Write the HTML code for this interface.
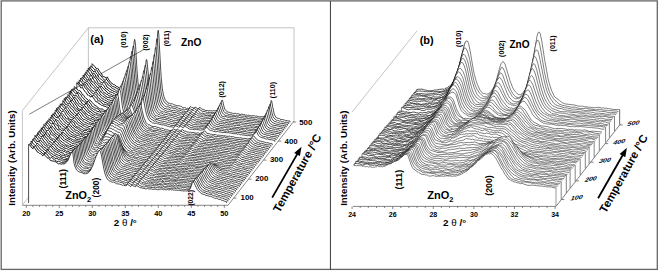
<!DOCTYPE html>
<html><head><meta charset="utf-8"><style>
html,body{margin:0;padding:0;background:#fff;}
svg{display:block;}
text{font-family:"Liberation Sans",sans-serif;font-weight:bold;fill:#000;}
</style></head><body>
<svg width="659" height="271" viewBox="0 0 659 271">
<rect x="0" y="0" width="659" height="271" fill="#fff"/>
<g stroke="#aaa" stroke-width="0.7" fill="none">
<polyline points="22.4,205 22.4,110.5 88.4,27.8 294,27.8 294,121"/>
<line x1="88.4" y1="27.8" x2="88.4" y2="122"/>
<line x1="22.4" y1="205" x2="88.4" y2="122"/>
</g>
<g fill="#fff" stroke="#000" stroke-width="0.7" stroke-linejoin="round"><path d="M92,122.4l0-58.7 2.5,2.5 2,2.6.9-.9.5,.6 2,3.3.5,.6 1,.8 1,2.6.5,.9 1-.1.5,.3.5-.1 1,1.4.5,.4.4-1.2.5-.5 1,2.2 2.5,3.4 2.5,1.9 1.5,.5 1.5,1.4.5-.1.4,.6.5,0 1.5,1 .5,.2.5-.2 1,.5.5,.1 1.5-.4.5,.3.5-.1 1-.5 1,0 .9-1.1 1-.5.5-.6.5-1.1 1-3.6 1-5 1-9.6 2-24.5.5-2.3.5,1.7.5,5 1.4,24.1 1,12 .5,3.5 1,4.5 1,1.6.5,.1.5-.2 1-1.8.5-1.4 1-6.6 2-20.1.4-2.3.5,.7 2,19.8 1.5,10 .5,1.7.5,.2 1,0 .5-.6 1-4 1-7.9 1-13.6 1.4-27.9.5-6.3.5-1.4.5,4.6 2,36.5.5,7.2 1,10 1,5.6.5,2.1 1,2.7 1,1.9.4,.6.5,.1 1,.7.5,1 1,.2.5-.1 1,.6 1.5-.2 1.5,1.1 2,.3.4,.5 2,.3 1-.3 1,.8.5-.2.5,0 .5,.2.5,.8.5,.3 1.5,.4.5-.4.5,0 1.4,1.2.5-.5.5,.1.5-.3.5,.4.5-.2.5-.3.5-1.1.5-.3.5,.6.5,0 .5,.5.5-.1 1.5,.9 1-1.4 2.4,1.5 1,.4.5-.2.5-1.2 1,.3 1.5,1.2 2,.9 1,.1.5,.4 1.9,.1 1.5,.3 1-.2.5,.3.5-.3 2,.4.5-.3 2,.1 1.9-.3 1.5-1.1 1-1.6 1-3.2 1-4.2.5-.4.5,.9 1,4.6 1,3.5 1.9,2.3 1.5,.9 1,0 1.5,.6 1.5,.2.5,.4 1,.2.5-.2 1-.2 1.4,.6 1.5-.2 1,.6 1,.2 1,0 .5-.2 2,.3.5-.1 1.4,.7 1.5,.1.5,.3.5-.3 1,0 .5,.4 2.5,.3 2-.3 1,.5.9,.1 1-.2 1.5,.8.5-.3.5,.2 1,.1 1-.3 1,.3 2.5-.3.4-.4 1.5-.2 1-1 1-2.3.5-1.6 2-10.5.5,.5 1,5.8 1.5,7.1.5,1.3 1.4,2.3.5,.1 1.5,.9.5-.1 1,.3.5,.5 1,.4 1-.1 1,.3 1,.1 1.4,.7 2,.1 1.5,.5.5-.3.5,.2 0,1.3" stroke-dasharray="58.70 52.77 9999"/><path d="M92,63.7l2.5,2.5 2,2.6.9-.9.5,.6 2,3.3.5,.6 1,.8 1,2.6.5,.9 1-.1.5,.3.5-.1 1,1.4.5,.4.4-1.2.5-.5 1,2.2 2.5,3.4 2.5,1.9 1.5,.5 1.5,1.4.5-.1.4,.6.5,0 1.5,1 .5,.2.5-.2 1,.5.5,.1 1.5-.4.5,.3.5-.1 1-.5 1,0 .9-1.1 1-.5.5-.6" fill="none" stroke-width="0.9"/>
<path d="M90.7,124l0-58.2.5,.6.5,.2.5,.9.5,.2 1,.8 1,1.3.5,.4 1-.6.5,.4 2.9,4.6.5,.3 2,2.4.5,.9 1,.8 1.5,1.7 1-1.4 1,.5 1.5,2.5.4,.6 1,.6 1.5,2.1 1,.8 2,.6 3.5,2.1 2.9,.7.5,.3 4-.9 2-2.5 1-2.2 1.4-6.1 1-8.6 2-22.1.5-1.7.5,1.4.5,4.4 1.5,21.8 1,11.4 1,5.6.5,1.6.4,1.2 1,1.1.5,0 1-1.9.5-1.7 1-5.6 2-17.9.5-2.1.5,.8.5,3.3 1.5,14.1.9,6.8 1,4 .5,.7.5,.1.5-.5 1-2.2.5-2.2 1-7.6 1-11.9 1.5-25.1.5-5.6.5-1.3.5,4.1 1.9,33.3 1.5,15.6 1,4.9 1.5,4.1 1,1.7 3,2.4.9,.2 1,.6 1.5,0 2,1.4 1.5-.3 1,.2 2,.7.9,.7 2.5,.5 1,.5 1.5-.1 1,.5.5,0 1-.3 2.4,.7 1-1.8 1,.3.5,.6 2,.6 1-1.5 1,.4 1.5,1.3 1,.5.5-.6.4-1.2.5,0 1.5,1.3 2.5,1.4 3,.4 2,.8 1.4-.4 1.5,.4 2,.1 1.5-.2.5,.3 2-.7 1.9-2.7.5-1.1 1.5-5.2.5-.4.5,1 1.5,5.6 1,2.2 1,1.2 1,.4.5,0 1.9,1.2 1,.3 1-.3 2.5,1 1.5,0 1,.5.5,.1 1-.4.9,.4.5-.1.5,0 .5-.3 1,.1 1.5,.6 2.5-.1 3,.9 1.4-.3 2,.6 2,.1 1.5,.4 1,.1 1.5-.3 1.9,.7 1.5-.3 2,.4 3-.5 1-.7.5-.6 1.4-3.2 1.5-7.7.5-1.6.5,.4 1.5,8.1 1,3.7 1,1.7 2.5,2.2.9,.2.5-.1 1.5,.8 1-.2 1.5,.9 1.5,0 1.5,.6 1.5-.2.5,.3 1.9,.2 0,1.3" stroke-dasharray="58.20 50.52 9999"/><path d="M90.7,65.8l.5,.6.5,.2.5,.9.5,.2 1,.8 1,1.3.5,.4 1-.6.5,.4 2.9,4.6.5,.3 2,2.4.5,.9 1,.8 1.5,1.7 1-1.4 1,.5 1.5,2.5.4,.6 1,.6 1.5,2.1 1,.8 2,.6 3.5,2.1 2.9,.7.5,.3 4-.9 2-2.5" fill="none" stroke-width="0.9"/>
<path d="M89.5,125.6l0-58.3 1.4,1.3 1,1.3 2,2 .5-.7.5-.3 1,1.8 1.5,1.6 1.5,3.1 1.5,1.5.4,.2.5,.6.5,0 .5,.6 1,.6.5,.8.5-.5 1.5,1.1.5,.1.5,.3 1.5,2.4 1,.5.5,.6.5-.1.9,1.1.5,.9 1,.3.5,.5 1,.5.5-.1.5,.3 1.5,1.6 1.5-.2.5,.3 1-.1 1.4,.5 1-.3 1.5-.9.5,.2 2-1.6.5-.8.5-1.6 1.5-5.7 1-7.4 1.9-20.5.5-1.9.5,1.4.5,4.1 2,26.2 1,7.6 1,4.3 1,1.6 1,.5 1-1.9.4-1.6 1-4.9 2-16.3.5-1.7.5,.8.5,3.2 1.5,12.8 1,6.2 1,2.9 1,.9.5-.3.4-.6 1-3.2 1-6.8 1-11.1 1.5-22 .5-4.9.5-1 .5,3.3 2.5,35.3 1,8.3.9,4.9.5,1.6 1,2.2 1,1.6 1.5,1.3 1,.6 1,.4 1-.2.5,.3.5-.1 1.4,1.2 1.5-.3 1,.3 1,.7 1.5-.4 2.5,1.6 1,.3.5-.2 1.9,.4.5,.5.5,.2 1.5-.1.5,.2 1,0 1.5,.9.5-.1.5-1.3.5-.6.5-.1.5,.3.5-.1 1.9,1.2 1-1.3 1,.2.5,.1 1,1 1,.4.5-.4.5-.9.5-.2 3.4,2.9 1,0 .5-.3 2.5,1 .5,0 1-.3 1.5,.4 1-.4.5,.3.4,0 .5,.2 1-.2.5-.4 1,0 1,.3 1.5-.5.5,0 .5-.4 1.5-2.7 1.5-4.9.4-.1.5,1.1 1.5,4.7 1,2 1,1.2 1.5,.9 2,.7 1-.1 1.4,.4 1.5,0 .5,.2.5-.1.5,.3 1,.2 1-.3 2.5,.7 1-.1 2.9,.6 1.5,0 1.5,.5 3-.1 2,.7 1.9,0 1.5,.3.5-.2 2.5,.8 1.5-.2.5,.4.5-.1.5,.3.5,0 1.9-.2.5-.4 2-.1.5,.1 1-.4 1-1.2 1.5-4.4 1.5-6.7.4,.4 2,9.6 1,2 1.5,2.1 1,.5 1.5,.3 1.5,1.1 1-.1 1.9,.6 1.5,.1 4,.8 1-.1.5,.1 0,1.4" stroke-dasharray="58.30 50.25 9999"/><path d="M89.5,67.3l1.4,1.3 1,1.3 2,2 .5-.7.5-.3 1,1.8 1.5,1.6 1.5,3.1 1.5,1.5.4,.2.5,.6.5,0 .5,.6 1,.6.5,.8.5-.5 1.5,1.1.5,.1.5,.3 1.5,2.4 1,.5.5,.6.5-.1.9,1.1.5,.9 1,.3.5,.5 1,.5.5-.1.5,.3 1.5,1.6 1.5-.2.5,.3 1-.1 1.4,.5 1-.3 1.5-.9.5,.2 2-1.6" fill="none" stroke-width="0.9"/>
<path d="M88.2,127.2l0-59 1,1.6.5,.4.5,0 .5,.3 1.5,3 .5,.6.9-1.3 1,1 1.5,2.8 3,3.6 1,1.6 2.5,1.4.9-1.2 1,.7 1,1.4 1.5,2.9 5,3.6.5-.1 1.4,1.1.5-.1 1,.4 1.5,1 1.5,.5 1-.7 1.5,.6 1.5-1 .4,.4 1-.8 1-1.5 1-1.5.5-1.4 1-4.5 1-6.9 2-18 .5-1.8.5,.9.5,3.5 1.4,19.2 1,9.9.5,3.2 1,3.7 1,2 .5,.4.5-.2 1-1.6.5-1.4 1-4.6 2-13.5.4-1.6.5,.5.5,2.4 2,14 1,4.4.5,1.2 1,.9 1-.8 1-2.9 1-5.8 1-10.1 1.4-20.4.5-4.4.5-.8.5,3 .5,5.9 1.5,21.1 1.5,12.6 1,4.5 1,2.5 1,1.9.5,.2.9,.8 1.5,1.6 1.5,0 1,.6 1.5-.1 3,1.4.5-.1 1.4,.4.5-.2 1,0 .5,.4.5-.3.5,.5.5,0 .5,.6.5,0 .5,.3.5-.3 2,.9.5-.1.5,.3 2.4,.1 1.5,.4.5-1.2.5-.5.5-.1 1,.3 1,.5 1,.9.5-.4.5-.8.5,0 .9,.5.5,.6 1,.6.5,0 .5-.1.5-1.1 1-.1 1.5,1.3 1.5,.4 1,.7 1,.3.4,.1 1-.4.5,0 2.5,.7 1,0 .5,.2 1.5-.3 1,0 1.5,.5 2.9-.6.5-.6 1.5-2.4 1.5-4.4.5-.2 2,5.5 1.4,2.7.5,.4 2,.5 1.5-.2.5,.1 1,.9.5,.2.5-.3 1,0 .5,.3 1.5,.3 2.9,.2 1.5,.5 1.5,.2 1.5,.4 1.5,0 1-.2 1.4,.4.5-.1 2.5,.3.5,.2 3,.5 2-.2.4,.3 3,.3 1,.5 1-.4 1.5,.6 1-.1.5,.2 1.5-.5 2.4-.2.5-.5 1-1.8.5-1.3 1.5-5.9.5-1.3.5,.2 1.5,6.5 1,3 .5,1.1 1.9,1.7 4,1.7 1,.2.5-.1 2,.5.5,.3.9,.1 1-.2 1.5,.6 2,.1 0,1.3" stroke-dasharray="59.00 52.77 9999"/><path d="M88.2,68.2l1,1.6.5,.4.5,0 .5,.3 1.5,3 .5,.6.9-1.3 1,1 1.5,2.8 3,3.6 1,1.6 2.5,1.4.9-1.2 1,.7 1,1.4 1.5,2.9 5,3.6.5-.1 1.4,1.1.5-.1 1,.4 1.5,1 1.5,.5 1-.7 1.5,.6 1.5-1 .4,.4 1-.8 1-1.5" fill="none" stroke-width="0.9"/>
<path d="M86.9,128.8l0-58.8.5,.3.5,1.1 1.5,1.5 1.5,2.5.5,.3 1-1.2.5,.2 1.5,2.7.9,.6 1,1.2 1.5,3.2.5,.8 1,.6 1,.1 1,.9 1-.7 1.5,1.4 1.9,3.4.5-.1 2,1.3 1.5,1.7 1.5,.3 1,.5.5,0 1.5,1.1.4-.1 1.5,1.3 2-.3 1,.6.5,.1.5-.3 1.5,0 .5-.3 1-2 .5-.5.9-1.5 1.5-5 1-5.9 1.5-13.4.5-3.4.5-1.5.5,.6.5,2.9.5,4.4 1,13.6 1,9.3 1,4.9.9,2.6.5,.9.5,.2.5-.2 1-1.4.5-1.2 1-3.7 2-12.9.5-1.4.5,.7.5,2.2 1.5,10.6.9,4.9 1,2.6.5,.6.5,.1.5-.3 1-1.7.5-1.5 1-5.4 1-8.7 1.5-18.4.5-3.9.5-.4.5,2.8 2.4,28.3 1,6.6 1,4.4 1.5,3.2.5,.7 1.5,.9.5,.7.5,.1.5,.4.5,0 .9,.5 2,1 1,.2 1.5-.1 1.5,.5.5-.1 1.5,.7 1.4,.3 2.5,.1 1.5,1 .5-.1.5,.4 1,.3.5-.2.5,0 .5-.3 1.5,.9.9-.1.5-.2.5-1 .5-.4 1,.6 2.5,1.1 1-1.5 3.5,2.2.4-.4.5-1.1.5,0 1,.7.5-.1.5,.3 1.5,1.1 1.5,.2.5,.4 1.5-.2 1.5,.6.9,.2 3,.1.5,.3 1.5-.8 1.5,.1 1,.3 1.5-.4 1.4-1.5 2-4.5.5-.5.5,.5 1.5,4.3 1,1.7.5,.4 1,.3 1.5,1.2.9,0 1.5,.5.5,0 .5,.4.5-.2 2,.5.5-.1.5,.1 1.5-.2 1.9,.7 2.5,0 1.5,.3.5-.2 1.5,.7 2,0 1,.1 1.4-.2.5,.4 1,.2 1,.2 1.5-.2.5,.1.5,.3 1.5,.1 2.5,.5.4-.1 1,.1.5,.3 1.5-.2 1,.1.5,.3 1.5-.3 1.5,.2 2-1 .4-.5 1-2.2 1.5-5 .5-1.2.5,.3 1.5,5.4 1,2.8 1,1.7.5,.4 2.4,1.7.5-.1 1.5,.4 1-.2 1,.5 1.5,.1.5,.4 1.5,.2 1.5,.6 1.4-.2 1.5,.4 0,1.3" stroke-dasharray="58.80 52.28 9999"/><path d="M86.9,70l.5,.3.5,1.1 1.5,1.5 1.5,2.5.5,.3 1-1.2.5,.2 1.5,2.7.9,.6 1,1.2 1.5,3.2.5,.8 1,.6 1,.1 1,.9 1-.7 1.5,1.4 1.9,3.4.5-.1 2,1.3 1.5,1.7 1.5,.3 1,.5.5,0 1.5,1.1.4-.1 1.5,1.3 2-.3 1,.6.5,.1.5-.3 1.5,0 .5-.3 1-2 .5-.5" fill="none" stroke-width="0.9"/>
<path d="M85.7,130.5l0-58.4.5,.3.4,.9 2.5,2.6 1,.6 1-1.3.5,.5 2,4.1.5,.4 1,1.7 1,.8 1.4,1.8 2.5,2.1 1-.7 3.5,3.9.5,.2 1,1.1.9,.7 1,1.2 1,.7.5-.2.5,.4.5,0 .5,.6.5,0 1,.8 1.5,.1.5,.4 1.5-.2 1.4,.5 1,.6.5,.1.5,0 .5-.8 1-1 .5,.1.5-.4.5-.2 1-1.1 1.5-5.4 2.4-17.9.5-2.9.5-1.1.5,.9 1,6.4 1,12.7 1,8.9 1,4.5 1,2.6 1,.9.5-.1.5-.3.9-2 1-3.5 2-11.8.5-1 .5,.7.5,2 2,11.5 1,3.7 1,1.1.5,.2.4,0 .5-.3 1-2.4 1-5 1-7.7 1.5-16.2.5-3.8.5-.9.5,2.5 2,21.9 1.5,10.4.9,3.8 1,2.4 2.5,2.8 1.5,.3 1,.7 1,0 .5-.2 1.4,.8 1,0 1,.6 1-.1.5,.5.5,0 .5,.5 1.5-.1 1,.5 1-.5 2.9,1.3 1,.1.5-.3.5,.1 1,1 .5,.2.5-.3 1.5,.5 1-.3.5-1.2.5-.7.5,0 1.4,1.4 1.5,.5.5-.4.5-1 1,.1 2.5,2 .5-.4.5-1.1 2,.7 1.4,1.1 1,.4 2,0 1,.6.5,.2.5-.2.5,.3.5,0 .5,.4 1.5-.4.9,.3 1-.5 1,.3 1.5-.3 2,0 1-.3 1.5-1.4 1.5-3 .5-.8.4-.3 1.5,3.5 1.5,2.2 1.5,1.2 2,.8 1,.2 1-.1.9,.2.5,.4.5-.2.5,.2 1.5-.1 1.5,.6.5-.2 2.5,.3 1.5,.6 1.4,0 1.5,.3 1.5,0 1,.3 1.5-.3 1.5,.6.5-.1 1.5,.3.4,0 1,.4 2.5-.2 1.5,.5 2.5,.1.5,.3 1.5,.1.5,.2.4-.2 1.5,.2.5-.2.5,.1 2.5-.4 1-.5 1-1.2 1-2 1.4-5 .5,.2 1.5,5.5 1,2.5.5,.8 2,1.6 1.5,.8 1,0 1.5,.5.9,.1 1,.5 1.5,.4 3,0 1.5,.6 1.5,.1 0,1.4" stroke-dasharray="58.40 50.70 9999"/><path d="M85.7,72.1l.5,.3.4,.9 2.5,2.6 1,.6 1-1.3.5,.5 2,4.1.5,.4 1,1.7 1,.8 1.4,1.8 2.5,2.1 1-.7 3.5,3.9.5,.2 1,1.1.9,.7 1,1.2 1,.7.5-.2.5,.4.5,0 .5,.6.5,0 1,.8 1.5,.1.5,.4 1.5-.2 1.4,.5 1,.6.5,.1.5,0 .5-.8 1-1 .5,.1.5-.4.5-.2" fill="none" stroke-width="0.9"/>
<path d="M84.4,132.1l0-58.3 1.5,1.2.5,.8.5,.4.5,1.3.5,.1.5,.6.4,.1.5-.5 1,.4 1.5,3.5 1.5,.3.5,.5 1,1.9 1.5,1.3 1,1.8 1-.1.9-.4.5,0 1.5,1.3.5,1.2 1,1.6 1,.9.5,.8 1,.3 1.5,1.2.5-.1 1.4,1.6.5,.2 1-.1 3,1 2,1.4 3-.9.9,.1.5-.3 1.5-1.4.5-.4 1-2.1 1-3.4 1.5-8.2 1.5-11.2.5-.6.5,.9.9,5.8 1,11.6 1,8.3.5,2.7 1,3.6 1,1.6 1,.2 1-1.1.5-.9 1-3.4 1.9-9.9.5-1.1.5,.5.5,1.9 2,10.1.5,1.8 1,2.1.5,.6 1,.5.5-.4.5-.9 1-3.5.5-2.6.9-7.1 1.5-14.4.5-2.9.5-.7.5,2.3.5,4.3 1.5,15.3.5,3.9 1,5.5 1.5,4.6 1.9,2.8 1,.9 1,.4.5-.4 1,.2 1.5,.8.5,.6 1-.1 2.5,.2.5,.5.9,.2.5-.2 1,.1 1,.4 1.5,.2 1.5,.6 1.5,.1 2.4,1.2 2,.4 1-.2 1,.2.5-1.2.5-.6 1.5,.3.5,.3.5,.8 1,.6 1-1.5 1.4,.5.5-.1 1.5,1.2.5-.1.5-1.3.5,0 2,.9 1.5,1.4.5,0 .5,.4 2.9,.3 1,.6 1-.4 1,0 .5,.2.5-.3.5,.3 1-.1 1.5,.4.5-.2 1.4,.2 2-.6 1.5-1.4 2-3.7.5-.2 2.5,4.9 1.4,1.5 1,.5 2,.2.5-.1 2.5,1.1 1-.3 1.9,0 .5,.4 1,.1 1.5-.1 1,.5 1,.2 2,0 .5,.2.5-.2.5,.3.5-.3 1.9,.6 1-.1 1,.6.5,.1.5-.4.5,0 1,.4 1-.1 1,.4 1,.1.5-.3.5,.4.4,0 .5,.3 2-.2 2,.6 3-.1 1,.7 2.9-.4 1.5-.8 1-1.1.5-1 2-5.1.5,.1 2,6.1.5,1.2.9,1.2 2.5,1.6 1.5,0 .5,.5 1,.3.5-.2 1.5,.4.5-.2 1.4,.8 1.5-.2 1.5,.8 1,.1 1,.3.5-.1 0,1.2" stroke-dasharray="58.30 49.99 9999"/><path d="M84.4,73.8l1.5,1.2.5,.8.5,.4.5,1.3.5,.1.5,.6.4,.1.5-.5 1,.4 1.5,3.5 1.5,.3.5,.5 1,1.9 1.5,1.3 1,1.8 1-.1.9-.4.5,0 1.5,1.3.5,1.2 1,1.6 1,.9.5,.8 1,.3 1.5,1.2.5-.1 1.4,1.6.5,.2 1-.1 3,1 2,1.4 3-.9.9,.1.5-.3 1.5-1.4" fill="none" stroke-width="0.9"/>
<path d="M83.1,133.7l0-58.7 1,1.8.5,.6.5,0 .5,.4 1.5,2.3.5,.1 1-1.1 1,1.3.5,1.2.9,1.7 1,.6 2,2.6.5,.2 1,1.4 1,.7 1,1.1 1-1.6 1,1.1.5,1.5.9,1.4.5-.2.5,.3 1,1.3.5,.2 1.5,1.7 3,2 .5-.1 2.4,.5 1,.9.5,.1.5-.2 1,.4 1.5-.4.5,.6.5,.2 1.5-.7.5-.1 1.5-.8.4-.4.5-.8 1-2.6 1-3.7 2.5-15.8.5-1.4.5,.5 1,5.9 1.5,16.2 1,5.3.9,3.5.5,1.1.5,.4 1-.1 1-.5.5-1 1.5-4.8 1.5-7.1.5-.8.5,.3.5,1.7 1.4,7.5 1,3.6 1,1.8 1,.8 2-2.8.5-1.6 1.5-8.7 2-16.2.5-.3.4,2.1 2.5,21.7 1,5 1,2.9 1,1.8 1,1.4.5,.2 1.5,1.5 1.4,.1.5,.4 1,.3.5-.1 1,.6 1.5-.1 1.5,.9 1,0 .5-.3 1.5,1 .5,0 .4-.3 1,.1.5,.5 1,.1.5-.2 3.5,1.3.5,0 1.5,.5.5-.1 1.4,.5.5-.2.5-1.2 1-.6 1,.5.5,.6 1.5,.6 1-1.6 1.5,.9.5,0 1,1.1.4,.1.5-.1.5-1.4.5,.1 1.5,1 .5,0 1,.3 2.5,1.5 1.5-.2.5,.5.9,.2 2,0 1.5-.3 1.5,.3.5,.4 1.5-.4.5,.2 1.5-.4.9,.2.5-.2 1-1.1 1.5-2.6 1-1 1,1 1.5,3.3.5,.6 2,.8.5,.6.9,.1.5-.1.5,.3 1.5-.1.5,.3 1,.2.5-.2.5,0 2,.7 1-.3.5,0 .9,.7 1.5-.3.5,.3 2,.1 1.5,.6 2-.4 1.5,.5.9-.2 1,.3.5,.5 1,.3.5-.1.5,.3 1-.1 1-.3 1,.2.5,.4 2.5,.1.4,.2.5-.2.5,.2.5-.1 1.5,.3 1.5,.5.5-.3 2.5-.1.5,.2.5,0 1.9-1.2 1-1.5 2-4.7.5,.4 1,2.9 2,4.2 2,1.6 2.9,1.1 3,.5 1,0 1,.4 2.5,.4.4,.3 2.5,.3 0,1.2" stroke-dasharray="58.70 51.96 9999"/><path d="M83.1,75l1,1.8.5,.6.5,0 .5,.4 1.5,2.3.5,.1 1-1.1 1,1.3.5,1.2.9,1.7 1,.6 2,2.6.5,.2 1,1.4 1,.7 1,1.1 1-1.6 1,1.1.5,1.5.9,1.4.5-.2.5,.3 1,1.3.5,.2 1.5,1.7 3,2 .5-.1 2.4,.5 1,.9.5,.1.5-.2 1,.4 1.5-.4.5,.6.5,.2 1.5-.7.5-.1 1.5-.8" fill="none" stroke-width="0.9"/>
<path d="M81.9,135.3l0-58 .9,.5 1,.9 1,1.5.5,.4 1,.5 1,.3 1,.9 1.5,1.8 1.5,2.7 1.4,1 .5,.6.5-.1 1,1.1 1,1.7.5,.1.5-.9.5-.5 1,1.5 1,.9 1.5,2.8 1,.3.9,1 1.5,.7 2,1.6.5-.1 1.5,1.5.5-.2 1,.2.5,.4 1.5,.2.5-.4.4,.3.5-.2 1.5,1.2.5,.1 2-.6 1.5-1.6 1-1 1-2.2 1.5-6.4 1.4-9.1.5-2.4.5-1.1.5,.4 1,4.9 1,10.7 1,7.8 1,4.1 1,1.7.5,.2.5,.5 1,0 1.4-2.7 1-2.8 1.5-6.1.5-1.3.5,.4 2.5,10 1,3.1 1,1.3.5,.1 1.4-1.3.5-.9.5-1.6.5-2.3 1-5.8 1.5-11.4.5-2.6.5-.5.5,1.8 2.5,19.2.9,4.9 1.5,3.7 2,3 1,.2.5-.2 2,1.1.5,0 .5,.3 1-.1 1.9,.7 2-.2 1.5,.9 1,0 .5,.4.5-.2 1,.2.5,.7 1.5-.2.4,.5 1.5,.7 1.5-.4.5,.5.5,.2 1-.3 1.5,.5 1-.2.5-.9.5-.5 3.4,1.8 1-1.7 2,1 1.5,1.3.5,0 .5-1.2 1.5-.3 1.9,1.7 1.5,.3.5,.4 1,.3 2,0 .5,.1.5-.2 1,0 .5,.3 2.4,.5.5-.2.5,.1.5-.1 1,.2 1.5-.3 1,.1 1-.3 1-.8 1.5-2.3.9-.8.5,.2 1,2.3 1,1.3.5,.1.5,.5 1.5,.9 1,.1.5-.1 2.5,1 2.4,0 .5,.4 1,.1.5-.3 1.5,.5 1.5-.3 1.5,.4.5-.1.5,.4 1.4,.1 1,.4 1.5-.2 2,.5 2,0 4.4,1.1 1-.3 2,0 1,.4 1.5,.1 1.5,.5.9-.2 1.5,.4.5-.3 3,.3 1.5-.8.5-.1 1-1.2 1.9-4.4.5,.2.5,.9 1.5,4 1,1.6 2.5,1.8 1,.3.5-.1 1,.1 3.9,1.3 1-.4.5,.1 1,.6 2.5,.1 1.5,.5 0,1.3" stroke-dasharray="58.00 50.14 9999"/><path d="M81.9,77.3l.9,.5 1,.9 1,1.5.5,.4 1,.5 1,.3 1,.9 1.5,1.8 1.5,2.7 1.4,1 .5,.6.5-.1 1,1.1 1,1.7.5,.1.5-.9.5-.5 1,1.5 1,.9 1.5,2.8 1,.3.9,1 1.5,.7 2,1.6.5-.1 1.5,1.5.5-.2 1,.2.5,.4 1.5,.2.5-.4.4,.3.5-.2 1.5,1.2.5,.1 2-.6 1.5-1.6" fill="none" stroke-width="0.9"/>
<path d="M80.6,136.9l0-58.8.5,.9.5,.1.5,.5 1,1.9 1,1 .4-.2.5,.3.5-.1 1,1.2.5-.4 1.5,2.9 1,1 .5,1 .5,.4 1,1.2.5,.9 1.5,.6 1.4,1.5 1-1.1.5,.4 1.5,2.2 1,1 .5,.2 1,1.1.5,.9 2,1.5.5,0 .5,.3.9,1 1,0 1,.7.5,.5 1.5,.7 1.5-.1.5,.3 1,.1.5-.3.5,.8.5,0 .5,.4 1.4-1 1-.5.5,0 .5-.4 1-1.1 1-2.1 1-3.6 2.5-13.1.5-1.1.5,.3.9,4.7 1.5,14.2 1,5.5 1,3.2 1,1.1.5,.1.5,.3 1-.6 1-2.2 1-3.1 1.4-5.9.5-.7.5,.7.5,1.4 2.5,9.3 2,2.5 1-.6 1-2.1 1-3 .9-5.1 1.5-10.3.5-2.3.5-.2.5,1.7 2,14.1 1,5.1 1,4 1,2.1 1.4,1.6 1.5,.9 1.5,1.4.5-.1.5,.2 2-.3.5,.2.5-.1 1.5,.8.5-.2 1.4,.4.5,0 1.5,.3.5-.1 2.5,1.1 2.5,.8 1,.1.9,.4.5,0 3,.9 1-.5.5-1.2.5-.2.5,0 2,1.4 1,.2.9-1.8.5,.1 1,.9 2,1.1.5-.2.5-1.2 1,.2 1.5,.9.5,.1 1.5,1.4.9,.4 2-.3.5,.1.5,0 1,.4 1,.1.5-.3.5,.3 3.5,.4 1.4-.2.5,.3.5-.1 3-1.1.5-.4 1.5-2.5.5-.2.5,.5 1,2.4.5,.6.4,.3 1.5,.5 2,1.2 2.5,.1 1.5,.6 1.5,0 .9-.1 2,.1 1,.4 1,0 .5,.2 1.5-.1 2.5,1.1.5-.2 2.4-.1 1.5,.1 1,.4 1,0 .5-.4 1.5,1 .5-.3 1-.2 1.9,.9 1-.1 1,.4 1-.6.5,0 .5,.1.5,.5 1,.4 2.5-.2 1,.3 1.4,0 2.5-.4 1.5-1.8 2-3.5.5,.2 1.5,3.6.9,1.9 2,1.8 1,.2 1.5,.7 1,.3 1-.3 1.5,.6 5.4,.9 1.5,.6 1,0 0,1.2" stroke-dasharray="58.80 50.75 9999"/><path d="M80.6,78.1l.5,.9.5,.1.5,.5 1,1.9 1,1 .4-.2.5,.3.5-.1 1,1.2.5-.4 1.5,2.9 1,1 .5,1 .5,.4 1,1.2.5,.9 1.5,.6 1.4,1.5 1-1.1.5,.4 1.5,2.2 1,1 .5,.2 1,1.1.5,.9 2,1.5.5,0 .5,.3.9,1 1,0 1,.7.5,.5 1.5,.7 1.5-.1.5,.3 1,.1.5-.3.5,.8.5,0 .5,.4 1.4-1 1-.5.5,0 .5-.4" fill="none" stroke-width="0.9"/>
<path d="M79.3,138.5l0-58.6 1.5,1.6.5,.1.5,1.1.5,.2.5,.9.5,.2.5,.5.5-.4.5-.1 1,1.1.4,1.2 1,1.6.5,.1.5,1 .5,.3.5,.9.5-.2.5,.9.5,.3.5,1.2 1,.8 1,.2.5,.9 1-.6.5,.3.5,.1.9,.9 1,1.9 1.5,1.7 2.5,2 1,.4.5-.2 1.5,1.9 1.4-.2.5,.5.5,.2.5,.8 2-.1.5,.4.5,0 .5,.5.5,0 .5,0 .5-.4.5,.2 1-.3 1-.7.5-.1.5-.5.4-.3 2-4.2 1-3.9 2-10 .5-.9.5,.1.5,1.4.5,2.5 1.5,14.1.5,2.8.4,2.3 1,2.9.5,1.1 1,.8 1-.3.5-1 .5-.5 1-1.9 2-7.4.5-1 .5,.2 1.9,7.5 1,2.6 1,1.5.5,.4 1-.2 1-.5 1-1.9.5-1.8 1-4.7 1.5-9 .5-1.8.4-.4.5,1.4 2.5,15.8 1,4.2.5,1.5 1,2 3.5,2.7 1.4,.2 2,.6 2,.9 1,0 1.5,.5.5-.1 1,.5.5-.2.9,.2 1,.4.5,0 .5,.5 1-.4.5,.1 1,.8 1,.1 1.5,.6 1.5-.2 1.9,.8 1-.3.5-1.1.5-.6 2,.9 1.5,1 1-1.3.5,0 2.9,1.7.5-.3.5-.9 7,2.9 1,.1 1.4-.4 1.5,.5.5-.1.5,.2 2.5,.1.5-.3 1-.1 1,.5 1.4-.1 2-1.2 1.5-2.2 1-.3 2,2.8 1,.9.5,.3 1.5,.3 1.9,1.1 1.5-.1 1,.3.5-.1.5,.4.5,0 1.5-.2 1,.2 1,.3.5,.4.9,0 1.5-.5 1,.4.5,.4 1.5-.6 2,.5 1-.1 1,.4 1.4-.1.5,.5 2.5,.2.5-.1 1.5,.4.5,0 1.5,.6 1.5-.2 3.4,.4 1.5,.6 2-.1 1.5,.3.5-.2.5,.3 1,.1.4-.6 1.5-.6 2.5-4.1.5,.2.5,.7 2,4.3 2,1.4 1.9,.4 2,.9 1-.1 1,.2 2,.9 1.5-.1 1,.2 1.9,.2 1.5,.6 0,1.1" stroke-dasharray="58.60 50.83 9999"/><path d="M79.3,79.9l1.5,1.6.5,.1.5,1.1.5,.2.5,.9.5,.2.5,.5.5-.4.5-.1 1,1.1.4,1.2 1,1.6.5,.1.5,1 .5,.3.5,.9.5-.2.5,.9.5,.3.5,1.2 1,.8 1,.2.5,.9 1-.6.5,.3.5,.1.9,.9 1,1.9 1.5,1.7 2.5,2 1,.4.5-.2 1.5,1.9 1.4-.2.5,.5.5,.2.5,.8 2-.1.5,.4.5,0 .5,.5.5,0 .5,0 .5-.4.5,.2 1-.3 1-.7.5-.1.5-.5" fill="none" stroke-width="0.9"/>
<path d="M78.1,140.1l0-58.4 1.4,2 .5,.2.5,.8.5,.1 1,1.2.5,.2.5-1 .5-.5 1.5,3.2.5,.3.5,.7.5,.3 1,1.3 1.4,2.6 1.5,1 2,2 1-1 .5,.1 2,2.5.5,.1 1,1.2.5,1.4.4,.4 1.5,.4 3.5,3.1 1.5-.1.5,.5.5,0 .5,.3.5-.2 1,.2.9,.6.5-.2 1,.4 1.5-.6 1.5,.1.5,.4 1-.6.5-.9.5-.2 1-1.9 1.4-5 2-9.6.5-1.4.5,0 .5,1.4.5,2.6 1,9.7 1,6.6.5,2.2 1,3 .5,.7.5,.2 1.4-.1 1-1 1-2.1 1.5-5 .5-1 .5-.4.5,0 .5,1 1.5,5.3 1.5,2.9.5,.6.5,.2 1.4,.2.5-.4 2-4.9 2-10.7.5-1.6.5-.5.5,1.2 2.5,14.7 1.4,4.8 1,2.1 1,1.2.5,.4 1.5,.7 1.5,1.1 1.5-.3 1.5,1.1.9,.4 1,.1 1.5,.5 1-.2 1,.2.5,.3.5,0 .5,.4.5-.1.5,.2.5-.3 1.5,.7 2.4,.4 1,.7 1.5,.2 1,0 2.5,.3 1-1.4.9,.2 2.5,1.3 1-1.6 1.5,.9 1,.2 1,.5.5-.1.5-1 1,0 .5,.1.9,1.1 1,.3.5,.7.5,.3 1.5,.3 1.5,0 .5,.4 1,.2 2-.2 1.9,.3 1.5-.3 1.5,.3 1-.1 1,.2 1-.5.5,.1 1-.5 1.9-2.2.5-.2.5,.2 1.5,2.5 1,1 1.5,.1 2,1 2-.3.4,.2 1.5,.1 2.5,.8 2-.2 1.5,.7 2,0 .9-.3 2,.8 1-.2 4.5,.7.5-.1 1.4,.6.5-.3 3.5,.2 1.5,.5 1.5,.2 2,.5 1.4,0 1.5,.4 1-.2 3,.5.5-.2 2-1.7 1.4-2.2.5-.4.5,0 2.5,4.3 1,.9 2,1.3.5,.2 1.5-.2 1,.5 2.4,.7.5-.1 2,.4.5,0 .5,.2.5-.1 1,.2.5,.3 2,.3 0,1.2" stroke-dasharray="58.40 51.10 9999"/><path d="M78.1,81.7l1.4,2 .5,.2.5,.8.5,.1 1,1.2.5,.2.5-1 .5-.5 1.5,3.2.5,.3.5,.7.5,.3 1,1.3 1.4,2.6 1.5,1 2,2 1-1 .5,.1 2,2.5.5,.1 1,1.2.5,1.4.4,.4 1.5,.4 3.5,3.1 1.5-.1.5,.5.5,0 .5,.3.5-.2 1,.2.9,.6.5-.2 1,.4 1.5-.6 1.5,.1.5,.4 1-.6" fill="none" stroke-width="0.9"/>
<path d="M76.8,141.7l0-59 .5,1 1,.7.5-.1.5,1.2.5,.4.4,1.1 1,1.2 1-1 1.5,2.6.5,.4.5,1 1,1.2.5,.2 1.5,2.5.5,.3.5-.5 1,1 .4,.9 1,0 1-.8 2,3 .5,.3.5,1.2 1,1.4 1-.2 1,.8.5,.9.5-.2.5,.9.4-.3.5,.8.5,.2.5,.6 1,0 1.5,.8 1,0 1.5,.9 1,.1 1.5,.5 1.4-.3.5,.3 2-.7.5-.5 1.5-1.5 1-2.6 1-3.1 1.5-7.4.5-1.8.5-.8.4,.2.5,1.2.5,2.2 1.5,12.8.5,3 1,3.2 1,1.7 1,.4.5-.3.5,.1 1-.5 1-1.9 1.4-4.7 1-2 .5,.1.5,.7 2,5.8 1,2.2.5,.5.5,.2 2-.5 1-1.7 1.4-4.7 1.5-7.8.5-1.1.5,.3.5,1.3 2,10.6 1,4 1,2.9 1.5,2.5.9,1.2 1.5,.8 1,.9.5,.2.5-.2 1.5,.5 1-.3.5,.1 1,.6 1.5,.2.4,.3.5-.1 2,.8 1.5-.3 1.5,.8 1-.2 1.5,1 1.5,.1.9,.4 1.5,0 1.5,.3 1,.4.5-.2 1-1.8 1.5,.8 1,.2 1,1.1.4-.3.5-1.1 1,0 2.5,1.6.5-.3.5-1.2.5-.1 3,1.6 1.4,1.2 1.5,.3 1-.1 1,.1 2,.5.5-.3 1-.3.5,.4 1.5,.1 2.4,.5 1.5-.4 2-.2 1-.7 1.5-1.6.5,0 .5,.3 1.4,2 .5,.4 1,.4.5,0 .5,.2.5,0 .5,.3.5,0 .5,.5.5,.1 1,0 1,.4 1.5-.4 1,.1.4,.4 2,0 .5,.3 1.5,.3 2-.2 1.5,.2.5,.2 1.9-.3 1,.5 1.5,.1.5,.3 1.5,.1.5,.2 3,.1.5,.3 1.4-.1 1,.4.5,.4 1.5-.1 1,.3 1.5,0 1,.4 1-.1 1,.5 1.4-.3 3,.5 1-.3 1-1 1-.7 1.5-2.4.5,0 1.9,3.7 1,1.2 1,.6 2.5,.8 1,.1 1.5,.8 1,.3 1-.3 1.4,.7 2.5,.3.5-.1 1.5,.6 1.5,0 0,1.4" stroke-dasharray="59.00 52.43 9999"/><path d="M76.8,82.7l.5,1 1,.7.5-.1.5,1.2.5,.4.4,1.1 1,1.2 1-1 1.5,2.6.5,.4.5,1 1,1.2.5,.2 1.5,2.5.5,.3.5-.5 1,1 .4,.9 1,0 1-.8 2,3 .5,.3.5,1.2 1,1.4 1-.2 1,.8.5,.9.5-.2.5,.9.4-.3.5,.8.5,.2.5,.6 1,0 1.5,.8 1,0 1.5,.9 1,.1 1.5,.5 1.4-.3.5,.3 2-.7.5-.5" fill="none" stroke-width="0.9"/>
<path d="M74.2,145l0-58.3.5,.1.5,.7.5,.4.5,.9.5,.1.5,.7.5,.1.5,.9.5,.4 1-.6 1.5,1.8.5,1.1 1,1.6.5,0 .5,.3.9,1.8 1.5,1.6 1,.4.5,.7.5,.2.5,.5.5-.6.5,.2 1.5,1.2.5,.8.5,.3 1.9,2.3 1,.9 1.5,.7 1.5,1.4 1.5,1 1,.4 1.5-.1.5,.2.5,.2.9,1 .5,.1 1.5,.3.5-.2 1,.3.5-.1 1-.7.5,.1 1.5-1.2 1.5-1 .5-.6.9-2.7 2.5-9.7.5-.8.5-.2 1,2.9 1.5,12 1,4.7 1,2 1,1.1.9-.1 1-.4 1.5-2.3 2-5.4.5-.6.5-.2 1,2 1.5,3.8 1,1.6.5,.1.4,.5 1,.3 1-.4.5-.4 1-1.9 1.5-4.4 1-3.9.5-1.2.5,.3.5,1.6 1,4.7 1.9,7.7 2,4.5 2,2 .5,.3.5-.2 2,1.3 2,.7 1.4,0 .5-.2 1,.2.5,.4 2.5,.7 1.5,.6 1-.2.5,.3 1.4,0 .5,.6 1,.5.5-.2 1.5,.6 1,0 1.5,.6 2.5,0 .5-1.1.9-.6 2,1.1.5-.1.5,.2.5-.3.5-.8 1.5,1.1 1,.3.5,.5.5,.2.5-.3.5-1.1.5-.2 1.9,1.6 1,.3.5-.1 1.5,.8 1.5,.1.5,.4 1.5-.3 1,.3 1.4-.1 1,.2 1,.5 1,.1 1-.1.5-.3 1,.1 1,.7.5-.1.5-.6 1-.5 1-.1 1.4-1.3.5-.1.5,.3.5,0 1.5,2.2 2,.2 1.5,.6 1,0 .5,.3.9,.1.5-.2.5,.3 2-.1.5,.1.5,.5 1,.3.5-.4 1,0 1,.5 1.5-.3 1.4,.3.5,.3 1.5-.1 1.5,.5 2,0 .5-.2 1,.2.5,.4 1.9-.1 1,.1 1.5,.9 3,.1 1,.3 2-.3.5,.4.9,.3.5-.3.5,.3 1.5-.1 1,.4 1.5,.2.5,.1 3.5-1 1.4-1.8.5-.3.5,.1 2.5,3.2 2,1.3 2,.6 2.4,.5 1.5,.6.5-.1 1.5,.7 1.5-.1 2,.7 1,.2.5-.2.9,.3 0,1.3" stroke-dasharray="58.30 49.06 9999"/><path d="M74.2,86.7l.5,.1.5,.7.5,.4.5,.9.5,.1.5,.7.5,.1.5,.9.5,.4 1-.6 1.5,1.8.5,1.1 1,1.6.5,0 .5,.3.9,1.8 1.5,1.6 1,.4.5,.7.5,.2.5,.5.5-.6.5,.2 1.5,1.2.5,.8.5,.3 1.9,2.3 1,.9 1.5,.7 1.5,1.4 1.5,1 1,.4 1.5-.1.5,.2.5,.2.9,1 .5,.1 1.5,.3.5-.2 1,.3.5-.1 1-.7.5,.1 1.5-1.2" fill="none" stroke-width="0.9"/>
<path d="M73,146.6l0-57.9.5,.6 1,.3.5,.8.5,.2.5,.6.4,.2 1,1.7 1-.5 1.5,1 1,1.2 1,2 .5,.7.5,.6.5,.2 1.5,1.9.9,.7.5,1 .5,.4.5,0 .5-1.3.5-.4 1.5,2.4 1,.7 1.5,2.8 1,.3 1,.8 1,.5.5,0 .4,.3.5-.2 1.5,1.1.5,.1 1.5,1.9 1.5-.3 1,.4.5-.2 1,.2 1,.6.9-.1.5-.2.5,.2.5-.2.5,.1.5-.3.5,.2.5-.4.5-.3 1.5-2.6 1-2.5 2-7.3 1-2.1.4,.1 1,2.2 1.5,12.1.5,2.6.5,1.6 1.5,2.3.5,.4 1,.1 1-1 1-1.4 1.9-4.7 1-1.6.5,0 .5,.7 2,3.7 1.5,1.9 1,.5 1.5,0 .5-.3.9-1.5 1-2.5 1.5-4.8.5-.8.5,.2.5,.7 3,12.8 1,2.3 1,1.4 2.4,2.7.5,.5 2,1.2 1.5,0 1.5-.3 2,1.3 1.4-.2 2.5,.9 1-.3 1.5,.8 2,.5 1,.1 2.4,.9 1,.1 1,.3 1.5-.3.5,.1.5-.9.5-.4 1,.2.5,.4 2,.9.9-1.7 1,.8 1.5,.5 1,.6.5-.1.5-1 .5,0 2,1.3 2,.7 1.4,1 2,.2 2,0 1.5-.3.5,.3.5,0 .5,.2 1.5-.4 1.4,.4 2.5,.1 2-.4 1.5-1.3 1-.2 1,.6 1.4,1.5 1,.6 2,.1 1,.5 1,.2 1,0 .5-.3 1.5-.1 1.4,.8 1,.2 2.5-.3 2,.5 1.5,.1 1,.4 1.4-.6 1.5,.8 4.5,.8.5-.3 1,0 3.4,1 .5-.1 1,.3 6.5,.5.5,.3 2.4,.2 3-.3.5-.5.5-.1 1-.8.5-.6.5-.1.5,.1 2.4,2.8 2,1.5 1.5,.2 1.5,.9 1.5-.3 4.4,1.5 2,.2 1.5-.1 1.5,.7 0,1.1" stroke-dasharray="57.90 50.38 9999"/><path d="M73,88.7l.5,.6 1,.3.5,.8.5,.2.5,.6.4,.2 1,1.7 1-.5 1.5,1 1,1.2 1,2 .5,.7.5,.6.5,.2 1.5,1.9.9,.7.5,1 .5,.4.5,0 .5-1.3.5-.4 1.5,2.4 1,.7 1.5,2.8 1,.3 1,.8 1,.5.5,0 .4,.3.5-.2 1.5,1.1.5,.1 1.5,1.9 1.5-.3 1,.4.5-.2 1,.2 1,.6.9-.1.5-.2.5,.2.5-.2.5,.1.5-.3.5,.2.5-.4" fill="none" stroke-width="0.9"/>
<path d="M71.7,148.2l0-58.9 4,4.3.5,.2 1-1.3 1.9,4 1.5,1.8 1.5,2.4 1.5,.5 1.5,1.4 1,.7 1-.9.5,.9.4,.3.5,.8.5,.3 1.5,2.5 1,.9.5-.3 2,2 1,.3.5-.1 1,.7.5,.8.9,.2 1-.2.5,.5 1,.3 1.5,1.1 1-.2 2,.5 1,0 2.4-1.4.5-.1 1-.9 1-2 1-2.8 1.5-5.9.5-1.4.5-.8.5-.2.5,.8.5,1.6 1,8.2.9,5.7 1,2.7 1,1.9 1,.2 2.5-2.9 1-1.9 1-2.9 1-1.4 1,.1 1.4,3.6 1,.9 1,1.3 2,.3 1.5-.6.5-.5.5-.9 1.5-4.6.5-1.1.4-.6.5,.2.5,1.4 2.5,10.1 2,5 1,.9.5,.2 1,1.3 1.9,1.3 1.5,.6 2,.1.5,.4 1.5,.7 2,.4 2.9-.1 1.5,.7 2,.5 1.5,.7 1,0 .5,.4 1.5-.1 1,.4.9,.1 1.5,.5 1-2.1 1,.3.5,.6 1,.2.5,.4.5,0 .5-.4.5-.8.5,.5 1.9,1 1.5-.1.5-.7.5,.1 2.5,1.8 2.5,.6 1,.5 4.9,.3 1-.1 1,.2 1.5-.2 2.5,.4 1.4-.5 2-.3 1.5-1.3.5,0 3,2.2 1.5,.7.4-.1 1.5,.4 1-.2.5,.3 1,.1.5-.3.5,0 2.5,1 1,.1.5-.2.9,.1.5,.3 1,.2 3.5-.1 1.5,.7.5-.1.5,.2.5-.2.5,.1.5-.1.5,.2 2.9,.1.5,.3 2.5,.2 1.5,.4.5-.1.5,.3 1.5-.1 3.4,1.1 1.5-.5 1.5,.5 1-.1 1.5,.4 1.4-.3.5,.2 1,0 1.5-1.1 1-1.1.5-.1 1,.7 1.5,2.1 1,.8 2.9,.9 1.5,.7 1,0 1.5,.5.5-.1 1,.2.5,.4 1.5,.1 3.4,.9 1.5,.2 0,1.2" stroke-dasharray="58.90 50.71 9999"/><path d="M71.7,89.3l4,4.3.5,.2 1-1.3 1.9,4 1.5,1.8 1.5,2.4 1.5,.5 1.5,1.4 1,.7 1-.9.5,.9.4,.3.5,.8.5,.3 1.5,2.5 1,.9.5-.3 2,2 1,.3.5-.1 1,.7.5,.8.9,.2 1-.2.5,.5 1,.3 1.5,1.1 1-.2 2,.5 1,0 2.4-1.4" fill="none" stroke-width="0.9"/>
<path d="M70.4,149.8l0-58.9 1,2.1 1,.5 1,1.3.5,1.1.5-.2.5,.5.5-1.2.5,.1 3.5,4.3 3.4,4.9.5,0 1.5,.7 1-2 1,1.2 1,2 1,1.5.5,.1.4,.5 1,1.3 2,1.2.5,.7.5,.1.5,.6 1,.6.5-.1 1.5,1 .5,0 1,.4.9-.1.5,.6 1,.4 1.5,0 .5-.1 2,.6.5-.1 1.5-1.2.5-.4 1-1.4 1.4-2.5 2.5-8.2.5-1.1.5-.5.5,.5.5,1.5 1,8.4 1,5.5 1,2.2 1,1.4.9,.3 1-.4 1-1.2.5-.7 2-4.8.5-1 .5-.4.5,0 1,.9 1.5,2.5 1.9,2.1 1,.1 2-.3 3.5-6.6.5,0 .5,.9 2.4,9.5 1.5,3.9 2,3.2 1.5,1.2.5,.2 1.5,1.5 1,.2 1-.1.9,.3 1-.1 1.5,.9.5-.1 3,.4 1,.5.5,.4.5-.1 1.4,.5.5-.1 1,.2 1.5,1 1.5-.4.5,.6.5,0 .5,.4 1,.1 1-.6 1,.4.5-.9.4-.4.5-.1 1,.1 2,1.4 1-1.2 3.5,1.8.5-.1.5-1.2.9-.1 3,2.1 1,.2 2,.7 3,.2.9,.4 1-.3 3,.3.5-.2.5,.4 1,.2 1-.8 2.9,0 1-1 1-.3 3,2.3.5,.1.5-.2 1.5,1.1 1-.5 1.4,.3.5-.2 1.5,.5 4.5,.2.5,.3 1.5,0 1,.3 1.4-.1 1,.4 1.5,0 1.5,.3.5-.2 1,.1 1,.5 1,.1.5-.3 2.9,.5.5-.1 2.5,.8 1.5,.1.5,.2 1.5-.1 1,.1.4,.3 2.5,.4.5-.2 1,0 1,.5 1-.2 1.5,.5 2-.5.9-1 1-.6.5,0 .5,.2.5,1 2,1.5 4,1.8 1.9,.4 1-.3.5,.1 1.5,1 2-.1 1.5,.7 2.9,.5 0,1.2" stroke-dasharray="58.90 52.47 9999"/><path d="M70.4,90.9l1,2.1 1,.5 1,1.3.5,1.1.5-.2.5,.5.5-1.2.5,.1 3.5,4.3 3.4,4.9.5,0 1.5,.7 1-2 1,1.2 1,2 1,1.5.5,.1.4,.5 1,1.3 2,1.2.5,.7.5,.1.5,.6 1,.6.5-.1 1.5,1 .5,0 1,.4.9-.1.5,.6 1,.4 1.5,0 .5-.1 2,.6.5-.1 1.5-1.2" fill="none" stroke-width="0.9"/>
<path d="M69.2,151.4l0-59 .5,1.2 1,.8.5,.2 2.4,3.7 1-1.4.5,.5 1,1.4 1,.8 1.5,3 1,1.3.5-.2.5,.4 1,1.5.4,.3.5-.1 1,.7 1-.8.5,.3 1.5,1.9.5,0 .5,.5 1,2.2.5,.5 1,.1 3.4,2.8 1,.5.5,0 .5,.5.5-.2.5,.1.5-.2.5,.5 1,.7 2.5,.1.5,.3.4,0 .5,.9.5-.2.5,.2.5-.5.5-.1 1.5-.6 1-.8 1.5-2.5 1.5-4 1.5-5.3.4-1 .5,0 .5,.6.5,1.3 1.5,10.9 1,3.2 1,1.9.5,.4 1,.2.5-.3 1.5-1.7 1-1.3 1.9-5.1.5-.6.5,0 .5,.4 1.5,2.3 2,2.3 2,.9.5-.2 1.9-1.9 2-3.9 1,.2 1,2.4 1,4.6 1,3.4 2,4.5 1.9,2.6 1,.9.5,.3.5-.2 1.5,1.2 4,1.5 1,.3.4-.2.5,.4.5-.2 1.5,.4 1.5,0 2,.9.5-.2 1,.2 2,.9.4,0 .5,.6 1.5-.1.5,.3 1.5-.2.5,.3 1-.2.5-1.1 1-.4 2,1.2.9,.4 1-1.4 1,1 .5,.2 1,0 1,.8.5-.2.5-1.1.5,.1 1.5,1.4 1,.4.5-.4 1.4,.9 1.5,.3 1-.2.5,.1 1.5,.7 1.5-.3 1,0 .5,.5 1,.2.5-.3.4,.1.5-.2 1.5,.3 1-.3.5,0 .5,.3 1,.1.5-.3.5,.2 1.5-1.4.5,.1 1,.5.9,.1.5,.5 1.5,.7 1,.7 1.5-.5 1.5,.5 1.5-.4.5,.4 1,.3 1.9-.1 1,.5 1,0 1,.4 1.5-.4.5,.3.5,0 1,.3 2.9,.1 1,.4 1.5-.2.5,.2 1.5-.1 1,.7 1-.5.5,0 1,.9.5,.1 1.4-.5 1.5,.9 1.5-.2 2.5,.8 1,.2.5-.2 1,.1 1,.6 1.9-.4 1,.2 1,.5.5-.1 2-.8 1.5-1.3.5,0 .5,.2 1,1.4.9,.8 2.5,1.5.5-.2.5,.1 1.5,.8 1,.3 1.5,0 .5,.3 2.4,.6.5-.2 1.5,.6 1-.3.5,.2 1,.6 1.5,.2 0,1.2" stroke-dasharray="59.00 51.45 9999"/><path d="M69.2,92.4l.5,1.2 1,.8.5,.2 2.4,3.7 1-1.4.5,.5 1,1.4 1,.8 1.5,3 1,1.3.5-.2.5,.4 1,1.5.4,.3.5-.1 1,.7 1-.8.5,.3 1.5,1.9.5,0 .5,.5 1,2.2.5,.5 1,.1 3.4,2.8 1,.5.5,0 .5,.5.5-.2.5,.1.5-.2.5,.5 1,.7 2.5,.1.5,.3.4,0 .5,.9.5-.2.5,.2.5-.5.5-.1 1.5-.6" fill="none" stroke-width="0.9"/>
<path d="M67.9,153l0-58.5 1,1 1,1.8.5,.1 2,2.3 1-1.3.9,.5 2,4.1.5,.1 1,1 .5,1.1 1,1.1 1.5,.6 1.5,1.6.5-1 .5-.5 1.9,2.2.5,.8.5,.2.5,1.1.5,.2.5,.7.5-.2.5,.8 1.5,.8 1.5,1.6 1.5,.4.4,.3.5,.1 1.5,1.3 1,.2.5-.4 1.5,.9 1,.2 1,.6.5-.1 1-.7 1-.1.4,.2 1-.4 1-1.1 2-3.4 2.5-8 .5-1.1.5-.1.5,.5.5,1.3 1.4,10.5.5,2 1,2.4 1,1.4 1-.3.5-.9.5-.1 1-1 .5-1.1 1-1.4 1.5-3.8.5-.5.5,0 .4,.2 2.5,2.7 1,1.4 2,.2 1.5-.3.5-.3 1-1 1.4-2.6.5-.2 1,1.4 2,7.5 1.5,4.3 1,1.7 1,1.1 2,2.6.5,.3.9,.2 1.5,1.2 1.5,.8 1.5,.2 1.5,.5.5,.5 2.9-.4 1,.5 2,.5 2.5,1.3 2,.1 1,.4 1,0 1.4,.7 1.5,0 1-2 1,.1.5,.7 1,.6 1,.3.5-.6.5-1.1.5,.1 1.4,1.5 1.5,.4.5-.2.5-.7.5-.1.5,.4.5-.1 2,1.7 1,.4.5,0 .5,.4 1.9-.1 1.5,.3 3.5-.2 1,.4 1.5,.1 1,.4 1.4-.5 1,.2 2-.4.5-.3.5,.1.5-.4.5,.1.5-.3 3,2.1 1.4-.6 1.5,1.1.5-.2.5,.3 1-.1.5-.3.5,0 2,.7 1-.2 1.5,.6 1.9-.3 1.5,.4 1,0 3,.5.5-.3.5-.1 2.4,.7.5,.1.5-.2 1.5,.4.5,0 .5,.3.5-.1 1.5,.2 1.5,0 1.5,.8.5-.2 1.4,.1 1,.5 1,.1.5-.3 1,.1 2,.8 2,.1 1-.2 1.4,.6 1.5-.4 1,0 1.5-1.4 1-.2 3,3 1,.5 3.4,.7 1,.4 2,.4 1,.1.5,.4 1.5,.1.5,.3.9-.2.5,.2 1.5,1 1.5-.2 0,1.2" stroke-dasharray="58.50 51.29 9999"/><path d="M67.9,94.5l1,1 1,1.8.5,.1 2,2.3 1-1.3.9,.5 2,4.1.5,.1 1,1 .5,1.1 1,1.1 1.5,.6 1.5,1.6.5-1 .5-.5 1.9,2.2.5,.8.5,.2.5,1.1.5,.2.5,.7.5-.2.5,.8 1.5,.8 1.5,1.6 1.5,.4.4,.3.5,.1 1.5,1.3 1,.2.5-.4 1.5,.9 1,.2 1,.6.5-.1 1-.7 1-.1.4,.2 1-.4" fill="none" stroke-width="0.9"/>
<path d="M66.6,154.6l0-57.8 1.5,.5.5,.8.5,0 2,3.2.5-1 .5-.1.5,.2 1.5,2.1.5,.4 1.4,2.4.5,.1 1.5,3.3 1.5,.5.5,.3 1,0 .5-.7.5-.1.5,1 1,1.1 1,.5 1.4,2.5.5-.2.5,.3 1,1.4.5,.3 1-.1 2.5,1.8 2,.6.5,.9 1,.5.4-.4.5,0 1,.5 2.5,.5 1-.9 1.5,.7 1-.9 1.5-1.3 1.9-3.8 2-6 1-1.4.5,.3.5,1.1 1.5,9.8.5,2.1 1,2.5 1,.7.5-.2.4,.1 1-.9 1.5-2 1.5-3.9 1-1.5 1-1 1,.2 1.5,1.9 3.4,2.6 1-.4 1-.2.5-.4 1-1.3 1.5-.9 1,1.5 1,2.9 1.9,7.3 1.5,2.6.5,1.2 1,1.2 1,.7 1.5,1.5.5,0 2,1.3.5-.1.9,.2 1.5,.9 1.5-.1 1.5,.8 2,.2.5,.2.5-.1.5,.4 1,.2.4-.1 1.5,.7.5,0 1,.4.5,.5.5-.2 1,0 .5,.3 1.5,.1 1,.6.5,0 .5-.4.4-1 .5-.3 1-.2 2.5,2.1 1-1.6 3.5,1.2.5,.1.5-.8.4,.3 1,.2 2,1.1 1.5,.5 1.5,.2 1,.5 1.5-.1.5,.3 3.4,.2.5,.3 1.5-.1.5-.2.5,.2.5-.2.5,.2.5-.2.5,.3 2.4-.2.5-.4 2-.9 1,.6.5,.8 1,.7 1-.1 3.5,.5 1.4,0 1.5,.5 1-.1 1,.6 1-.1.5-.3.5,.3.5-.2 1,.2 1.5-.2.9,.6 1.5-.1 1,.7 1.5-.5.5,.2.5-.2.5,.3 1,.2.5,.1.5-.4 1,.1.9,.6 2-.1 1.5,.4.5-.1 2,.7 4.4,.4 1.5,.6 1.5,.1.5,.5.5,.1.5,0 .5-.2 3.5,0 2.9-1.3 1,.5 1,1 2.5,1.7 1.5,0 1,.6 1.4,.1 2.5,.8 1.5,.2.5,.3 1.5,0 1,.6.5-.2 1.5,.8.4-.2 1,.2 0,1.2" stroke-dasharray="57.80 51.05 9999"/><path d="M66.6,96.8l1.5,.5.5,.8.5,0 2,3.2.5-1 .5-.1.5,.2 1.5,2.1.5,.4 1.4,2.4.5,.1 1.5,3.3 1.5,.5.5,.3 1,0 .5-.7.5-.1.5,1 1,1.1 1,.5 1.4,2.5.5-.2.5,.3 1,1.4.5,.3 1-.1 2.5,1.8 2,.6.5,.9 1,.5.4-.4.5,0 1,.5 2.5,.5 1-.9 1.5,.7 1-.9" fill="none" stroke-width="0.9"/>
<path d="M65.4,156.3l0-58.9 1,.9 1.4,2.2 2,1.7.5-.7.5-.1 1.5,2.1.5,.2 1.5,2.9 1,.8 1,1.3.5,.2.9,1.3 2,.7 1-1.3.5,.9.5,.3.5,1 .5,.2 4.9,5.5.5,.3 1,0 1,1 .5,.1.5-.2 1,.3.5,.6 1,.3.5,.4 1,.5.5-.2.5,.3 1.4-.5 1,.6.5-.1.5,.4 2.5-.8 1.5-1.6.5-.9 2-4.3 1.4-4.4 1-1.5.5,.3.5,.9 1.5,9.9.5,2 .5,1.7 1,1.1 1-.1 2.5-2.1 1.4-3.3 1-1.6.5-1.4 1-1 1.5,1 1,.4 1.5,1.7.5,0 .5,.5 1.5,.6.9,.2 1-.6.5-.8 1-1 .5,.2 1,.6.5,.9 2.5,8.2 1.5,3.7 1.9,3.1 2.5,2.1 4.5,2.1.5,0 1.9,.9 1,.1 1,.6 1-.2 1,.5 1.5-.1.5,.6 1,.5 2.9,.2 1.5,.6 2,.1 1.5,.7.5,0 .5-1.3.5-.5 1.5,.2 1.9,1.1 1-1.4 1,.5 1,1.1 1,.4.5,.1.5-.1.5-1.1.5,.1 3,1.3.9,.8 1,.1 1,.4 1,0 .5-.2 1.5,.5 1.5,.1.5,.2 1.5-.2.5,.4.4-.1.5,.1.5-.2.5,.2 1-.1 1.5,.7.5-.1.5-.5.5,0 .5-.5.5,.1.5-.5 2.9-.1 1.5,1.6.5,.3 1-.1.5-.3.5,0 1,.5 1-.1 1,.4 1-.3 1,.1.9-.3 1,.3 1.5,.9 1,0 .5-.2 1,0 2,.6 2.5,.1.4-.2 1,.4 1-.1.5-.2.5,.4 2,0 .5,.3 1.5,.1 3.4,.9 1.5,.2.5-.2.5,.2.5-.2.5,.5 1,.1 2.5-.2 1.5,.7.5-.1.4,.4 1,.3.5-.1 2.5,.4.5-.3 1.5,.2 2-1.3 1.5,.8.4,0 1.5,1.4 1.5,.7 2,.3.5,.2 1.5,.1 2,.7.5,.4 1.9,.2.5,.3 1.5,.1 1,.3 1,.1 1,.5 1,0 0,1.4" stroke-dasharray="58.90 49.99 9999"/><path d="M65.4,97.4l1,.9 1.4,2.2 2,1.7.5-.7.5-.1 1.5,2.1.5,.2 1.5,2.9 1,.8 1,1.3.5,.2.9,1.3 2,.7 1-1.3.5,.9.5,.3.5,1 .5,.2 4.9,5.5.5,.3 1,0 1,1 .5,.1.5-.2 1,.3.5,.6 1,.3.5,.4 1,.5.5-.2.5,.3 1.4-.5 1,.6.5-.1.5,.4 2.5-.8" fill="none" stroke-width="0.9"/>
<path d="M64.1,157.9l0-59.6.5,.4.5,1.3 1,1.6 1,1.4.5,.2.5,.8.5-.1.9-1.1 1.5,2.7 3,2.7 1.5,2.4 2.5,1.4.5,.5.9-.7 1,.6 1.5,1.6 1,1.8 1,.5 1.5,1.8 1,.2.5,.6 1,.5.5,0 1.4,.9 1,.3 2,1.3.5,.1 1-.4 2,1.3.5,0 1.5-.6.5,.4.9,.1.5-.5.5-.3 1-.6 1-1.3 1.5-3.4 1.5-4.8 1.5-2.8.5-.2.5,1.4.9,7.2 1,5.3 1,1.9 1,.2 2-1.4 1.5-2.3 3-5.7.9-.7 1,.5 1,1.3 1,.4 1,1 1,.2 1.5,.9.5-.1.5,.2 1.5-1.4.9-.6.5,.3.5,.6 1,2.7 1.5,5.3 2,5.4 2,3 .5,.2 1,.7.9,1.4 1.5,.3 3,1.7 1.5,.1 1.5,.7 1.5,.1.4-.2 1.5,1.1 1.5-.2 1.5,.7 1,0 .5,.6.5,.2.5,.6.5-.2 2,.1.9-.2 1.5,.7.5-.1.5-.1.5-1.1.5-.4 2,.8 1.5,1.2 1-1.5 1.4,.3 2,1.3.5-.4.5-1.2 1,.7.5,0 .5,.2 1,1 .5,.3 2,.7 1.9,.3.5,.5 1-.1.5-.3 1,.3.5-.1.5,.2.5-.1.5,.3 1.5-.2.5,.2.5-.1.5,.1.5-.3.9,.1 1,.5 1,.1 3-1.2 1.5,0 1,.2.5,.7 1,.7.5-.2 1.4,.4 2.5-.2 2.5,1 .5-.2 1.5,.2 1-.4 1.4,.5.5-.2 2.5,.2 1.5,.6 1.5,.1 2-.4.5,.1 1.4,.9 1,0 .5-.3 1,.1 1.5,.7.5-.3 1,0 1,.5 2.5-.1 1.4,.8.5-.2.5,.2.5-.2.5,.4.5,0 1,.3 2.5,0 1.5,.8 1.9,0 1-.3 1.5,.2 1.5-.7 1.5-.1 1,.8.5,.7 1,.4 1.4,.9 2,.1 2,.9 1.5,0 1,.5 1,.1 2.4,.8 1,.1 1,.3 1.5,.1.5,.3.5,0 0,1.3" stroke-dasharray="59.60 50.04 9999"/><path d="M64.1,98.3l.5,.4.5,1.3 1,1.6 1,1.4.5,.2.5,.8.5-.1.9-1.1 1.5,2.7 3,2.7 1.5,2.4 2.5,1.4.5,.5.9-.7 1,.6 1.5,1.6 1,1.8 1,.5 1.5,1.8 1,.2.5,.6 1,.5.5,0 1.4,.9 1,.3 2,1.3.5,.1 1-.4 2,1.3.5,0 1.5-.6.5,.4.9,.1.5-.5.5-.3" fill="none" stroke-width="0.9"/>
<path d="M62.8,159.5l0-58.8 1,1.5 1,.7.5,1.1.5,.7.5,.1.5-.3.5,.8.5-.2 1,.3 1,1.2.5,1.3.5,.2.5,.7 1.9,1.4.5,1.1 1,1.5 1.5,.8.5,.9.5,0 1-1.5.5,.7 1.5,1.4 1.4,2.6.5,.2 1.5,1.7 1-.1 1,.5.5,.5.5,.1.5,.5 1.5,.6 1,1.1.5,.1.5-.2.9,.7 1.5-.1 1,.7.5-.1.5,.1.5-.2.5,.3.5-.2 2,.1 1-.4.5-.1 1.9-2.7 1-2.1 2-5.9.5-1 .5-.4.5-.1.5,.8 1,6.8 1,5.2.5,1.2.5,.4 1.4,.4 1-.6 3-5.1 1-2.7 1-1.6 1-.1.5,.2.5,0 1.5,1.3 1.9,.8 1.5,1.7.5,.1 1.5-.4 1.5-1 .5,.2.5,.2 1,2.2 3.9,10.9 3.5,5.1 2,1.2 1.5,.4 1.4,1.1.5-.1 2.5,.9 1.5,.1 1.5,.7 1,.1 2.4,1.2 1-.4.5,.1 1.5,1.1 3,.3.5,.4 1,.2 1.5-.2.4-1.1.5-.6 1.5,.7.5-.1 1.5,.6.5-.4.5-.8 1.5,1.1 1,.2 1,.8.5,0 .5-1.1 1.4,.9.5,0 1,.5.5,0 .5,.5.5-.1.5,.4.5,0 .5,.4 1,.2 1,0 2,.5 1.4-.4.5,.1.5,.1.5,.4 1,.2 1-.4 1,.1.5-.2 1,.1.5,.3 2-.1 2.9-1.3.5,.2 1.5,1.4 2,.2 1,.7.5,.1 1.9-.4 1,.1 1.5,.6 1.5-.2 2,0 1.5,.5 1.5-.1.9,.4 1-.2 1,.2.5-.1 1.5,.7 1-.4 2.5,.7 1.5,0 .5,.2.4-.1.5,.2.5-.2 1.5,.5 3,.6 2.5-.1 1,.1 1.4,.9 1.5-.1.5,.2 1.5-.1 2,.8 1,0 3.4-.6 1-.6.5,0 .5,.3.5,.6 2.5,1.4 3,1 1,0 1.9,1.1 1,.3 1-.2 1.5,.7 3,.3 1.5,.8 1.4-.1 0,1.3" stroke-dasharray="58.80 49.96 9999"/><path d="M62.8,100.7l1,1.5 1,.7.5,1.1.5,.7.5,.1.5-.3.5,.8.5-.2 1,.3 1,1.2.5,1.3.5,.2.5,.7 1.9,1.4.5,1.1 1,1.5 1.5,.8.5,.9.5,0 1-1.5.5,.7 1.5,1.4 1.4,2.6.5,.2 1.5,1.7 1-.1 1,.5.5,.5.5,.1.5,.5 1.5,.6 1,1.1.5,.1.5-.2.9,.7 1.5-.1 1,.7.5-.1.5,.1.5-.2.5,.3.5-.2 2,.1 1-.4" fill="none" stroke-width="0.9"/>
<path d="M61.6,161.1l0-57.4 1.9,1.1.5-.2 2,3 1-1.1 1,1.1.5,1 .5,.8.5,.4 1.5,2.4 1,.3 1,1.5 1.4,.9.5,.5 1,.6 1-1.7 1.5,2.2 1,1 1,1.7 1,.3 1,.9.5,.8.4-.1 1,.6.5,.7 1,.1 1,.5.5,.6.5,0 .5,.6 1-.3 1,.3.5,.6.5-.3 1.5,.6.9,.1 1,.3 1,.1.5-.2.5,.3.5-.1.5-.2.5-.7 1.5-.9 1-1.3 2.9-8.4 1-1.4.5,.2.5,.7 1.5,9.8 1.5,4.4.5,.2.5-.1 1.5-1.3 2.4-4.2 2-4.4 1-1 1,0 1,.7.5,.1 1.5,1.4 2.4,1 1.5,1 1.5-.6 2,.7 1,2.2 1.5,5.2 2,5.1 1.9,2.8 1.5,1.7 1,.6 1,1.4 1.5,.5.5,.5.5-.1 1.5,.6.5-.3.4,.2 1.5,.7 1,.2 1.5,.9.5-.4.5,0 1.5,.9 1.5-.1.5,.1 3.4,1.4.5-.2 1.5,.2 1.5,.9 1-.6.5-1.1.5-.4 1.5,1.1.5-.1 1.4,.9.5-.3.5-1.2 1,0 2,1.8.5,.2.5-.1.5-1.1 1.5,.6 1,.9.5,.1.4-.3.5,.1 1,.8 2,.7 2.5,0 .5-.2.5,.3.5-.1.5,.4.5-.2.5,.2.5-.4.9-.2 1,.5.5,.6.5,0 2.5-.7 1,.4 1.5-.6 2.4-.1.5,.4 1,.4 3,.9 2-.2.5,.3 1.5-.3 1,.6.9-.3.5,0 1,.4 2.5-.2 1.5,.7 1.5-.2 1,.5 1,.2.4-.4 1,.2.5,.3 1.5,0 .5,.2.5-.3 1-.1.5,.4 1,.4 1.5,0 1,.6 2.4-.3 2.5,.7 1-.2 1.5,.8 1-.2 1,0 1.9,.8.5-.3 1,0 .5,.3 2.5,.5 3.5-.8 1,.1.9,.6.5,.7 1,.6.5,.1 1.5,.7 1.5-.1.5,.4 1.5,.1 1,.4 1,0 2.4,1.2 1.5,.2 1,.4 1,0 .5-.2 1.5,.8.5,0 0,1.1" stroke-dasharray="57.40 50.26 9999"/><path d="M61.6,103.7l1.9,1.1.5-.2 2,3 1-1.1 1,1.1.5,1 .5,.8.5,.4 1.5,2.4 1,.3 1,1.5 1.4,.9.5,.5 1,.6 1-1.7 1.5,2.2 1,1 1,1.7 1,.3 1,.9.5,.8.4-.1 1,.6.5,.7 1,.1 1,.5.5,.6.5,0 .5,.6 1-.3 1,.3.5,.6.5-.3 1.5,.6.9,.1 1,.3 1,.1.5-.2.5,.3.5-.1.5-.2.5-.7" fill="none" stroke-width="0.9"/>
<path d="M60.3,162.7l0-58.9 1,1.3 2,1.7.5,.9 1,.9.4-.7.5,0 1,1.6 1.5,1.4 1,2.4.5,.4 1,.3 1,1.4.5,.5.5,0 2,1.7.9-1.1.5,.3 1,1.1 1,.6 1,1.6 2,2 2.5,2 1,.3.4-.2.5,.1 1,.9 1,.4 1,.8.5,.2 1.5-.3 1,.6.5,.6 1-.1 1-.7.9-.2 1,.3 1-.1 1-.9 2-3.1 2.5-6.9.5-1 .5-.5.5,.3.5,.7 1.4,9.3 1,3.1.5,.8.5,.2 1-.2.5-.3 2.5-4.3 1-1.2 1.5-3.4.9-1.3 1,0 .5,.4.5,0 1.5,1.6 1.5,.2.5,.4.5,.7 1.5,0 1,1.2 1.4-.7.5,.2 1,.9 3,8.9 2.5,5 .5,.4 1.5,2.3.9,1 5.5,2.7 1.5,1 .5-.1.5,.2.5-.1 1.9,.5.5-.1.5,.4 1.5-.1 2,1.1.5-.2 1.5,.6.5-.1.5,.1 1.5,.8.4-.3.5,.5 1,.1 1,.4.5-.3 1-2.2 2,1.5 1.5,.6 1-1.5 3.4,2 .5,0 .5-1.2.5,.3.5-.2 1,.6.5,.8 1.5,0 1.5,1.1.9,.2 1.5-.1 1.5,.9 1.5-.7 1-.1.5,.3 1.5-.1 1,.6 1.4-.3.5-.3 1.5,.6 1.5-.1.5-.3 1.5,0 1-.6 1,.4.5,.5 2,.8 1.4-.1 1.5,.4.5-.2 1,0 1.5,.2.5,.2 1.5-.1.5,.3 2.9,0 1.5,.6 1.5-.2 2.5,.8 1.5-.2.5,.3 1.4,0 1,.3 1-.5 1,.4 2,.4 3,.5 1.9,.1.5,.5 1,.1.5-.4.5,0 1.5,.8 1.5,.5 1.5-.1 1.5,.6.5-.2.9-.1 1,.3 1.5-.3 1.5,0 1.5-.6 1,.5.5,.7 1,.8 2.4,.5.5,.4 2,.5 1,0 1.5,.7 1-.3 2.9,1.2 1.5,.2 1.5,.6 2,0 0,1.5" stroke-dasharray="58.90 49.21 9999"/><path d="M60.3,103.8l1,1.3 2,1.7.5,.9 1,.9.4-.7.5,0 1,1.6 1.5,1.4 1,2.4.5,.4 1,.3 1,1.4.5,.5.5,0 2,1.7.9-1.1.5,.3 1,1.1 1,.6 1,1.6 2,2 2.5,2 1,.3.4-.2.5,.1 1,.9 1,.4 1,.8.5,.2 1.5-.3 1,.6.5,.6 1-.1 1-.7.9-.2 1,.3 1-.1" fill="none" stroke-width="0.9"/>
<path d="M59,164.3l0-58.6 1,.8.5,1.1 1,.9.5,0 .5,1 1,.6.5-.4.5,0 .5,.5 1,.7 1.4,2.6 1,1.3 1.5,1.4.5,.9.5,.1.5,.4.5-.3.5,.6.5,.1.5,.8.5-1 .5-.2 2.5,2.8.4,1 .5,.3.5,.8 1,.7 1,.2 1.5,1.3.5,.1.5,.7 1,.4.5,0 1,1 1,.3.5-.1.4,.4.5,.1 2.5,1.5.5,.1.5-.5 1-.3.5,.4 1.5,.1.5-.5.5,0 .5-.7 1.4-1.2 1-1.3 3.5-8.8 1-.7.5,.8 1.5,9.6 1,2.9 1,1.1.4-.2 1-.9 1-.2 3.5-7.5.5-.9 1-1 .5-.1 1.5,.9.9,.3.5,.5 1,.5 1.5,1.4.5,.1.5,.5 1.5-.2.5,.3.5-.4.5,.1.5,.2 1,1.1.5,1 2.4,7.5 2,4.5 1.5,2.1 2.5,2.9 1,0 .5,.2 1.4,1.6 1,.2 1-.1 1.5,1.1 1.5,0 1,.4 1.5-.2 1,.4.5,.6.4,0 .5,.3 2,.2 1,.6.5,.1.5,.4 2-.2.5,.5 1,.3 1.5,0 .4-.2 1-1.5 2,1.4 1.5,.3 1-1.3.5-.1.5,.2 1.5,1.5 1,.2.5-.2.4-.9 2.5,1 .5,.3.5,.6 1,.5.5-.3 1,.1 1,.8 1,.3 1.5-.7.9,.3 1.5,0 1.5,.5 2,.2 1,.1 2-.2 1.9,.1 2.5-.8 1,.2 1.5,1 2.5,.1.5-.1 1.4,.6 1.5-.1 1.5,.5 2.5-.2 1.5,.3 1-.2.5,.1.5,.4.5,.1.4,.3.5-.2 1-.1 2,.4 2,0 1,.2 1,.5.5,.1 1-.5 1.9,.3.5,.4 1.5-.3 1,.4 2,.5.5,0 1.5,.5 1-.2 1.9,.4 1,.5 3.5,.2.5,.2 1.5-.4.5,.3.5,.5 1,0 1.9-.9 2.5,.8 2,1.7 1.5,0 2,1 .9-.2 2,.6 1,.4 4,.9 1.5,0 2.4,1.1 0,1" stroke-dasharray="58.60 49.95 9999"/><path d="M59,105.7l1,.8.5,1.1 1,.9.5,0 .5,1 1,.6.5-.4.5,0 .5,.5 1,.7 1.4,2.6 1,1.3 1.5,1.4.5,.9.5,.1.5,.4.5-.3.5,.6.5,.1.5,.8.5-1 .5-.2 2.5,2.8.4,1 .5,.3.5,.8 1,.7 1,.2 1.5,1.3.5,.1.5,.7 1,.4.5,0 1,1 1,.3.5-.1.4,.4.5,.1 2.5,1.5.5,.1.5-.5 1-.3.5,.4 1.5,.1.5-.5.5,0 .5-.7" fill="none" stroke-width="0.9"/>
<path d="M57.8,165.9l0-58.7.5,.9 1.4,1.2 1,1.7 1,.9.5,0 1-1.3 1.5,1.8 1.5,2.8 1.5,1.5 1.4,2.5.5,0 1.5,.7.5-.2.5,.1.5-.3.5,.2 1,1.2.5,.3.5,.8.5-.1.5,.8.5,.4.5,1 .5,.1.5,.7.5,.1.4,.6.5,.1 2.5,1.2 1.5,1.4 1,.6 1,.3 1.5-.1 1.5,.9.4-.2.5,.1 1,.6 1.5-.6 1.5,.3 1-.8 1-.7 1-1.3.5-.3 1-1.9 2.4-6.6 1-1.4.5,.6 1.5,9.8 1,3.1 1,1 1-.5 2-1.9.9-1.7 1.5-3.4 1.5-1.9 1-.8 1,.1 1.5,1.1 1,.2 1.5,1.3.9,.5 1,0 .5,.4.5-.3.5,.2.5-.1 1.5,.9.5,1 2.5,6.8 1.9,4.2 1.5,2.5 2.5,3.2.5,0 2,1.6 1,.3 1,.8 1.4,.7 2,0 2,1 1,.1.5-.2.5,.1 1.5,1.2.5,.1 1-.4.5,.1 1.4,.8.5-.1.5,.3.5-.2 1.5,.5 1-.2 1,.6.5,.1.5-.2 1-1.5.5,.4.5,0 .9,.3 1,1 .5,.1 1-1.5.5,.4 1.5,.5.5,.6 1,.2.5-.2.5-.6 1,.2.5,0 1.4,.6 1,.7 2,.7 1-.1 1.5,.9.5-.4 1-.2 1,.6 1,.3 1.4,.1 2-.5 1,.3 1.5,0 .5,.2 1-.1 1.5-.4.5-.3.5,0 1.9,.5 1,.5 1-.1 1,.4.5,.4 1,0 1-.4 1.5,.6 1.5,0 .9-.3 1.5,.5 1-.1 1.5,.4 1.5-.1.5-.2 1.5,.6 1.5-.2 2.9,.5 1.5,0 3,1 2-.3 2.9,1 1-.3 1,.1.5,.3 1,.3.5-.2 2,.6.5-.1.5,.4.9,0 1.5,.4.5-.3.5,.2.5-.1 1.5,.4 1,.1 1,.3.5,.1 2.9-.7 1,.6.5,.6 1.5,.3 1.5,1 1.5-.2 1,.6.5-.1 1,.3.5,.4.9,.3 1,0 2.5,.8 3.5,.7 1,.2.5,.5 0,.9" stroke-dasharray="58.70 49.41 9999"/><path d="M57.8,107.2l.5,.9 1.4,1.2 1,1.7 1,.9.5,0 1-1.3 1.5,1.8 1.5,2.8 1.5,1.5 1.4,2.5.5,0 1.5,.7.5-.2.5,.1.5-.3.5,.2 1,1.2.5,.3.5,.8.5-.1.5,.8.5,.4.5,1 .5,.1.5,.7.5,.1.4,.6.5,.1 2.5,1.2 1.5,1.4 1,.6 1,.3 1.5-.1 1.5,.9.4-.2.5,.1 1,.6 1.5-.6 1.5,.3 1-.8" fill="none" stroke-width="0.9"/>
<path d="M56.5,167.5l0-59.2 1.5,2.5.5,.3 1.5,1.9 1,.6.4-.8 1,.8 1,1 .5,1.1 1,.9 1.5,2.2 1,.1 1,.7 1.5,2 .5,.1.5-.1.4-.9.5-.2.5,1.2 1,.6.5,0 1.5,3 1,1.2 2,.8.5-.1 1,.9.5,.8.9,.5.5-.1.5,.4.5,0 .5,.6 1,.2 1,.2 1-.3 1,.6.5,.6 1,.1 1.5-.4 1.4,.5.5-.5.5-.1.5-.3 1-1.2 1.5-1.3 1-1.7 2-6 .5-1 .5-.5.5-.2.5,.6.9,6.9 1,4.6 1,1.5.5,.4.5-.1 1-.5 2-2.3 1.5-2.3 1.5-3.7.9-.9.5,.3 2,.1 1,1.1 1,.5.5-.1.5,.5 1.5,.5.5,.3.5,.8 1,.5 1.4,.3 1,1 1,2.1 3,7.9 2,3.6.5,.5 1,.6.4,.9 1,1 1,.5 1,.9.5,.2.5,0 .5-.2 1,.7.5,.6.5-.2.5,.4 1.5,0 1,.5.9-.2 1,.1 1,.4.5,.5 3,.9 1,.5 1.5,0 .5,.4.5-.1.4,.2.5-.1.5,.4 1-.1.5-.4.5,.4.5-.1.5-.9.5-.3 1,.6.5-.2.5,.2 1.5,1.3 1-1.5.5-.2 1.4,1.2 1,.2 1,.5.5-1.2.5,.3 1-.1 1,.7.5,.6 1,.3 1,0 1,.4 1.4,0 .5,.5.5,.1 1-.2.5,.1 2.5,.9.5,0 1-.5 1.5,.7 1.4-.4 1,.3 1-.3 1.5-.1 2-.4 1.5,.3.5,.5 1,.3 1.4-.1 1.5,.2 3,.1 1.5,.6.5-.1 1,.4 1.5-.3 1.4,.2.5-.2.5,.2.5-.3 4.5,1.1.5-.2 1,.1 1.4,.5.5-.2 2,.5.5-.1 1,.2.5,.3 2-.1 3,.3 1.4,.8.5-.1.5,.2 2.5,.3 2,.5 1.5-.2 3.4,.7 1.5-.1 1.5,.2 1-.3 2,.8 1,.7 1,.1 1.4,1 1,.2.5-.2 1.5,.6.5-.2 1,.2.5,.4 1,.3 2,.2 1.9,.5.5,.4 2.5,.4 1,.5 0,1" stroke-dasharray="59.20 50.33 9999"/><path d="M56.5,108.3l1.5,2.5.5,.3 1.5,1.9 1,.6.4-.8 1,.8 1,1 .5,1.1 1,.9 1.5,2.2 1,.1 1,.7 1.5,2 .5,.1.5-.1.4-.9.5-.2.5,1.2 1,.6.5,0 1.5,3 1,1.2 2,.8.5-.1 1,.9.5,.8.9,.5.5-.1.5,.4.5,0 .5,.6 1,.2 1,.2 1-.3 1,.6.5,.6 1,.1 1.5-.4 1.4,.5.5-.5.5-.1.5-.3" fill="none" stroke-width="0.9"/>
<path d="M55.2,169.1l0-58.9.5,.2 1.5,1.6.5,1 .5,.1.5,1.3.5,.4.5,1.5.5-1.2.5-.5.5-.1 2.4,3.9 2,1.6 1.5,2 2.5,1.5.5-1.1.5-.3.5,.3.5,1 .5,.3.5,.9.4,.4.5,1 .5-.1 2,2 .5,0 1,.5 2,1.7.5,.1.5,.6.5-.1.5,.7 1,.5.9-.3.5,.5 1,.6 2,.1 1.5,.9 1,0 .5-.2 2-1.6.5-.4.4,.1.5-.2 2-4 2.5-5.9 1-.9.5,.6 1.5,10.3 1,2 .9,1.2.5-.1 2-1.3 1-1.6 1-1.1 1.5-3.4 1-1.5.5-.4.5,.1 1,.6.9-.1.5,.2 1.5,1.3.5,.1.5-.1.5,.2 1,1.1 1.5,.6 1,.5 1,0 .5,.6 1.4,2.7 2,5.2 1.5,3.4 1.5,1.9.5,1 .5,.3 1.5,2.1 1,.2 1,1 .9,.2 1,.7 1.5,0 1,.5.5-.1.5,.5.5,0 .5,.4.5,0 .5,.3 1.5,.2 1.9,.6 4,.8 1,.6.5,.5 2.5-.3 1.4,.6.5-.3.5-1 .5-.5.5,.5 1.5,.7.5,.5 1,.5.5-1.1.5-.4.5,.1.5,.7 1.5,.3 1,.9.4-.4.5-1.3 1.5,1 2,.6 1,.7.5,0 .5,.4.5-.1.5,.4.5-.2 1,.3 2.4-.1 1.5,.4 1.5,0 1,.3 1.5-.1 2.5,.2 1.9-.1 1-.4.5,.1.5-.3 1,0 1,.6 1,.1 1.5,.5.5-.2.5,.2 1.4,0 .5,.3 2.5-.1 1.5,.4.5-.1 1,.4 1-.2.5,.2.5-.1.5,.2.5-.3 1.9,.6.5-.2 1.5,.3 1-.2.5,.2.5,.4 1.5,0 .5,.3 1-.2 1.5,.4 1.9-.3.5,.1 1,.9.5,.1.5-.2 1.5,.3 1.5-.4 1.5,1 .5-.4.5,0 2.9,1 1.5,.1.5,.4 1.5-.2 1,.6 1-.3.5,.2 1.4-.1 1,.4 1.5-.5 1,0 1.5,.7 1.5,1.2 1.5,.3.5-.2.5,.5.5-.3.9,.2.5,.5 1,.6.5,.2 1.5-.1.5,.5 1,.5 1.5,.2.5-.1 1.5,.3.5-.1 1.9,.8.5-.1 0,1.3" stroke-dasharray="58.90 51.87 9999"/><path d="M55.2,110.2l.5,.2 1.5,1.6.5,1 .5,.1.5,1.3.5,.4.5,1.5.5-1.2.5-.5.5-.1 2.4,3.9 2,1.6 1.5,2 2.5,1.5.5-1.1.5-.3.5,.3.5,1 .5,.3.5,.9.4,.4.5,1 .5-.1 2,2 .5,0 1,.5 2,1.7.5,.1.5,.6.5-.1.5,.7 1,.5.9-.3.5,.5 1,.6 2,.1 1.5,.9 1,0 .5-.2 2-1.6" fill="none" stroke-width="0.9"/>
<path d="M54,170.8l0-58.1.9,.3 1,1.1 1,1.7 1.5,1.3 1-1 2,1.9 1.5,2.3 1.5,1.3.4,.9 1.5,1 1,1 1,.4.5-.6.5-.1 1,.6 1.5,2.2 1,.8.5-.1 1.9,2.4 1,.2.5-.2 1,1 1.5,.8 1.5,1.6.5-.1 1-.8.5,.4.5,.7 1,.6.4-.1 1,.3 1,0 .5-.3 1,.3 1-.2.5-.3 1-.1 1-.3 1-1.2 2.4-5.7.5-1.8 1-2.4 1-.4.5,.7 1.5,9.5.5,2 .5,.9 1.5,1 1,.1 1-1 1.9-2.8 1.5-2.9.5-.6 1.5-.9.5-.1 1.5,.5 1.5,1 .5-.2.5,.2.9,1.1.5,.3 1,0 1.5,1.3 1.5,.1 1,1 2,5.1 2.9,5.9 3,3.4 1,.9.5,0 1,.8.5,.8 1,.6 1-.5.5,0 3.4,1.6 3,.3 1,.9 1.5,.1 1.4,.8.5-.3 1.5,.5 1.5,.1 1.5,.6.5-.1 1,.4.5,.4.5-.3 1-1.7 1.5,.5.9,1.2.5,.1.5-.1 1-1.3 1,.4 1.5,1.2 1,.2.5,0 .5-1.1 1,0 1,.8.9,.5 1,.3 1,.8 1,.2.5,.4 1-.2.5-.3.5,.2 1.5-.3 2,.3.4,.4.5,.1 1.5-.3 1.5,.7 1.5-.2 1.5,.3 2-.8 1.9,0 .5,.1 1.5,.9 1.5,.3 1.5-.3 2,.5 1.5-.3 1.4,.4 1.5-.1 1.5,.8 1.5-.5.5,.2.5-.2 2,.2 1.5,.4 2.4,.1 1.5,.7 1.5-.2 2.5,.7 2,0 1.4,.5.5-.1 2,0 1.5,.7 1.5,.3 1-.1 1.5,.6 1.4-.5.5,.4 1,.3 1-.1 1,.4.5-.1.5,.2.5-.1.5,.2.5-.3 1.5,.7 2-.6 1.4,.7.5-.1 1.5,.9.5,0 1.5,.8 3,.7.5,.3 3.9,1.3 1.5,.1 1,.4 1-.1 1.5,.8 1,.2 0,1.1" stroke-dasharray="58.10 48.56 9999"/><path d="M54,112.7l.9,.3 1,1.1 1,1.7 1.5,1.3 1-1 2,1.9 1.5,2.3 1.5,1.3.4,.9 1.5,1 1,1 1,.4.5-.6.5-.1 1,.6 1.5,2.2 1,.8.5-.1 1.9,2.4 1,.2.5-.2 1,1 1.5,.8 1.5,1.6.5-.1 1-.8.5,.4.5,.7 1,.6.4-.1 1,.3 1,0 .5-.3 1,.3 1-.2.5-.3 1-.1" fill="none" stroke-width="0.9"/>
<path d="M52.7,172.4l0-58.5.5,.1.5,1 .5,0 1.5,2.2.5-.1.9,.9 1-.8.5,.5 1,2 .5,.7.5,.3 1,1.7 2,1.9.5,0 .5,.3 1.5,1.8.5,0 .4,.5.5-1 .5-.2 1,.4 3.5,4.2 1,.7 1,.3 1,.6 1,1.2.9,0 .5-.3.5,.9 1,.7.5-.5.5-.1 1.5,1.1 1,0 1,.4.5,.9.5,0 .5,.4.5-.6.5,.5 1.9-.9 1,0 1-.9.5-.9 1.5-1.5 1.5-4.1 1.5-2.9 1-1.2.4,.4 1,6.7 1,5 1,2 1,.7.5-.6 1.5-1.1 1-1.6 1-.9 1.5-2.1.4-1.1 1-1.2.5,.4 3.5,.9.5,.9 3.5,1.8.5,.6.9,.4 1.5-.6 2,4 1.5,3.7 2,3.8 1,.7 1.4,2.1 1.5,1.2 1.5,.6 1,.8 1.5,.4 2,1 .5-.2.5,.2.5-.1.5,.5.4-.1 1.5,.7 1,.1 1-.4 1.5,1 .5-.2.5,.1 1,.6 1,.4 1.5,.2.4,.4 1,.3.5-.1 1.5,.3 1,0 .5-1.3.5-.4 1,.4.5-.1 1.5,1.5.5,0 1-1.5 1.4,.8.5-.1 1.5,1.4.5-.2.5-1.2 2.5,1 2.5,1.9.5-.4.9,.1 2,.4.5,.3 1.5-.5 1,.3 1,.1.5-.3.5,.3.5,0 .5,.5 1.4-.2 2.5,.4 1.5-.2.5-.3 1-.1.5,.1.5-.3.5,0 .5,.5 1,.3.5-.2.9,.5 1.5-.1.5,.2 1.5,0 .5,.3 1-.2 1.5,.3 1-.3 1,.3 1.4-.2 1,.2 1,.5 1.5,0 1,.5.5,0 .5-.3.5,0 .5,.1.5,.3 1-.3.5,.1 1,.6.9,0 .5-.3 1.5,.6 2,0 1.5,.5.5-.3.5,0 1.5,.7 1.4,0 1.5,.5.5-.1 1.5,.4.5-.2 2.5,.4.5,.4 1.5,.1.5,.4.9,0 .5-.2 3,.6 1.5-.1 2,.2 2,.7.5,.5 1.4,.3 1.5,.6.5,0 2.5,.6.5,.3 2.5,.3 4.4,1.7.5,0 .5,.2.5-.1 1,.4 0,1.1" stroke-dasharray="58.50 50.38 9999"/><path d="M52.7,113.9l.5,.1.5,1 .5,0 1.5,2.2.5-.1.9,.9 1-.8.5,.5 1,2 .5,.7.5,.3 1,1.7 2,1.9.5,0 .5,.3 1.5,1.8.5,0 .4,.5.5-1 .5-.2 1,.4 3.5,4.2 1,.7 1,.3 1,.6 1,1.2.9,0 .5-.3.5,.9 1,.7.5-.5.5-.1 1.5,1.1 1,0 1,.4.5,.9.5,0 .5,.4.5-.6.5,.5 1.9-.9 1,0" fill="none" stroke-width="0.9"/>
<path d="M51.4,174l0-59 1,1 1,2.1.5,.2.5,0 1.5,1.7.5-.2.5,.1.5,.6.5-.2.9,1.3.5,1 1,1.1.5,.2 1.5,1.8.5,.2 1,1.2 1,.1 1,1 1-1.1.5,.2 1.9,3 .5,.1 1,.7.5,.8 2,.9 1.5,1.6.5,.3 2,.7 1.4-.2 1.5,1.3 1.5-.3 2.5,1.5 1-.4 1.5,.3 1.5-1.4 1.4,.1 2.5-4.9 1.5-3.8 1-1.7.5-.2.5,.4 1.5,9.5 1,3 .4,1.2.5,.5.5,0 1.5-1 .5,0 1-.7 1-1.7 2-2.4 1-.8 1-.1 1.4,.6 1.5,.9 1,0 1.5,1.1 1.5,.4 1.5,1 1,.2 1,.5 3.9,7.6.5,.8 1,.9 2,2.7 1.5,1.3 1.4,.8.5,.5.5-.2 1,.3.5,.3.5,.1 1,.8.5,.1.5-.1 1.5,.9.5-.3 1.5,.4 1-.2 1.4,1.3 2.5,.6.5,0 2,.8 1.5-.3 1,.4.5,.5.5,0 .4,.2 1-.2 1-1.5.5,.3.5-.1.5,.2.5,0 1.5,1.2 1-.9.5,.1 1,.4.5,.4 1,.3.4,.4.5-.2.5-1.1.5-.1 1.5,1 1,.5.5,0 1.5,1.3.5-.1 1.5,.4 1-.1.9,.1 1-.4 1.5,.6 1-.5.5,0 1,.5 1,0 1,.4 1.5,0 1-.4 1.4,.4 1.5-.2.5-.3.5,.2 1.5-.3 1.5,1.1.5,.1 2.5-.1.4,.2 1,0 1,.4 1.5-.4.5,.4.5,0 .5-.1.5-.4 3,.6 1,0 3.4,.3 1,.3 2.5-.1 1,.1 1,.6 1.4,.1 1,.6 1,.2 2-.2 1.5,.4 1,.1 2-.3 1.4,.5 1-.1 1.5,.8.5,0 1.5,.5 1.5,0 2.5,.6.5-.2 1.4,.6 2.5-.4 1.5,.9.5-.2 1,.3.5,.5 2,.8 1.4,.1 2.5,.7 1.5,.7 1.5,.1 1.5,.5.5,0 1,.4 1.4,.3.5,.5 2,.1 0,1.3" stroke-dasharray="59.00 48.84 9999"/><path d="M51.4,115l1,1 1,2.1.5,.2.5,0 1.5,1.7.5-.2.5,.1.5,.6.5-.2.9,1.3.5,1 1,1.1.5,.2 1.5,1.8.5,.2 1,1.2 1,.1 1,1 1-1.1.5,.2 1.9,3 .5,.1 1,.7.5,.8 2,.9 1.5,1.6.5,.3 2,.7 1.4-.2 1.5,1.3 1.5-.3 2.5,1.5 1-.4 1.5,.3 1.5-1.4" fill="none" stroke-width="0.9"/>
<path d="M50.2,175.6l0-58.1.9,.2.5,.4 1.5,1.6 1,1.5.5,.4.5-.9.5-.3 2.5,3.8.5,1.1 1,.6.5,0 .9,1.7 1,1.1 1,.5.5-.3.5,.6.5,.2 1-1.7 1.5,1.5 1.5,2.3 2,2.2 1.4,.6 1,.8.5-.2.5,.1 1,1.3 1,.1 1.5,.9.5-.1.5,.3.5,0 .5,.4.5-.1 1.9,.9 1.5-.1 1,.4 1.5-.5.5,.4.5-.8 3.9-4.6 2-5.3 1-1.1.5,.3 2,12.1.5,1.4.5,.5 1,.6 1-.2.5-.6.5-.2.4-.6 1.5-.5 1.5-2.7 2.5-1.1.5,.4 2.5,.4 1.9,1.2 1,0 2.5,.9 1.5,0 1.5,1.7.5,.2.5,.5 1,1.7.5,.3 1.4,2.1 1,1 2.5,4.2 1.5,1.6 1.5,2 1.5,.3.9,1 .5,.1 1-.6.5,.1 1,.9 3,1 .5,.4 1.5-.3 1.5,.9.9,.1 2,.8 2,.1 1.5,.3 1.5-.1.5-1.3.5-.3.5,.1.9,.7 1.5,.5.5,.5.5-.4.5-.9 1,.3.5,.7.5,.3 2,.5.5-1 .5,.1 3.4,1.8.5,.4.5,0 .5,.2.5-.1.5,.3 1.5,.3 2-.3 3.9,.6 1.5-.3 1.5,.6 1-.5 3,.8 1-.1.9-.5 1.5,.6 2.5,.4 2.5,0 1,.4 2.4-.2.5,.2 1-.2 1.5,.4 1.5-.3 2.5,.9 1-.4 1,0 1.9,.4.5,0 .5,.2 2,.1.5,.3 1,0 .5-.2 1,.2 1.5,.4.5-.4.9,.1.5,.4 1-.4 1.5-.1 1.5-.6 1,.2 1.5,.8 1.5,1 1.4,.5 1.5,.8 4,.7 2-.2 1,.3 1.4-.1 2,1.3 1,.1 2,.7 3,.3 1,.6 1.4,.1 1.5,1.2 2.5,.1 1.5,.7 2.5,.8 0,.9" stroke-dasharray="58.10 50.32 9999"/><path d="M50.2,117.5l.9,.2.5,.4 1.5,1.6 1,1.5.5,.4.5-.9.5-.3 2.5,3.8.5,1.1 1,.6.5,0 .9,1.7 1,1.1 1,.5.5-.3.5,.6.5,.2 1-1.7 1.5,1.5 1.5,2.3 2,2.2 1.4,.6 1,.8.5-.2.5,.1 1,1.3 1,.1 1.5,.9.5-.1.5,.3.5,0 .5,.4.5-.1 1.9,.9 1.5-.1 1,.4 1.5-.5.5,.4.5-.8" fill="none" stroke-width="0.9"/>
<path d="M48.9,177.2l0-58.4.5,.6.5,1 .5,0 .5-.2 1,.8.5,1.1.9,1.4 1-.9 1.5,1.9 2,1.2 1.5,3.5 1-.1 1,1.3 1,.8.4-.5.5,.2.5-1 .5-.3.5,.3 1.5,2.4.5,.3 1,1.5 1.5,1.2.5,.7 2.5,.6.9,.7 1,.1.5,.2 2,1.8 1.5-.1.5,.4 2,.4.5,.5.5,0 .5,.5.9-.2 1-.9 1.5,0 1-1.1 1.5-1.1.5-.6 2.5-5.3.5-1.5.9-1.2.5,.6 1.5,9.9 1,3.5.5,.8 1.5-.3.5,.5 1-.3 1-1 1.5-.6 1.4-1.8 1-.5 1,.3.5-.2.5-.4 1-.1.5,.2.5-.1 1.5,.7 1,.3.5,0 .5-.1.9-.9 1,.3.5,0 1-1 1,.1.5,.4.5,.1 1,.9 1.5,.7 2,2.5 2.9,7.5 2.5,3.7 4,2.4 1,0 .4,.4 1,.3.5-.4 2,1.1 1.5,0 1.5,1.2.5,.1.5-.1 1,.5 1.4,.1 1,.7 1.5-.4.5,.3 1.5,.3.5-.9.5-.2 1.5,.2.5,.5 1.5,.4.9-1.2 2,.9 1,.8.5,.2.5-.3.5-1 1,.4 1.5,1 3.9,1.5 1.5-.3 1,.3 1-.2 1.5,.7.5-.2.5,.1.5-.1.5,.2.5-.3.5,.2.5-.2 1.4,.5.5,.1 1-.2 1.5,.6 1.5-.6 1,.2 1-.2 1.5,.4 1.4,.1 1,.3.5-.2 2.5-.1.5,.3 1.5-.1 1,.4 1.5-.1.5,.2.9-.3 1,.4 3,.4 1,.4 2-.4.5,.3 1,.1.5-.1.9,.2 1.5,0 1.5,.6.5-.2 1,.1.5,.3 1,.1 1.5-.1 1-.4 1.9-1.8 1-.3 2,.4 1.5,2 1.5,.5 2.5,1.8 4.9,.8 1.5,.6 2-.1 1,.3.5,.4 1.9,.7 3.5,.8 2,.7 1,0 1.9,1 2,.2 1.5,.8 2.5,.3 0,1.2" stroke-dasharray="58.40 50.19 9999"/><path d="M48.9,118.8l.5,.6.5,1 .5,0 .5-.2 1,.8.5,1.1.9,1.4 1-.9 1.5,1.9 2,1.2 1.5,3.5 1-.1 1,1.3 1,.8.4-.5.5,.2.5-1 .5-.3.5,.3 1.5,2.4.5,.3 1,1.5 1.5,1.2.5,.7 2.5,.6.9,.7 1,.1.5,.2 2,1.8 1.5-.1.5,.4 2,.4.5,.5.5,0 .5,.5.9-.2 1-.9 1.5,0" fill="none" stroke-width="0.9"/>
<path d="M47.6,178.8l0-58.2 1,.5 1.5,1.9 1.5,1 .5,.2.5-.9.5-.2 3.4,5.7 2.5,1.6 2,2.2 1,.7.5-.8.5-.4 1.9,1.9.5,0 .5,.8.5,.2 2,2.6 1.5,.3 1,.9 1,.3.5,0 1,1 .5,.1.9-.2.5,.1 1,.7 1,.3.5-.2.5,.4 3,.9.5,.4 1-.2.5-.6.5-.1.4-.3 2.5-1.7 2-3.7 1-2.7 1-1.6.5,0 .5,.3 1,7 1,4.4.9,2 .5,.3.5-.2 2,.7 1.5-1.5 1-.1 1-.9 1-.1 1-1 .5-.1.9,.5 1.5-.7 1.5-.3.5,.1.5-.3.5,.3 1-.2 1.5-1.4 1-.5 1.9-1.9 1-.3.5,.3 1.5-1 .5,.1 1.5,1.8.5,1.1 1.5,4.6 2,7.2.9,2.2 1.5,2 1.5,1.6 2,1.1 1,.1 1.5,.6.5,0 2.9,1.1 1.5,.2 1.5,.5 1,.7 2,.5 1-.2 1.4,.6 1.5-.5.5-.8.5-.4 2.5,1.2 1,.8.5-.4.5-1 1,.3 1.5,1.1.9,.5.5-.4.5-1 1,.4 2,1.3.5,.1.5,.4.5-.1 1.5,.8 1.5,.2.9,.3 1.5-.6.5,.2 1.5,0 3,.8.5-.3 1-.2.5,.3 2.4,.2.5-.2 1.5,.2.5-.3 1.5,.7 1-.2 3,.3.5-.3 1.4,.5 1.5-.1 1.5,.4.5,0 .5-.4 1-.1 1.5,.6 1-.4.5,.3.9,0 .5-.4.5-.1 1.5,1 4,0 1.5,.2.5-.2 1,.6 1.4,.1.5,.2 1.5-.1 1,.3 2.5-1.5 2-3.1 1-.2.5,.1.4,.4 1.5,2.2 2.5,2.7 1.5,.9 2,.4 1.5,1.2 1.4,.1 1,.3 1,.2.5-.2 1.5,.6.5,.4 2,.3 1.5,.6.9-.1 1,.5 1.5,.3.5,.3.5,.1 1-.2 2,1.1 2,.5.5,0 1.4,.6 2.5,.5 0,1.1" stroke-dasharray="58.20 48.58 9999"/><path d="M47.6,120.6l1,.5 1.5,1.9 1.5,1 .5,.2.5-.9.5-.2 3.4,5.7 2.5,1.6 2,2.2 1,.7.5-.8.5-.4 1.9,1.9.5,0 .5,.8.5,.2 2,2.6 1.5,.3 1,.9 1,.3.5,0 1,1 .5,.1.9-.2.5,.1 1,.7 1,.3.5-.2.5,.4 3,.9.5,.4 1-.2.5-.6.5-.1.4-.3" fill="none" stroke-width="0.9"/>
<path d="M46.4,180.4l0-58.7.4,.7 1,.7 1,1 1.5,2.1.5,.4.5-.7.5-.3 1.5,2 .5,.3 1,1 .5,1.2 1.4,1.4.5,.8 1,.5 2.5,2 1-1.6.5,.8 1,.6 1.5,1.5 1,.6.5,.9.9,1.1 1,.1 2,.7 1,1.1.5,.1 1,.8 1,.3.5-.3.5,.4 1,.2.5,.3.9,0 .5,.3.5-.1.5,.3.5-.3.5,.8 1,.4 1.5,0 .5-1 .5-.3.5-.2.5,.5.5-.3 1-1.2 1.9-4 1.5-3.7 1-.7.5,.9 1.5,9.4.5,2.1 1,2 .5,.8.5-.2.5,.1.5-.3.5,.3.9-.5 1,0 .5,.3.5-.7 2.5-1.5 1,.1 1.5-.6 1,.1.5-.4.9-.4.5,.3.5-.1 1-1.3 2-1.3.5-.6 1.5-2.4 2.5-3.1 1.4-.9 1.5,.3.5,.7.5,1.4 2.5,10.6 2,6.4 2,3.4.9,1 2,1.6 2,.4.5-.1.5,.5 1,0 .5-.3 1,1 2.4,1.1.5-.1.5,.3.5-.4 2.5,1.1 1.5-.1.5,.3 1,.2 1,0 .5-1.4.5-.4.5-.1.9,.7 1,1.1.5,.2.5,.2 1-1.2 1,.6.5-.2.5,.3 1,1 .5,.3.5-.4.5-1.4.5,0 1.9,1.6 1,.4.5-.1.5,.4.5,0 1.5,1 1.5-.7.5,0 .5,.5 1,.1.5-.2 1,.6 2.9,0 1,.5 1.5-.3.5,.2 1.5-.4 1.5,.5 1,0 1.9,.5 1,0 1-.4 1.5,.4 1.5-.1 1,.5 1.5-.4 1.9,.6 1.5-.6.5,.2 1.5-.1.5,.3 1,.2 1.5-.1.5,.3 1,0 .9-.3 2.5,.5 1.5-.1.5,.4.5,.2 2,.1.5-.2 2,.2 1.9-.4.5-.2.5-.5 1-1.7 1.5-3.3.5-.5.5,.1 1,1.3 2,3.4 1.4,2 .5,.5 3.5,1.9 1,.2 2,.9 1-.1 1,.5 1.4,.1 1,.4 2,.3.5,.4 1.5,.2 1.5,.9 2.9,.4 2,.6.5,0 1,.5 1.5,0 1.5,.9 1.5,.6 1-.1 0,1.3" stroke-dasharray="58.70 49.53 9999"/><path d="M46.4,121.7l.4,.7 1,.7 1,1 1.5,2.1.5,.4.5-.7.5-.3 1.5,2 .5,.3 1,1 .5,1.2 1.4,1.4.5,.8 1,.5 2.5,2 1-1.6.5,.8 1,.6 1.5,1.5 1,.6.5,.9.9,1.1 1,.1 2,.7 1,1.1.5,.1 1,.8 1,.3.5-.3.5,.4 1,.2.5,.3.9,0 .5,.3.5-.1.5,.3.5-.3.5,.8 1,.4 1.5,0 .5-1 .5-.3" fill="none" stroke-width="0.9"/>
<path d="M45.1,182l0-58.6.5,.1 1,1.3 1.5,1.5 1.4,2.5.5-1.1 1-.7 1.5,2.7 2,2.3 1,1.8 1,.2 1.5,1.1.4,0 1,1 1-1.8 1,.9.5,1 1,.5 1,1.6 1,1.1 1.5,.5 1.5,.9.9,.4 1.5,1 .5,0 1.5,1.6 1-.4 1.5,.7 1-.2 1,.7.5,.6.5-.2.9,.4 1-.1 2-.7.5-.1 1-1.6.5-.3 1-1.2 1.5-2.5 1.9-4.1.5-.4.5,.3 1.5,9.8 1,3.3.5,1 .5,.4.5,.2.5-.1 3,1.1 1.4-1.7.5-.2 1,.2 3.5-.9 2-1.2 1.5-.6 2.4-2.5 4.5-8.3 1.5-1.6.5-.1 1.5,1.1.5,1.1 2.9,14.3 1,3.8 1.5,4.1.5,.8 1,1.1 1.5,.7 1,.9.9,.3.5,.5.5-.1 1,.4 1,1.1.5-.5 1,0 2,1 1.5,.1.5,.4 1,.2.4-.2 1.5,.8 3,.6.5-.1 1-1.8 1.5,1.2 1,.3 1,.7.9-1.2 1,.4.5-.1 1,.7.5,.5.5,.2.5-.3.5-1.1.5,0 .5,.5 2.5,1.3.5-.1.9,.4.5,.4 3,.8 1-.1.5-.3 1.5,.2 2-.2 1,.7 2.4-.5 2,.3.5,.3 1,.1.5-.1.5,.2 1-.4 2.9,1 2-.2 1.5,.3 1-.3 2,.3 2.9-.5 1.5,.7 1.5,0 1.5,.7 1.5-.5.5,.1 1-.2 1,.2.5,.3 2.4,0 .5,.3.5-.1 1.5,.3 1-.2 3,0 1-.7.9-1.5 1.5-3.5 1-1.7 1,.6 1.5,2.9 2,3.3 1.5,1.4.5,.7.5,.3.9,.1 1.5,1.1 1.5,.2.5,.5 1,.2.5-.2 1,.4 1,.1 1.5,.8.9,.3 1.5,0 .5,.2 2.5,.7 1.5,.8 1-.4 2,.8.9,.7 1,0 3.5,1.1 2,.3 0,1.4" stroke-dasharray="58.60 50.68 9999"/><path d="M45.1,123.4l.5,.1 1,1.3 1.5,1.5 1.4,2.5.5-1.1 1-.7 1.5,2.7 2,2.3 1,1.8 1,.2 1.5,1.1.4,0 1,1 1-1.8 1,.9.5,1 1,.5 1,1.6 1,1.1 1.5,.5 1.5,.9.9,.4 1.5,1 .5,0 1.5,1.6 1-.4 1.5,.7 1-.2 1,.7.5,.6.5-.2.9,.4 1-.1 2-.7" fill="none" stroke-width="0.9"/>
<path d="M43.8,183.7l0-59.2 2,2.2.5,.9 1,.9.5,0 .5,.7.5-.4.5-.1 1,.8 1.9,3.3.5,.3.5,.7.5,.1.5,.8.5,0 .5,.7.5,.1 1.5,2.1 1,0 .5-1.2.5,0 .5,.7.9,.2.5,.4.5,1.2 1.5,1.2 1,1 .5-.1 1,.8 1,.2 1,1.2.5,.3.5,.1 1,.8 1.4,.5.5,.5 1,0 .5-.3 1,1.1 1,.3 1-.5.5,.1.5-.3.5,.4.5-.1.5,.7.5-.5.5,0 .5-.4.4,.1.5-.2.5-1 2-1.9 3-5.8.5-.9.5-.3.5,.2 1,7.4 1,5.1.4,1.2 1,1.2 1,.7 1.5,.5.5-.5.5,.1.5-.3.5,.5 1-.2.5-.6 1-.5.5,.4 1-.1.4-.4 1-.4 1,.2 1.5-1.7.5,.3 1-.2 1.5-1.9 1.5-2.7 1.5-2 1.4-3.7 1-1.8 2-1.8 1,0 .5,.4 1,3.5 2.5,12.9 1.4,5.8.5,1.2 1,1.1 1,1.4.5,.5.5,0 2,2 1.5,0 1,.5 1,.1 1.4,.5.5,0 1,.4.5-.1 1,.5.5,.5.5-.2 1,.1.5,.4.5,0 .5,.5 1-.1.5-.2 1.9,.8.5,0 .5-1.1.5-.5.5-.1.5,.3.5,.4 1.5,.8.5,.6.5-.5.5-1 .5-.2.5,.2 1.5,1.6.9,.1.5-.2.5-1.1 2.5,1 2,1.9 1-.2 2.5,.6.9-.1 2.5,.3 2.5,0 .5,.2.5-.3 1,0 2,.6.9,.1 1-.2 1,.3 1.5-.2.5,.3 1.5-.4 1.5,.1 2,.9 1.4-.4.5,0 .5-.3 1.5,.5 1,0 .5,.1 1.5-.3 2,.7.5,.1.9-.5 1,.2 1-.2 1,.4.5-.1 1.5,.5 1.5,.1.5-.1 1.5,.6.5-.3 1.4,.3 4.5-.4 1.5-1.9.5-1 1.5-4.6.5-.1.5,.1.9,1.2 1.5,3.2 2,3.2 1,.6.5,.7 1,.8.5,.1 1,.5 1,.8.9-.1 1.5,.2 1.5,1.1 1,0 2,.4 1.5,.6 1.5-.2 1.9,1.1 5,1.2 1.5,.6 1.5,0 .9,.6 3,.8 0,1.3" stroke-dasharray="59.20 49.69 9999"/><path d="M43.8,124.5l2,2.2.5,.9 1,.9.5,0 .5,.7.5-.4.5-.1 1,.8 1.9,3.3.5,.3.5,.7.5,.1.5,.8.5,0 .5,.7.5,.1 1.5,2.1 1,0 .5-1.2.5,0 .5,.7.9,.2.5,.4.5,1.2 1.5,1.2 1,1 .5-.1 1,.8 1,.2 1,1.2.5,.3.5,.1 1,.8 1.4,.5.5,.5 1,0 .5-.3 1,1.1 1,.3 1-.5.5,.1.5-.3.5,.4.5-.1.5,.7.5-.5.5,0 .5-.4.4,.1" fill="none" stroke-width="0.9"/>
<path d="M42.5,185.3l0-58.2.5,.2 1-.2 1.5,2.9.5,0 .5,.9.5,.2 1-1 .5,.2 1,1.1 1.5,3.1.5,.5.9-.1 1,1.2 2.5,2 1,1.1 1-2 1,1.2.5,1.3 1,1.1.5,.2 1.4,1.3 1,.3 1.5,1.7.5,.2.5,.5 1.5,.2 1,.6 1,.2.5,.5 1.5-.1.9,.9 1,0 1.5,.9.5-.3.5,.5.5-.1.5,.3.5-.6 2-.9.5-.6.5,.1 1-.3.9-1.6 1.5-3.4 2-3.9.5-.3.5,.5 1,7.6 1,4.8 1.5,2.3.5,1.1 1,.5.4-.1.5,.5 1,.2 1-.3 1-.6 1.5-.1.5-.4.5-.1 1,.3 1-.6 1.5-.5.9-.2.5,.2 1-.7 3.5-5.1 2.5-5.8 1.9-3.7.5-.5 1-.2.5,.3.5,.6.5,1.6 3,14.5 2,6.6.5,1.3 1.4,1.9 1.5,1 1,.9 1-.1 1.5,.9 1,0 2.5,.8 1.4,.9.5-.2 1,.1.5,.5.5,.1 2.5,1 1.5-.4 1.5,.7.5-.2.5-1 .5-.5.9,.6.5,0 1.5,1 .5,0 1-1.3 1,.3 1.5,1.2.5,0 .5,.5.5-.1.5-.8.5-.1 2.4,.9.5,.4.5,0 .5,.6 1,.4 1.5-.2.5,.5 1,.2.5-.5.5-.1 1,.2 1.4,.7 1.5,.2 1.5-.5 2.5,.8 3.5-.5 1.4,.7 1.5-.1.5,.1 1-.3.5,0 1,.5 1-.1.5,.3.5-.3 1,0 1,.2.4-.2.5,.2.5-.2 2,.1 1.5,.3 1-.1 1.5,.5 2-.3 1.4,.2 1.5,.4 1-.1.5,.3.5-.2 1,.1 1,.5.5-.1 2,0 .5-.2 1.9,.3 1-.4 1.5-1.9 2-5.3.5-.7 1,.8 4.4,7.5 1,1.1.5,.2.5,.6.5,0 .5,.6 1.5,.2 1.5,.8 2,.2 2.9,1.2 2.5,.2 2.5,1.3 1.5,.1.5,.3 1.4,0 1.5,.7 1.5,.3 1.5,0 2.5,1.5 1.9,.2 0,1.4" stroke-dasharray="58.20 50.61 9999"/><path d="M42.5,127.1l.5,.2 1-.2 1.5,2.9.5,0 .5,.9.5,.2 1-1 .5,.2 1,1.1 1.5,3.1.5,.5.9-.1 1,1.2 2.5,2 1,1.1 1-2 1,1.2.5,1.3 1,1.1.5,.2 1.4,1.3 1,.3 1.5,1.7.5,.2.5,.5 1.5,.2 1,.6 1,.2.5,.5 1.5-.1.9,.9 1,0 1.5,.9.5-.3.5,.5.5-.1.5,.3.5-.6 2-.9" fill="none" stroke-width="0.9"/>
<path d="M41.3,186.9l0-59.1.5,1.2.5,.1.5,.6.5,0 .5,1.3.9,1.4 1,0 .5-.9.5,.2.5,1 .5,.6 1,.6 1.5,2.8 1.5,1.8 1,.5.5-.2.5,.1 1.4,1.6.5,.1 1-1.8.5,.4 1.5,2 .5,.2 1.5,2.2 1,.5.5,.6 1.5,.5.4,.7.5,.3.5,0 .5-.4 1,.4.5,.8.5,0 .5,.5.5-.3 1.5,1.5 1-.4 1,.7 1,.2.9,.1.5-.4 1-.2.5,.4 1-.1 1-.8 1.5-.9.5-.1 1-1.4 3.4-6.8.5-.5.5,.7 1.5,10 .5,1.9 1.5,3.4.5,.5.5,.2.5,.7.5-.1.5,.4.5-.4 1,.3 1.4-.5.5,.5 1,.1 6-2.1 1.9-2.3 2-2.6 4.5-10 .5-.8 1-.8 1,.5 1,1.8 3.4,16.9 1,3.2 2,3.8.5,.6 1,.9 1,.7.5,0 .5,.5 1.4-.1.5,.4 1.5,.5.5,.6.5-.2.5,.4.5-.1 2,.8.5-.2 1.5,.7.5-.1.9,.2.5,.4 1,.2.5-.1 1.5,.5 1-.3.5-.9.5-.3.5,.4 1.5,.3.5,.5.9,.6 1-1.4.5,.5.5,0 1.5,1 .5,.2 1,0 .5-.9.5,0 1,.3.5,.4 1.5,.2 1.4,1.3.5,.2.5-.3 1,.1 1,.6 1,0 1.5,.5 2-.1 1.5,.3 1.4-.1.5,.3.5-.1.5,.2 1-.1.5-.2 1.5,.1.5-.1 1,.1.5,.3 2.9-.2 1.5,.4 1.5-.5 2,.9 1.5-.7 1.5,.6 1.5-.2.4,.3.5,0 .5,.3 1,0 .5-.2 1.5,.4 1-.1.5-.3 1.5,.4 1-.1.5,.2 1.4,.1 1,.3.5,0 .5-.2.5,.3 1.5,.1 1,.4.5,.1 1.5-.4 2-.9.4-.5 1-2 1.5-4.4.5-.4 1,.9 2,3.2 2,3.8 1,1.2 1.4,.9 1,.2 1.5,1.2 2,.1 2,.7 1.5,.7 2.4,.2 1,.4.5,.6 1,.2.5-.2 1.5,.3.5,.5 2.5,.5.5-.2 1,.4.4,.5 2.5,.5 1.5,.8 1.5,.1.5,.4.5-.1 0,1.4" stroke-dasharray="59.10 51.25 9999"/><path d="M41.3,127.8l.5,1.2.5,.1.5,.6.5,0 .5,1.3.9,1.4 1,0 .5-.9.5,.2.5,1 .5,.6 1,.6 1.5,2.8 1.5,1.8 1,.5.5-.2.5,.1 1.4,1.6.5,.1 1-1.8.5,.4 1.5,2 .5,.2 1.5,2.2 1,.5.5,.6 1.5,.5.4,.7.5,.3.5,0 .5-.4 1,.4.5,.8.5,0 .5,.5.5-.3 1.5,1.5 1-.4 1,.7 1,.2.9,.1.5-.4 1-.2.5,.4 1-.1 1-.8" fill="none" stroke-width="0.9"/>
<path d="M40,188.5l0-58.8 2,1.8.5,.8.5,.2.5,.9.5,.4.5,1.2.5-1.1 1-.6 1.4,2.9 1,.3.5,.6 1,1.8.5,.5 2.5,1.3 1.5,1.6.5-1.3 1-.2.4,.9 1,.8.5,.1 1.5,2.3 1.5,1.1 1.5,.5 1.5,1.3 2.9,.7.5,.4.5,0 .5,.7 1,.6.5-.3.5,.1 1,.7 1-.1 1,.3 1-.5 1-.2.9,0 .5-.2.5-.7 2.5-1.7.5-.6 2-5.2 1-1.8 1,.1 1.5,11 .9,3 1,1.7 1,1.2.5,.4.5-.1.5,.4.5,.1.5,.4 1.5-.1.5,.2 1-.2.5-.5.5,.3.5-.2.4,.3 2-.4 1,.4 1.5-2 1-.6 1.5-1.7 2-3.8 1.4-3.8 1.5-2.7 1.5-3.3 1-1 .5,.1.5,.3.5,.8.5,1.3 1,4.2 2,10.1 1.4,5.4 1.5,3.6 2.5,2.1.5,.3.5,0 1,.7.5,0 .5,.3.5-.1 2.9,1.6 1-.4 1,.6 1.5,.4.5,.4 5.4,.8 1,.5 1-1.6.5,0 .5,.2 2.5,1.9.5-.4.5-.9 2.4,.9 1,.8.5-.1.5-1.1.5-.1.5,.1 1,.6.5,.6 1,.5 1-.1 1,.8.5,.2 1-.3.5,.3 1.4-.2 2,.6 1-.1 4.5,.7 1.9-.3.5,.3 1.5-.3 1,.5.5,.1 1-.3.5,.2.5-.2 2,.6.5-.2.5,.3 2.4-.6 1.5,.6 1,0 1.5-.4.5,.2.5-.1.5,.3 2.9,0 1.5,.3 2,0 .5-.1 1,.1.5,.4 1,.3.5-.3 2,.1.5-.1.4,.3 1.5,.1 1,.3 1.5-.3 1,.4.5-.2.5-.5 1-1.9 2-6.3.5-.3.4,.3 1,1.6 2,4.4 2.5,3.4 1,1 2.5,.9.9,.6 1.5,.3 1,.6 1.5,.1 1,.4 1.5,.1.5,.3.5,0 2,.9.4-.2 1.5,1 1.5,0 2.5,.8 1,.6 1,0 2,.7 2.4,.5 1.5,.8 0,1" stroke-dasharray="58.80 49.79 9999"/><path d="M40,129.7l2,1.8.5,.8.5,.2.5,.9.5,.4.5,1.2.5-1.1 1-.6 1.4,2.9 1,.3.5,.6 1,1.8.5,.5 2.5,1.3 1.5,1.6.5-1.3 1-.2.4,.9 1,.8.5,.1 1.5,2.3 1.5,1.1 1.5,.5 1.5,1.3 2.9,.7.5,.4.5,0 .5,.7 1,.6.5-.3.5,.1 1,.7 1-.1 1,.3 1-.5 1-.2.9,0 .5-.2" fill="none" stroke-width="0.9"/>
<path d="M38.7,190.1l0-58.7.5-.3 1.5,2.6.5,0 .5,.3 1.5,2.2 1-1.2.5,.3 1,2.1 1.5,.8.5,1 .9,1.3.5,.4.5,.9.5-.1 1,.4.5,1 1,.3.5-.1.5-.8.5-.3 2.5,2.7.5-.1 1.4,2.1.5,.5.5,0 1.5,.8.5,.8.5-.4.5,.2.5-.1 1,1.2 1.5,.5 1,.9 1.4-.1 2.5,1.7 1-.2 1.5-.7.5,.1.5-.1.5-.3.5-.6.5-.1 2.4-1.5 1-1.1 1.5-3.9 1.5-2.8.5-.5.5,.2 1,7.6 1,5.8.5,1.6.5,.7 1.9,1.8 1,.3.5,.4.5,0 .5,.3.5-.1.5,.2.5-.1.5,.3 1-.3 1,.1.5,.3.5-.3 1.5,0 .9-.7 1-.3 1.5-1.8.5-.1.5-1 .5-.5 1-1.7 4.5-10.1 1.9-3.1.5-.4.5,.2 1,2.2 4.5,20.8 1,1.9 1.4,2 .5,.6 2,1.4.5-.2.5,.1.5,.1.5,.6.5-.2.5,.3.5-.1.5,.3 2,.6 1.4,1 .5-.1.5,.4.5,.1.5,.5.5-.3.5,.1.5-.1.5,.3.5-.1 1.5,.7 2.5,.2.5-1 .4-.5 1,.4 1.5,1 1,.2 1-1.1 1.5,.8.5,.6 1.5,.7.5-.4.5-1.1 1.9,.5 1,1 1,.6 1.5-.1 1,.7 1.5-.4.5,.5 1,.5 1-.2 1.4,.1 1-.3 1,.5 1.5,.1.5,.2 1-.4 1-.1 1,.4 1.9,.1.5,.3 2.5-.1.5-.4 1,0 .5,.4.5-.1.5,.3.5-.2 1,.1 2.9,.9.5-.3 1-.3.5,.3 1-.5 1.5,.4 1.5-.3 2,.5.5-.2.5,0 1.4,.6 1-.2 1.5,.2.5-.1 1.5,.4 1.5-.2 2.5,.7 1.9-.1.5-.7 1.5-.8 2-5.4.5-1 .5-.5.5,.2 1,1 1.9,4.2 2.5,3.6 1,.9 3,1 3,1.6 1.9,.2 1,.5 1.5-.1.5,.3 1,0 2.5,1.3 2.4,.6.5,.3 1,.1.5-.1 1.5,.9 1.5,.2 1-.1 2,1.1 1.9,.6 0,1.2" stroke-dasharray="58.70 50.39 9999"/><path d="M38.7,131.4l.5-.3 1.5,2.6.5,0 .5,.3 1.5,2.2 1-1.2.5,.3 1,2.1 1.5,.8.5,1 .9,1.3.5,.4.5,.9.5-.1 1,.4.5,1 1,.3.5-.1.5-.8.5-.3 2.5,2.7.5-.1 1.4,2.1.5,.5.5,0 1.5,.8.5,.8.5-.4.5,.2.5-.1 1,1.2 1.5,.5 1,.9 1.4-.1 2.5,1.7 1-.2 1.5-.7.5,.1.5-.1.5-.3.5-.6.5-.1" fill="none" stroke-width="0.9"/>
<path d="M37.5,191.7l0-59 2,2.8.9,.8.5-.1 1,.5.5-.5.5-.2 1.5,2.3 1,1.2 1,.7 1.5,2.6.5,.4.5-.1 1.4,1.3.5,.1 1,.8 1-1 .5,.3.5-.1 1.5,1.4 1.5,2.6 1,.2 1,1.1 1.4,.4 1,.6.5,0 .5-.3 1.5,1 1-.1 1.5,1.5.5-.1.5,.3.5-.1 1,.4 1.9-.3 1,.1.5,.4.5,0 .5,.3 1-.7.5-.7 1.5-.9 1.5-2.6.5-.5 1.9-4.8.5-.6 1-.6 1.5,11.6.5,2 1,2.5 2,1.7 3,1.5.9,.2 1-.3.5,.4 1,0 .5-.4 2,.3 2-1.5 1-.3 2.4-3.4 1-1.8 1.5-4.1.5-.6 1.5-3.9 1.5-3.1.5-.7.5-.3 1,0 .5,.5.9,3.4 3,15.2 1,3.3 2.5,4.4.5,.4 1,.1 1.4,1.7.5-.3.5,.3.5-.1.5,.5 2,.3 1,.5 1,.2 1.5,.8 2-.1.4,.5.5,.1 1.5,1 .5-.2 1.5,.5.5-.3.5,.2 1.5-2.2 1,1 2,1.1.4,0 1-1.1 1.5,.8 1.5,1 1-.2.5-1.1.5,.1 1.5,1 2,.9.9,.9 1.5-.1 2,.7 1.5-.6 1.5,.6 2.5-.2.9,.3.5,.3 1-.1.5-.3 1.5,.5 2.5,0 .5-.2 1.5,.4 1-.3 1.9,.7 2-.2 2.5,.4 1,0 .5-.2 1.5-.2.9,0 .5,.4.5,0 .5,.2 1.5-.2 1,.3 1.5-.2 1,.4 1-.5 2,.8.9-.3 1.5,.5 1-.2 1.5,.3.5-.2 3,0 1.5-.8.9-1.4 2-5.9.5-.3.5,.4 1,1.4 3,5.6 1,1.3 1.4,1.4 1.5,.4 1,.7 3,1.1 1,.7 2.5,.4.5-.2 1.9,1.2 1,.3.5-.2 1,.2 1,.4.5-.1 2,1.1 2,.2.4-.1.5,.3 2,.4 4.5,1.7 0,1.3" stroke-dasharray="59.00 48.15 9999"/><path d="M37.5,132.7l2,2.8.9,.8.5-.1 1,.5.5-.5.5-.2 1.5,2.3 1,1.2 1,.7 1.5,2.6.5,.4.5-.1 1.4,1.3.5,.1 1,.8 1-1 .5,.3.5-.1 1.5,1.4 1.5,2.6 1,.2 1,1.1 1.4,.4 1,.6.5,0 .5-.3 1.5,1 1-.1 1.5,1.5.5-.1.5,.3.5-.1 1,.4 1.9-.3 1,.1.5,.4.5,0 .5,.3 1-.7" fill="none" stroke-width="0.9"/>
<path d="M36.2,193.3l0-58.4.5,0 .5,.4 1,1 1.5,2.1 1,.3.5-.9.5,0 .9,1.2 1.5,2.6 1,.6.5,.5 1,1.9 1,.5.5-.4 1.5,1.4.5-.2.5,.5.5-.8.5,.1 2.4,2 1.5,2.1 1,.1 1.5,1.3 1,0 .5,.3 1,.9.5,.2.9,0 1.5,.7.5,.4.5,1.1.5,.4.5-.1.5-.6.5-.1 1,.6 1,.3 1.5-.3 1,.5.5,.1.4-.3.5,0 .5-.4.5-.3 1-1.5 1-.7 1.5-2.6 1-2.5 1.5-2.7.5-.8.5,.1 1.4,11.5 1,3.7 1.5,2.6.5,.5 2,1 1.5,.1 1.5,.7 3.9-.1 1-.7 1-.1.5-.3.5-.7 1.5-1 .5-.7 2-4 2.4-6.5 1.5-2.9 1-2.6.5-.6 1.5-.1.5,.5.5,1.4 3.4,16.5 1.5,5.3 1,2 1,1.4.5,0 1.5,1.3 1.5,.6.5-.3 1.5,.9 2.4,.5 1.5,1 1-.3.5,0 1,.8 1.5,.3.5-.1.5,.3.5,0 .5,.5.4-.1 2.5,.5 1-1.6 1,.4 1,.2 1.5,.9 1-.9.5,.2 1.4,1 1.5,.6.5-.3.5-.9.5,0 1.5,1.1 1,.2 1.5,.9 1.5,.1 2.4,.7 1,0 1.5,.8 1.5-.5.5,.3 1.5-.5.5,.3 1.5,.1 1.4-.3.5,.6 1,.4.5-.6 1-.2 3.5,.3 1,.3 2.9-.1 1.5,.2 1.5-.1 1.5,.4 1.5-.3 1,.5 1-.3 1.4,.5.5-.3.5,0 1,.4 1-.3 1,.3 1.5-.2 2.5,.2 2.9,.8.5-.4 1-.2.5,0 .5,.4 1,0 1-.8 1.5-1.7 2-5.7.4-.2.5,.1 1,1.2 2.5,5.1 2,2.5.5,.3 2,2.1.5,0 .5,.4.9,.2.5-.2 3,1.4 1.5,0 1.5,.4 1.5,.6 1.4,.2 2,1.1 1,0 2.5,.4.5,.4.5,.1.5,.5.5-.2 1,.2 1.4,.8.5-.1 1.5,.5.5,0 1.5,.8 0,1.1" stroke-dasharray="58.40 48.75 9999"/><path d="M36.2,134.9l.5,0 .5,.4 1,1 1.5,2.1 1,.3.5-.9.5,0 .9,1.2 1.5,2.6 1,.6.5,.5 1,1.9 1,.5.5-.4 1.5,1.4.5-.2.5,.5.5-.8.5,.1 2.4,2 1.5,2.1 1,.1 1.5,1.3 1,0 .5,.3 1,.9.5,.2.9,0 1.5,.7.5,.4.5,1.1.5,.4.5-.1.5-.6.5-.1 1,.6 1,.3 1.5-.3 1,.5.5,.1.4-.3.5,0 .5-.4" fill="none" stroke-width="0.9"/>
<path d="M34.9,194.9l0-59.5 1,1.5 1.5,1.3.5,1.1 1,1.2.5,0 1-.7.5,1 1.5,1.1 1.5,1.8.4,1 1,.8.5-.1.5,.6.5,.2.5,.9 1,.7 1-.3.5-.9.5-.1 1.5,1.2 1.5,2.2.9,.9 1.5,.7.5,.6 1.5,.3.5,.2.5,.6.5,.1 1,.8.5,.7.5,.3 1-.1 1,.5.4,0 .5-.3.5,.2 1,1.1.5,0 .5-.4 1.5,.4.5-.4.5,.4.5,0 .5,.4 1.5-.5.5,.1.5-.9.5-.3.5-1 .4-.1 1.5-2.9 1.5-3.8 1.5-2.1.5,0 1.5,11.1.5,2.5 1,2.6 2.4,2.3 1,.1 1,1 .5,.1.5-.1 1.5,.2.5-.2 1.5,.4 1-.2 1,.2.5,.4.9-.7.5-.9.5-.2 1-1 1.5-1.8 2.5-5 1-3.4 1-2.1 1.4-3.9 1.5-2 .5-.4.5-.1.5,.8 1,3.5 3,15.5 1.5,4.7 1,2.1.9,.6 1.5,1.5 1.5,.8 2.5,.8.5,.4.5,0 .5,.3 1.9,.3 1.5,.6.5,0 1.5,.8 1,.1 3,.9 2,.1.5-1 .4-.4 1.5,.6 1,1.1 1,.5 1-1.5 3.5,1.4.5-.2.5-1.2.4,.1 3,2.1 2,.7 1,.6 1.5-.2 1.5,.3 3.4,0 .5,.2.5-.3.5,.2.5-.2.5,.3 3-.1 1,.4 1.4-.2 1.5,.8 1.5-1 1,.6 1.5-.2.5,.1 1,.6.5,0 .5-.3 2.9,0 1.5-.2 1,.1 2,.7 1-.2 1,.1 1.5-.2.4,.2.5-.2.5,.2.5-.3 2,.4 1.5,.6 1.5-.2 1.5,.6.5-.4.5,0 1.4,.8.5-.4 2-.7 1-1 1-2 1.5-4.7.5-.3 1.5,1.3 1.9,4.5 2,2.7 1,1.1 3,2.2.5-.1.5,.4 1.5,.2.9,.6 1,.1 1.5,.5 1.5,0 2.5,1.1 2,.3 1.9,.9 1.5,.1 2,1 .5,0 1.5,.5 1,0 2,1 1.9,.5 0,1.2" stroke-dasharray="59.50 48.82 9999"/><path d="M34.9,135.4l1,1.5 1.5,1.3.5,1.1 1,1.2.5,0 1-.7.5,1 1.5,1.1 1.5,1.8.4,1 1,.8.5-.1.5,.6.5,.2.5,.9 1,.7 1-.3.5-.9.5-.1 1.5,1.2 1.5,2.2.9,.9 1.5,.7.5,.6 1.5,.3.5,.2.5,.6.5,.1 1,.8.5,.7.5,.3 1-.1 1,.5.4,0 .5-.3.5,.2 1,1.1.5,0 .5-.4 1.5,.4.5-.4.5,.4.5,0 .5,.4 1.5-.5" fill="none" stroke-width="0.9"/>
<path d="M33.7,196.6l0-58.5.5,.3.5,.5.5-.1.5,.6.9,1.9.5,0 1,.6 1-.8.5,.9 1.5,1.6 2.5,3.3.5,.5 1-.1 1.4,2 .5,.1.5-.2.5,.3.5-.7 1,.1 1,.8 1,1.6.5,.4.5,0 .5,.5.5,0 2,1.8.4,0 2,1 .5,.4.5-.1 1,.4.5,.8 1.5,.3 1,.7.5,0 1-.2 1,.4 1.4,1 .5,0 .5-.6.5-.3.5,.2 1.5-1.2.5,.3.5-.3 1.5-1.8 1-1.8 2.4-5.5.5-.8.5-.2.5,.4 1,7.8 1,5.6 1,2.7 1,.7 1.5,1.6 1.5,.7.5,.5.9,.4.5-.2 1.5,.7.5,0 .5-.4 2.5,0 .5,.2 3-3.1.9-.6 2.5-5.4 1.5-4.1 1-2.1 1.5-4.3 1-1.2 1-.6.5,0 .9,1.7 1,4.4 2.5,13.3 2,6.1 1,1.6 1,1.1 1,.2.9,.8.5,0 .5-.2 1.5,1.3 1,.3 2.5,.2 1.5,.9.5,0 .5,.5 1.4,.3 1,.6 1-.3 4,1.1.5-.9 1-.4 1.5,.6 1.4,1.1 1-1.2.5-.1.5,.3.5,0 .5,.6 1.5,.6.5-.1.5-1.1.5-.1.5,.1 2.9,3 1.5-.6 1,.4 1-.2 1,.5 1-.2.5,.3 2,.5 1.5-.4 1.4,.4 1-.2 1.5,.1.5-.1.5,.4 1,.2 2.5-.8 1.5,.9 1.9-.3.5,.4 1,.1 1.5-.5.5,.4 1,.3 1.5-.2 1.5,.2.9-.8 1.5,.9 1-.4 1.5,.3 1-.2 1,.4.5,0 1-.4.5,.4 1,.4.9-.5 2,.8 1,.2 1.5-.1.5,.1 1-.1 2,0 .5,.2 1-.7.9-1.3 1-2.2 1.5-4.2.5-.5.5,.1.5,.5.5,.7 3,6.2 1.9,2.6 1.5,1.1 1,0 1,.6 1.5,.4 1,.6 1.5-.2 1.5,.9 1.4,.2.5,.4.5,.1 1,.6 2,.5 1-.1 2.5,1.1 1.5-.1 1.4,1.1 2,.3 3,1.2 1.5,.1 0,1.5" stroke-dasharray="58.50 48.05 9999"/><path d="M33.7,138.1l.5,.3.5,.5.5-.1.5,.6.9,1.9.5,0 1,.6 1-.8.5,.9 1.5,1.6 2.5,3.3.5,.5 1-.1 1.4,2 .5,.1.5-.2.5,.3.5-.7 1,.1 1,.8 1,1.6.5,.4.5,0 .5,.5.5,0 2,1.8.4,0 2,1 .5,.4.5-.1 1,.4.5,.8 1.5,.3 1,.7.5,0 1-.2 1,.4 1.4,1 .5,0 .5-.6.5-.3.5,.2 1.5-1.2" fill="none" stroke-width="0.9"/>
<path d="M32.4,198.2l0-58.8 2,1.4.5,.9 2,2.2.9-.6 1.5,1.9 2.5,1.6 1,1.6 3.5,2.7.5-.1.9-1.8 2.5,3.7.5,.1.5,.5.5,0 1.5,1.3.5,.1 2.5,1.3.5,.6.5,0 .9,.3.5,.5 1,.4.5-.3 2,.9 1.5,.9.5-.2 1,.2 1-.1.5,.1.5,.5.4,0 1.5-1.1 1-.7 1-1 2-3.4 1.5-4 1-1.8.5-.3.5,.7 1.4,11 1,3.7 1,1.7 2.5,2.6.5,.3 1,.5 2.5,0 .5,.3 1.4,.2.5,.4 1,.3.5-.3.5-.1.5-.6.5-.1 1.5-1.2 3-4.5.9-2.3 1.5-4.8 2.5-6.1.5-.9 1-1.2 1,0 .5,.7.5,1.5 1.5,6.8 1.4,8.2 1.5,5.8 1,2.6 1,1.6.5,.5 1,.3 1.5,1.7 1-.1 1.9,.9 1,.8 1.5-.4.5,.3 1.5,.4.5,.5 1.5,.2 1.5,.7 1,0 1.9,.9 1-.1 1,.1.5-1.1.5-.4 1.5,.7 1.5,1.3.5,.2 1-1.9 1,.2.4,.7 1,.5 1,.3.5,.1.5-1.1.5,.1.5,.5 1,1.1 3,.8 1,.7 1.4-.3 1.5,.4 4-.1 1,.5.5,.5 2-.8 1.9,.5 2-.3 1,.4.5-.1.5,.2.5-.1.5,.4 1-.2.5-.4.5-.1 2.4,.7 3-.1 1.5,.5.5-.2.5,.1.5-.3 1,.4 1.5-.7 1.4,.8 2-.3 3,.8.5-.2.5,.2.5-.1 1,.1 1.4,0 1,.4 1.5-.2.5,.3 1.5-.3 1.5,.1 1-.8 1-1.6 1.9-6.1.5-.5.5,.4 1,1.4 1.5,3.4.5,.6 1.5,2.8.5,.4.5,.7 1.5,.9 1,1.1 1.4,.3 1,.6 1.5,.7.5,0 .5,.2 1.5,0 1,.5 1.5,.5 1.5,.1 1.4,.9.5-.2.5,.4 1,.3.5-.2 1,.2 1.5,.9 2.5,.8.5-.2 1.4,.8 3,.8 1,.8 0,.9" stroke-dasharray="58.80 47.82 9999"/><path d="M32.4,139.4l2,1.4.5,.9 2,2.2.9-.6 1.5,1.9 2.5,1.6 1,1.6 3.5,2.7.5-.1.9-1.8 2.5,3.7.5,.1.5,.5.5,0 1.5,1.3.5,.1 2.5,1.3.5,.6.5,0 .9,.3.5,.5 1,.4.5-.3 2,.9 1.5,.9.5-.2 1,.2 1-.1.5,.1.5,.5.4,0 1.5-1.1" fill="none" stroke-width="0.9"/>
<path d="M31.1,199.8l0-58.8 1,1.6 2.5,2.3 1,.7.5-.7.5-.2 1,1.2 1.5,1.4 1.4,2.1 1,.7 1,.4 2.5,2.6.5,0 1-1.7.5,.2 1,.9.5,.8 1,1 .4,0 .5,.3 1.5,1.8 1.5,.3 1.5,1.7 1,.1 1-.3 1,.7.5,.7.5-.2.5,.3.4-.2.5,.6.5-.2.5,.1 1.5,1.2 1-.3 1.5,.2 1.5-.9 1,0 .5,.1.5-.3 1.4-2 1.5-2.9 2-5.1 1-.7.5,.3 1.5,11 1,4.1.5,1.2.5,.7.9,.3 2.5,3 1,.1 1,.6 1-.5 1,.5 1,0 1,.3.5-.2.5-.4 1.4-.4 1.5-1.6 1.5-2.3.5-.4 1.5-2.9 2.5-6.7 2.4-5.9.5-1 1-1.1 1,.7.5,1.8 3,15.8 1,4.1 1,2.9.9,1.9 2,2.2 1,.5 1.5,1.1 1,0 1.5,.4.5-.1 1,.6 1.9,.3 1.5,.9.5,0 1,.7 1.5,0 1.5,.9.5-.3 1.5,.1.5,.2.5-.1.9-1.5 2,1.2 1.5,.6.5-.3.5-.8 1,.4.5,.2 2,1.7.5-.1.5-1.3.4-.3.5,0 .5,.3 1,1.2.5,.2 1-.2 1,.9 1-.1 1,.6 1,0 1,.4 1-.1.4,.2 1.5,0 .5,.3 2-.6 2,.6.5-.2 1-.1 1.5,.1 1.4,.5 1-.4 1,.2 1.5-.3.5,.5 1,.4 1-.3 1,.2 1-.3 1.4,.4 1.5-.3 1.5,.4.5-.2.5,.1.5-.2 2,.6 1-.4 1.5,.2.5-.4.4,.3 1,0 .5-.2.5,.3 2.5,.5.5-.2 2,.3 1.5,.7 1-.6 1.4,.2 1-.2 1.5-1 1-1.5 1.5-4.9.5-1.1.5-.5 1,.9.5,.8 2.9,6.3 1,1.4 1.5,1.4 1.5,.9 2,1 1.5,.4 1.4,0 1,.9.5,.1 1.5,.4 1-.4.5,.1 1.5,1.1 2,.4 1.9,1.1 1.5,.1 3,1 2,.3 1.5,.9 1,.2 1.4,.8 0,1" stroke-dasharray="58.80 48.54 9999"/><path d="M31.1,141l1,1.6 2.5,2.3 1,.7.5-.7.5-.2 1,1.2 1.5,1.4 1.4,2.1 1,.7 1,.4 2.5,2.6.5,0 1-1.7.5,.2 1,.9.5,.8 1,1 .4,0 .5,.3 1.5,1.8 1.5,.3 1.5,1.7 1,.1 1-.3 1,.7.5,.7.5-.2.5,.3.4-.2.5,.6.5-.2.5,.1 1.5,1.2 1-.3 1.5,.2 1.5-.9 1,0" fill="none" stroke-width="0.9"/>
<path d="M29.9,201.4l0-57.9.5-.2.5,.8.5,.2.4,1 .5,.5 1.5,.7.5,.7 1-1.4.5,.3.5,.6.5,1.1 1.5,2.2.5,.3.5,.6.5,.1.5,.7.5,0 1.4,1.6 1,.3.5,.6.5,0 1-1.3.5,.7 1.5,.7 1,1.9.5,.5 2,1.4.9-.7.5,.2 1.5,1.7.5,.2.5,.5.5,0 1,.7.5,.6.5,.3 1.5-.4.5,.4.5,0 1.5,.7.4,.2.5-.2.5,.3 1,0 1-.4.5,.2.5-.4.5,.3.5-.7 1-1.2 1-.8 1.5-2 1.9-4.9 1-2 .5-.4.5,.2 1,8.1 1,6.1 1,2.6 3,2.9 2.9,1.8.5-.1.5,.2 1,.1 1-.2 1,.2 3.5-1.7.9-1.3.5-.2 1-1.4 2-4.8 3-8.3 1-2.3 1-1.8 1-1.1.4,0 .5,.6.5,1.6 3,15.6 1,4.5 1,3.1 1,1.9 2,2.4.9,.8 1.5,.4 1.5,.2 1,.4 1.5,.9 1,.1 1-.2 1,.3.5,.6.5-.1.4,.3.5-.2.5,.1 1,.4 1.5,1.1 2.5,.3.5-.2.5-1.1.5-.4.5,.2 1,1 1.4,.5.5,.7 1-1.3 1,.2 1,.8 1.5,.4.5-.4.5-1.1.5,0 2,1.9 1.9,.8.5-.1 1,.3.5,.4 1-.1.5-.2 1.5-.1 1.5,.6 1-.1 2.9,.5 1,0 .5-.2 2,.5 1.5-.4.5,.2 2,.1 2.4-.2 1.5,.7 1-.4 1.5-.1 2.5,.6 1.9,0 4-.3 2,.7.5-.5 1-.2 2.4,1 .5-.2.5,.2.5-.2.5,.4 1.5-.1 1,.4 1,0 .5-.5.5,.3.5-.1.5,.4 1.5-.7.5-.1.9-.7 1-2 2-5.4.5-.3.5,.2 1,1.3 3.5,6.9 1.9,2 1.5,1.1.5,0 1,.3 3,1.5 1,0 1.5,.5 1.4,0 1,.5 1,.8 2,.4 3,1 .5-.1.5,.2.5,0 1.9,1 1,0 2.5,1.1 3,1 0,1.2" stroke-dasharray="57.90 49.30 9999"/><path d="M29.9,143.5l.5-.2.5,.8.5,.2.4,1 .5,.5 1.5,.7.5,.7 1-1.4.5,.3.5,.6.5,1.1 1.5,2.2.5,.3.5,.6.5,.1.5,.7.5,0 1.4,1.6 1,.3.5,.6.5,0 1-1.3.5,.7 1.5,.7 1,1.9.5,.5 2,1.4.9-.7.5,.2 1.5,1.7.5,.2.5,.5.5,0 1,.7.5,.6.5,.3 1.5-.4.5,.4.5,0 1.5,.7.4,.2.5-.2.5,.3 1,0 1-.4.5,.2.5-.4.5,.3.5-.7" fill="none" stroke-width="0.9"/>
<path d="M28.6,203l0-58.5.5,.5.5-.2 2.5,3.3 1,.6.5-1.5.9,.5 3,4.5.5,.3.5,0 1,1 .5,.2.5-.1 1,.9 1,1.2.5,.2.4-1.4.5-.6.5,.3.5,1.1 2,2.3.5,.4.5-.3.5,.1 1.5,2 1,.9 1.5,.1.5,.4 1.4-.2.5,.6 1.5,.4 1,1.2 1,.8.5-.3 1,0 2,.5.5-.3 1.9-.1 1-.4 1-.9 1.5-1.8 3.5-7.8 1-1.1.5-.1 1.4,11.8 1,3.4 1.5,3 1,1 1.5,1 1,.4 1,0 1,.3.9,.9 2.5,.3 2-.7.5,.2 1.5-2 1-.9 1-2.4 1.4-2.7 3-8.6 1.5-3.1 1-2 1-1 .5,0 .5,.8 1,3.7 2.4,13.6 1,4.3 1,3 1.5,2.9 1.5,1.7.5,.4.5,0 1,.3 1,.8.5,.1.9-.2 2,.8 1,.9 3,.3 1,.5 1-.1 1,.9.4,.1 1-.3 1.5,.7.5-.1.5,.3.5-1 1-.5 2,1.1 1,1.1 1-1.4.5,0 .9,.3.5,.4 1,.3.5,.5.5-.1.5-1 .5-.1 1.5,.6 1.5,1.2 1,.4 1.5,0 .9,.6 1-.1 2,.7 1-.3.5-.4 1.5,.7 2.5-.1 1,.4.4,.1 2.5-.3 1.5,.4.5,.3.5-.2 1-.1.5,.2 1.5-.6.5,0 .9,.1 1,.5.5,.1 1-.3 1.5,.4 1.5-.4 1,.4 2-.3 1,.3.9-.2 1,.4.5-.2 1,.1.5,.3 1-.1 1.5,.2 1-.2 2,.6.5-.1 2.4,.3.5-.1.5,.2.5-.3.5,.3 1-.1 2.5-1.1 1-1.7 1.9-5.9.5-.5.5,.1 1,1.5.5,1.4 2.5,4.8 2,2.2 2.4,2 3,.9 1,.7 1.5,.2 2,.6 1.5,.1 1.9,1.1.5,0 .5,.4.5,0 .5,.5 1,.1.5-.2 1,.2 1.5,1.1 1.5-.3.5,.6.9,.5 1,.1 2,.8 2,.5 0,1.3" stroke-dasharray="58.50 50.16 9999"/><path d="M28.6,144.5l.5,.5.5-.2 2.5,3.3 1,.6.5-1.5.9,.5 3,4.5.5,.3.5,0 1,1 .5,.2.5-.1 1,.9 1,1.2.5,.2.4-1.4.5-.6.5,.3.5,1.1 2,2.3.5,.4.5-.3.5,.1 1.5,2 1,.9 1.5,.1.5,.4 1.4-.2.5,.6 1.5,.4 1,1.2 1,.8.5-.3 1,0 2,.5.5-.3 1.9-.1 1-.4" fill="none" stroke-width="0.9"/></g>
<g stroke="#555" stroke-width="0.7" fill="none">
<line x1="22.4" y1="205.3" x2="228" y2="205.3"/>
<line x1="228" y1="205.3" x2="294" y2="121"/>
<line x1="29.3" y1="114.2" x2="144" y2="49.4" stroke="#222" stroke-width="0.6"/>
</g>
<path d="M26.3,205.3v2.6M32.9,205.3v1.6M39.5,205.3v1.6M46.1,205.3v1.6M52.7,205.3v1.6M59.3,205.3v2.6M65.9,205.3v1.6M72.5,205.3v1.6M79.1,205.3v1.6M85.7,205.3v1.6M92.3,205.3v2.6M98.9,205.3v1.6M105.5,205.3v1.6M112.1,205.3v1.6M118.7,205.3v1.6M125.3,205.3v2.6M131.9,205.3v1.6M138.5,205.3v1.6M145.1,205.3v1.6M151.7,205.3v1.6M158.3,205.3v2.6M164.9,205.3v1.6M171.5,205.3v1.6M178.1,205.3v1.6M184.7,205.3v1.6M191.3,205.3v2.6M197.9,205.3v1.6M204.5,205.3v1.6M211.1,205.3v1.6M217.7,205.3v1.6M224.3,205.3v2.6" stroke="#555" stroke-width="0.7" fill="none"/>
<path d="M233.5,198.2h3M248.5,179.2h3M263.4,160.1h3M278.3,141.1h3M293.2,122.0h3" stroke="#555" stroke-width="0.7" fill="none"/>
<g stroke="#aaa" stroke-width="0.7" fill="none">
<line x1="352" y1="112" x2="417.1" y2="30.8"/>
</g>
<g fill="#fff" stroke="#000" stroke-width="0.5" stroke-linejoin="round"><path d="M416.6,124.5l0-34.9 1.6-.3.8-.3.8,.3 1.7-.2 1.6,.3.8,.5.8,0 2.5,.5.8,.4 1.6,0 .8-.2 1.6,.2 2.5-.7 2.4-.1 2.4-.6 3.3-.4 1.6,.3.8-.8 2.5-.8 1.6-1.5.8,0 .8-.8 4.1-6 1.6-3.3 2.4-8 3.3-14.6 2.4-9.2.8-2.1.8-1.4.8,.5.9,.1.8,2.2 1.6,7.6 3.2,19 .9,4.1 1.6,5.9 1.6,4.4 2.4,5.5.8,.8.9,1.4 1.6,1.2.8,.2.8-.4.8,.6.8,.3 1.7-.3 1.6-.9 1.6-2 2.4-3.8 1.7-4.1 1.6-5.1 2.4-9.3 1.6-4.9.9-1.3.8-.7.8,0 .8,1.4.8,1.1 4.9,16.3 2.4,6.4 1.6,3.1 1.7,2 2.4,2.3 1.6,.3.8-.1 1.7-1 .8-.9 1.6-2.1 2.4-4.5.8-2 1.7-5.1 1.6-6.2 5.7-35.7.8-3.1.8-1.8.8-.1.8,.8 1.6,7 3.3,21.3 3.2,17.7.9,3.4 2.4,7.9 3.2,6.7 4.9,3.5 1.6,1.5 2.5,1.5.8-.1.8,.6 9.7,1.2 1.7,.4.8,.4 4,.4.8-.2 2.5,.7 3.2,.2.8,.3 1.7-.1 1.6,.5 4.1,0 .8-.2 1.6-.2 2.4,.4.8,.4 1.7-.2.8,.1.8,.3 1.6-.1 1.6,.4 1.7,.1 2.4,.6 1.6,.2 5.7,.1 0,14.9" stroke-dasharray="34.90 82.22 9999"/><path d="M416.6,89.6l1.6-.3.8-.3.8,.3 1.7-.2 1.6,.3.8,.5.8,0 2.5,.5.8,.4 1.6,0 .8-.2 1.6,.2 2.5-.7 2.4-.1 2.4-.6 3.3-.4 1.6,.3.8-.8 2.5-.8 1.6-1.5.8,0 .8-.8 4.1-6 1.6-3.3 2.4-8 3.3-14.6 2.4-9.2.8-2.1" fill="none" stroke-width="0.68"/>
<path d="M415.3,126.1l0-34.9.8,.1 1.7-.1.8-.2 1.6,.1.8-.1.8,.3.8-.2.8,.3 1.7,.1.8,.4.8-.3.8,.2 4.9-.3.8,.4 2.4-.4 1.7,.2.8-.5.8,.3 1.6,0 1.6-.4.8,.1 3.3-1.7.8-.1.8-.9 2.4-1 2.5-3 1.6-3.5 2.4-6.3 2.5-8.6 2.4-11 2.4-6.8.9-.5.8,.3 1.6,2.9.8,2.3 1.6,6.2 3.3,17.5.8,3.6 1.6,5.2 1.6,3.4 2.5,3.8.8,.6 1.6,1.8 1.6,1.1.9,.1.8,.3 1.6-.3 3.2-2.7 3.3-4.5 1.6-3.6 1.6-4.4 3.3-10.6 1.6-3.3.8,0 .8,.5 1.6,3.2 4.9,15.7 1.6,3.8 1.7,2.9 2.4,2.8 1.6,.9 1.7,.2.8-.2 1.6-1.1.8-1.2 1.6-1.7.8-1.3 2.5-4.3.8-2.1 2.4-9.2 5.7-30.9.8-3.1.8-2 .8-.3.9,1.4.8,2.5 1.6,8.4 3.2,19.2 1.7,8.2 1.6,6.6 1.6,5 1.6,3.5 2.5,3.6 1.6,2 .8,.4.8,1 3.3,2.6 1.6,.3.8,.5 2.4,.3 1.7,.7.8-.1 3.2,.8 1.6,.2 3.3-.1 1.6,.7 3.3,.8 3.2-.1 3.3-.3 2.4,.7 1.6,.1 3.3,.5 1.6,.5 2.4-.7 2.5,.1 2.4,.6 4.9,.4.8,.3 1.6-.1 2.4,.2 1.7,0 1.6,.4.8-.1.8,.3.8,.1 0,14.6" stroke-dasharray="34.90 78.60 9999"/><path d="M415.3,91.2l.8,.1 1.7-.1.8-.2 1.6,.1.8-.1.8,.3.8-.2.8,.3 1.7,.1.8,.4.8-.3.8,.2 4.9-.3.8,.4 2.4-.4 1.7,.2.8-.5.8,.3 1.6,0 1.6-.4.8,.1 3.3-1.7.8-.1.8-.9 2.4-1 2.5-3 1.6-3.5 2.4-6.3 2.5-8.6 2.4-11 2.4-6.8" fill="none" stroke-width="0.68"/>
<path d="M414.1,127.8l0-35.4 1.6,.3.8,.6 1.6,.5 4.1-.2.8,.3.8-.1 1.6,.3 1.7,0 3.2-.3.8-.4.8,0 .8,.3 2.5-.6.8,.2.8-.1.8-.4 4.1-.6.8-.4 1.6-.3 1.6-.5 2.5-1.4 1.6-1.7 2.4-3.4 1.6-3.2 2.5-6.1 4.9-17.1.8-2.1.8-1.6 1.6,.3.8,.8 1.6,3.4 1.7,5.5 3.2,15.1 2.4,8.2.9,2.1 1.6,3.5.8,1.4.8,1 1.6,1.4.8,.7.9,.3 2.4,.4 2.4-.5.8-.2 1.7-1.2.8-1 1.6-2.2 1.6-2.7 2.5-5.7 3.2-9.2 1.6-2.7.8-.2.9,.7.8,1.3 4,10.9 2.5,5.4 3.2,5.3.8,.9 1.6,1.1.9,.3 3.2-.4 2.4-1.3 1.7-1.8 1.6-2.5.8-1.6 1.6-4.6 2.5-9.6 4.8-22.9.8-2.5.9-1.4.8-.1.8,.5.8,1.6 1.6,7 4.1,20.5 1.6,6.8 1.6,5.2 2.5,5.3 1.6,2.8 2.4,3.4 1.6,1.3 2.5,1.2 1.6,.4 1.6,.7.8,0 2.5,1 .8-.1 2.4,.4 4.9,1.1 1.6-.1 1.6,.1 3.3,.5.8-.1 4.1,.7.8,.4 2.4-.2.8-.3 7.3,.4 1.7,.4.8-.1 2.4,.5.8-.2.8,.2 3.3,.2 4,1.1 1.7,0 .8-.3 1.6,.3.8-.2 3.3,.5 0,14.8" stroke-dasharray="35.40 73.95 9999"/><path d="M414.1,92.4l1.6,.3.8,.6 1.6,.5 4.1-.2.8,.3.8-.1 1.6,.3 1.7,0 3.2-.3.8-.4.8,0 .8,.3 2.5-.6.8,.2.8-.1.8-.4 4.1-.6.8-.4 1.6-.3 1.6-.5 2.5-1.4 1.6-1.7 2.4-3.4 1.6-3.2 2.5-6.1 4.9-17.1.8-2.1.8-1.6" fill="none" stroke-width="0.68"/>
<path d="M412.8,129.4l0-35.2.8-.4 1.6,.6 1.6,.1 1.7,.5.8-.3.8,0 .8,.5.8,.2 1.6-.1 1.7,.3.8-.4 1.6-.1.8,.2.8-.2 1.7,.1 1.6-.3 1.6,.2.8-.5.8-.2.8,.4 2.5-.5.8,.3.8-.1.8-.5.8-.1.8-.5 1.7-.6 3.2-2.1 4.1-5.7 3.2-6.9 2.4-6.8 3.3-10.4.8-1.5.8-1.1.8,.1.8,.6.9,1.5 1.6,4.4.8,3 2.4,11.9 1.7,6.7.8,2.7 1.6,4.2 2.4,3.8 3.3,2.5 2.4,1.3 2.4-.4 4.1-2.5 1.6-1.8 1.7-2.5.8-1.9 4-10.2 1.6-2.7 1.7-1.7 2.4,3.2 4.9,12.3 1.6,3.4.8,1.2 2.5,2.8.8,.6 2.4,1 1.6,0 2.5-.6 1.6-1.6 1.6-2.1 2.4-4.5 3.3-10.7 3.2-15.6 1.7-6.6.8-2.8.8-1 .8,.6.8,1.5 1.6,5 4.9,21.4 2.4,8.2 1.7,4 1.6,3.3 2.4,3.8 1.7,1.5 1.6,.9 3.2,1.5 4.9,.8 2.4,1 1.7,.2.8,.3 1.6-.1 2.4,.7.8-.1.9,.3 3.2,0 4.9,.8 2.4,.2 2.4-.3 4.9,.2.8,.3 1.7,.1 2.4,.8 1.6-.1.8,.2 1.7-.1 2.4,.4.8-.1 1.6,.2 1.6,.6 3.3,.1 2.4-.5 4.1,.3 0,15.2" stroke-dasharray="35.20 71.47 9999"/><path d="M412.8,94.2l.8-.4 1.6,.6 1.6,.1 1.7,.5.8-.3.8,0 .8,.5.8,.2 1.6-.1 1.7,.3.8-.4 1.6-.1.8,.2.8-.2 1.7,.1 1.6-.3 1.6,.2.8-.5.8-.2.8,.4 2.5-.5.8,.3.8-.1.8-.5.8-.1.8-.5 1.7-.6 3.2-2.1 4.1-5.7 3.2-6.9 2.4-6.8 3.3-10.4.8-1.5" fill="none" stroke-width="0.68"/>
<path d="M411.5,131l0-35.4 2.5,.5 3.2-.2.8,.3 1.6-.3 1.7,0 .8,.3 1.6,.1.8,.3 1.6-.2.8,.1 1.7,.8.8-.2 1.6,.5 2.4-1 1.7,.5.8-.2.8,.2 1.6,0 .8-.7 1.7-.6 2.4-1.5.8-.2 1.6-.8 1.6-1.3 2.5-2.3 1.6-2.8 2.4-5.9 4.9-13.9 1.6-3.4.9-1 .8-.4.8,.5 1.6,3.2 1.6,5.4 3.3,15.1.8,2.8 2.4,6.2 1.6,2.7 2.5,3.1 1.6,1.1 1.6,.8 2.5-.2 3.2-.9 2.4-2.1 3.3-4.8 4.9-10.9.8-1 .8-.5.8-.1.8,.4 1.6,2.5 4.9,11 1.6,2.6 2.5,3.1.8,.3 1.6,1.1 1.6,.3 1.7-.3.8-.4 1.6-.5 2.4-2.1.8-1.2 1.7-2.6 1.6-3.8 1.6-4.9 1.6-6.4 4.1-14.5.8-2 .8-1.3.8-.4.8,1 1.7,4.7 4.8,19.6 2.5,7.8 1.6,3.4 1.6,2.8 2.5,3.3 1.6,1.6.8,.6.8,.5.8,0 1.6,.8.9,.2 2.4,1.1 1.6,.3.8,.4 1.7-.1 1.6,.3 2.4-.2.8,.3 1.6-.1 2.5,.5 4.9,.2 1.6,.2.8,.3 2.4,0 1.7,.4.8-.1 1.6,.4 1.6,.1.8-.2 4.1,.6.8,.4 2.4-.3.8,.4 1.7,0 1.6,.3 3.2-.3 3.3,.6 1.6,.6 1.6-.2 2.5,.4 1.6,0 .8,.2.8-.1 0,14.7" stroke-dasharray="35.40 69.53 9999"/><path d="M411.5,95.6l2.5,.5 3.2-.2.8,.3 1.6-.3 1.7,0 .8,.3 1.6,.1.8,.3 1.6-.2.8,.1 1.7,.8.8-.2 1.6,.5 2.4-1 1.7,.5.8-.2.8,.2 1.6,0 .8-.7 1.7-.6 2.4-1.5.8-.2 1.6-.8 1.6-1.3 2.5-2.3 1.6-2.8 2.4-5.9 4.9-13.9 1.6-3.4" fill="none" stroke-width="0.68"/>
<path d="M410.2,132.6l0-35.4 3.3,.6 3.2,.3.9,.4.8-.4 1.6,.2.8,.4.8,0 .8-.2.8,.1.9-.2.8,.2.8-.6.8-.1 2.4,.4.8,0 .9,.3 1.6-.2.8,.2.8-.1.8,.2 2.4,0 4.9-1.6 2.5-1.4 1.6-1.1 3.2-4 .8-1.2 1.7-3.2 1.6-4.2 1.6-5.1 1.6-4 1.7-3.4.8-.7.8-.5.8,0 1.6,2.1.8,1.3 1.7,4 3.2,13 1.6,5.2 1.7,3.7 2.4,4.5.8,1.1 1.6,1.2 5.7,.4 1.6-.3 1.7-.8 2.4-2.3 3.2-4.7.8-1.5 2.5-6.1.8-1.2 1.6-2 .8-.1 1.7,1.9 1.6,2.6 1.6,3.4 2.4,4.3.9,1.9 1.6,2.2 1.6,1.7.8,.4.8-.2.8,.3.9,.8 3.2,.4.8,.3.8-.9.8-.3 2.5-2.4 3.2-5.2.8-1.8 3.3-10.4 1.6-7.4.8-2.8 1.6-4.6.8-1.4.9,.3.8,1.1 1.6,3.7 4.9,18.8 1.6,4.4 2.4,5.7 1.7,2.7 1.6,2.1 4,3 4.1,1.9.8,0 1.6,.5 3.3,.3.8,.2 1.6-.2.8,.4.8,0 .9,.3.8,0 1.6,.5 2.4-.2 1.6,.2 2.5,.5.8,.4 2.4,0 1.7-.1.8-.2.8,.2 1.6,0 5.7,1 6.5,0 1.6,.4 2.4-.2 1.7,.4 4.8-.3.9,.5 2.4,.6 4,.3 0,14.8" stroke-dasharray="35.40 66.75 9999"/><path d="M410.2,97.2l3.3,.6 3.2,.3.9,.4.8-.4 1.6,.2.8,.4.8,0 .8-.2.8,.1.9-.2.8,.2.8-.6.8-.1 2.4,.4.8,0 .9,.3 1.6-.2.8,.2.8-.1.8,.2 2.4,0 4.9-1.6 2.5-1.4 1.6-1.1 3.2-4 .8-1.2 1.7-3.2 1.6-4.2 1.6-5.1 1.6-4 1.7-3.4.8-.7" fill="none" stroke-width="0.68"/>
<path d="M409,134.3l0-35.6 3.2,.4.8,.5.9-.1.8,.5.8-.3.8,0 .8-.3 1.6,.2.8-.2.8,.3.9-.2.8,.3 1.6-.2 2.4,.4 1.7-.3.8,.4.8-.3 1.6-.1.8,.1.8,.4.8-.5.9,.1 1.6-.5.8,0 .8-.6.8-.4 1.6,.1 1.7-.9 1.6-.3 4-3.5.9-1.3 3.2-6 2.4-5.4 2.5-6.2 1.6-2.4.8-.6.8,.2 1.6,2.1 1.7,3 .8,2.4 4,15.1.9,2.3 1.6,3.6 1.6,2.7.8,.4 2.5,2.2.8,.4.8,0 1.6,.7.8-.3 2.4,0 2.5-.8 1.6-1 1.6-1.7 1.7-2.3 4.8-8.8.8-1 .9-.4.8,0 .8,.4 1.6,2.2 2.4,4.7 1.7,2.7 3.2,3.9.8,1.3.8,.4.8,1.1 2.5,.8.8-.1.8,.3 1.6,.1 2.5-1 .8-.6 3.2-4 2.5-4.8 3.2-8.9 2.4-8.1 1.7-3.7.8-1.1.8-.6.8,.7.8,1.1.8,1.8 3.3,11.1 2.4,7.4 3.3,7.2 2.4,3.4 1.6,1.4 4.1,3 .8,.8 1.6,.4 3.3,.3 2.4,1.2.8,.2 3.3,.1 2.4,.3.8,.3 4.1-.2 1.6-.5.8,.3 2.4,.1 1.7,.5 2.4,0 3.2,.4.9-.3 3.2,.6.8-.2 5.7,.3.8,.1 1.6,.6.9-.1 2.4,.5 1.6-.2 1.6,.2 1.7,.4 3.2,.6 1.6-.2 2.5,.4.8-.1 0,14.8" stroke-dasharray="35.60 64.97 9999"/><path d="M409,98.7l3.2,.4.8,.5.9-.1.8,.5.8-.3.8,0 .8-.3 1.6,.2.8-.2.8,.3.9-.2.8,.3 1.6-.2 2.4,.4 1.7-.3.8,.4.8-.3 1.6-.1.8,.1.8,.4.8-.5.9,.1 1.6-.5.8,0 .8-.6.8-.4 1.6,.1 1.7-.9 1.6-.3 4-3.5.9-1.3 3.2-6 2.4-5.4 2.5-6.2 1.6-2.4" fill="none" stroke-width="0.68"/>
<path d="M407.7,135.9l0-35.3 1.6,.1 1.7-.3.8,.2 1.6,.6.8,.1.8-.2 1.6,.3.9-.2.8,.1.8-.1.8,.3 1.6-.5.8,.1.8-.2 1.7,0 1.6,.8 1.6,.1.8,.3 1.6,0 1.7-.2 1.6-1.1.8,0 .8-.5 1.6-.4.9,.5.8,.1 3.2-1.1.8-1.1 2.5-1.7.8-.8 1.6-1.6.8-1.2 4.1-8 1.6-3.7 2.4-4.1.8-.4.9,.1 1.6,1.1.8,1.1 1.6,3.3 3.3,11.7 1.6,4.6 1.6,3.5 1.6,2.6.8,1 .9,.5.8,1.1 4,1.4.8,0 .9,.3 3.2-.7 1.6-1.3.8-.2 1.7-1.9 2.4-3.7 3.2-5.8 2.5-2.6 1.6,.5.8,1 1.6,2.3 2.5,4.3.8,1.7 1.6,2.3 2.5,2.8 1.6,1 2.4,1.1 2.4,.1 1.7-.2 1.6-.8.8-.5 1.6-1.5 1.7-1.8.8-1.6 1.6-3.3 1.6-4.1 4.9-13.2.8-1.6.8-1 .8,.3.8,.7 1.7,3.3 5.6,16.3 3.3,6.6 4.1,5 3.2,2 .8,.3 3.3,.3 3.2,.9 1.6,.7 1.7,0 1.6,.2.8-.1 4.1,.1 7.3,1 4.8-.2 3.3,.5.8,.3 1.6,0 2.5,.4 2.4,0 1.6,.4 1.6-.1 1.7,.5.8-.3 2.4,.6 1.6-.1.8,.4 1.7-.1 2.4,.4 2.4-.1 4.9,.3 0,15" stroke-dasharray="35.30 62.62 9999"/><path d="M407.7,100.6l1.6,.1 1.7-.3.8,.2 1.6,.6.8,.1.8-.2 1.6,.3.9-.2.8,.1.8-.1.8,.3 1.6-.5.8,.1.8-.2 1.7,0 1.6,.8 1.6,.1.8,.3 1.6,0 1.7-.2 1.6-1.1.8,0 .8-.5 1.6-.4.9,.5.8,.1 3.2-1.1.8-1.1 2.5-1.7.8-.8 1.6-1.6.8-1.2 4.1-8 1.6-3.7 2.4-4.1" fill="none" stroke-width="0.68"/>
<path d="M406.4,137.5l0-35.5 1.7,.3 1.6-.3 1.6,.8.8,.2.8-.1.8,.5 1.7,.1 1.6-.5 2.4,1 .8,.1.9,.4.8-.1.8-.4 1.6-.1 1.6-.4 1.7,.4 1.6-.5 2.4-.1.8-.3 1.6,.1 3.3-.6 3.2-1.6.9-.9.8-.4 2.4-2.1 1.6-1.7.8-1.5 1.7-2.5 2.4-5.1.8-1.3 2.4-5 .9-1.2.8-.1.8,.2.8,.5 1.6,2.2 1.6,3.4.9,2.4 2.4,8.8 2.4,6.3 2.5,3.5 3.2,3 3.3,1.3 3.2-.4 1.6-.9 1.7-.6.8-.6 3.2-3 5.7-8.1.8-.7.8-.3 1.6,.5.9,1 4,7.5 2.5,3.1 4,2.2 1.6,.1.9,.4 2.4,.1.8,.2 2.4-.4.8-.4 2.5-3.2 3.2-5.9 2.5-5.6 2.4-6.6 1.6-3.4.8-.5.9,0 .8,.4.8,1.2.8,1.8 4,11.9 2.5,5.4 1.6,3.1 2.4,3.1 1.7,1.1.8,.8.8,.2 2.4,1.5 1.7,.4 1.6,.9 1.6,.4.8,.5.8-.1 2.5,.5.8,.4 2.4,.3 2.4-.2 4.1,.7 2.4,0 1.7-.4 3.2,.1 1.6,.5.8,0 3.3,.4 8.1,.5 3.3,.6 2.4,.1 2.4-.2 4.9,1 1.6-.4 3.3,.2 2.4,1 1.6-.1 0,14.7" stroke-dasharray="35.50 62.28 9999"/><path d="M406.4,102l1.7,.3 1.6-.3 1.6,.8.8,.2.8-.1.8,.5 1.7,.1 1.6-.5 2.4,1 .8,.1.9,.4.8-.1.8-.4 1.6-.1 1.6-.4 1.7,.4 1.6-.5 2.4-.1.8-.3 1.6,.1 3.3-.6 3.2-1.6.9-.9.8-.4 2.4-2.1 1.6-1.7.8-1.5 1.7-2.5 2.4-5.1.8-1.3 2.4-5 .9-1.2" fill="none" stroke-width="0.68"/>
<path d="M405.2,139.2l0-36 .8,.4.8,.8 2.4-.3 3.3-.7.8,.5.8,0 .8,.4.8,0 1.7,.4 1.6,0 .8-.3.8,.5 1.6-.2.8,.4 2.5-.4 1.6,.3.8-.3.8,.5.8,.2.8-.2.9-.7 1.6,.2 1.6-.8 2.4-.1 3.3-1.4.8-.1.8-1 .8-.4 1.6-1.6 2.5-3.4 1.6-3.8 1.6-2.2 1.7-3.3 2.4-3.2.8-.9.8-.2 1.6,1.4 2.5,4.7 3.2,10.5 1.6,3.8 2.5,4.2 3.2,3.3 2.5,.9.8,.6 1.6,0 .8,.5.8,0 .8-.1.9-.5 1.6-.3.8-.9 2.4-1.4 2.5-3.2 4-4.7 1.6-.9 1.7-.1 2.4,2.6.8,1.3 4.1,5 1.6,.8.8,.9.8,.4.8,.6.8,.1 1.7,1 .8,.2 2.4,.1 3.3-1.1 3.2-2.9.8-1.2 3.3-5.8 4.8-10.1.9-1.1 1.6-.9.8,.1 1.6,2.4 1.6,3.7 3.3,9 2.4,4.9 2.5,3 4,3 .8,.3 1.7,1.2.8,.4.8,.1 1.6,1 2.4,.1.9,.4 4.8,.8 2.5-.2 4,.5 1.6-.1 1.7,.5 1.6-.1.8,.4 2.4-.1.9,.3.8-.1 4.8-.7 4.9,1.1 5.7,.7 4.9,.2.8,.1.8,.5.8-.1.8,.3 1.6,0 .9,.2.8-.5.8,.4.8,0 3.2,1 2.5,.2 0,14.3" stroke-dasharray="36.00 61.06 9999"/><path d="M405.2,103.2l.8,.4.8,.8 2.4-.3 3.3-.7.8,.5.8,0 .8,.4.8,0 1.7,.4 1.6,0 .8-.3.8,.5 1.6-.2.8,.4 2.5-.4 1.6,.3.8-.3.8,.5.8,.2.8-.2.9-.7 1.6,.2 1.6-.8 2.4-.1 3.3-1.4.8-.1.8-1 .8-.4 1.6-1.6 2.5-3.4 1.6-3.8 1.6-2.2 1.7-3.3 2.4-3.2" fill="none" stroke-width="0.68"/>
<path d="M403.9,140.8l0-35.8.8,.5 1.6,.4.8-.4.9,.3 2.4-.6 1.6,.8 1.6,.2.9-.2.8,.5.8-.4 3.2,.3 1.7-.5.8,.6 1.6-.3 1.6,.3 1.6-.5.8,.5 2.5-.2.8,.5.8,0 1.6-.2.8-.4.9,0 1.6-.8.8-.1 1.6-.7 2.5-1.7 3.2-3.7 4.1-7.3 1.6-3.6.8-.7.8-1.4.8-.8 1.6-.5.9,.9.8,.5 2.4,4.1 1.6,5 1.7,6 .8,2.1 2.4,4.5 1.6,1.5 2.5,2.9 1.6,.8 2.4,.3.8-.3 2.5,.1 2.4-.8 5.7-4.1 1.6-1.4 2.4-3.5 1.7-1.2.8-.1.8,.4 2.4,2.2.8,1.3.9,.4 3.2,3.8.8,.6 2.5,2.6 1.6,.7 2.4,.4 2.4-1.1.9,.3.8,0 2.4-.4.8-.4 4.9-7.2.8-.9 4.9-9.4.8-1 .8-.2 1.6,.6.8,.8 1.7,3 4.8,10.1 3.3,5.1 4,3.7.9,.4.8,.8 1.6,.8 3.2,1 1.7,0 2.4,.5.8-.3 1.6,.7 1.7,0 1.6,.6.8-.2 1.6,.6.8,0 1.7-.3.8,.3 1.6,.1 2.4,.7 3.3,.1 1.6-.3.8,.1.8-.2.8,.1.8-.2 1.7,.2 2.4,.1 3.3,.7 3.2,0 2.4-.2 4.1,.7.8,.4.8-.1 2.5,.4 2.4,.1 2.4,.6 1.7-.5.8,.5.8-.4.8-.2.8,.3 0,15.3" stroke-dasharray="35.80 60.97 9999"/><path d="M403.9,105l.8,.5 1.6,.4.8-.4.9,.3 2.4-.6 1.6,.8 1.6,.2.9-.2.8,.5.8-.4 3.2,.3 1.7-.5.8,.6 1.6-.3 1.6,.3 1.6-.5.8,.5 2.5-.2.8,.5.8,0 1.6-.2.8-.4.9,0 1.6-.8.8-.1 1.6-.7 2.5-1.7 3.2-3.7 4.1-7.3 1.6-3.6.8-.7.8-1.4.8-.8" fill="none" stroke-width="0.68"/>
<path d="M402.6,142.4l0-35.5 1.7,.2.8,.4.8-.3 2.4,.3 4.9-.1 2.4,.7.8-.1 1.7,.3 1.6-.2 2.4,.4 1.6-.2 1.7-.4.8-.1.8-.3.8,.2 1.6-.1 2.5-.4.8-.4 1.6,.1.8-.2 2.4-1 3.3-2.6 2.4-2.5 2.5-3 1.6-1.7.8-1.6 3.3-4.5.8-.9.8-.1.8,.1 2.4,2.7.8,1.6 2.5,8.2 1.6,4.5.8,1.6 1.6,2.2 1.7,2 1.6,1.3.8,.9 4,1.1.9-.2 2.4-.1 4.1-1.5 2.4-1.6 1.6-1.6 3.3-3.7 2.4-1.3.8,0 1.6,.7 1.7,1.8 2.4,3.2 1.6,1.4.8,.3.8,.6.9,.4.8,.1.8,.5.8,0 .8,.5.8,.2.8-.1.8,.5.9,0 .8,.3 1.6-.1.8,.3 3.2-1.3 2.5-2.4 3.2-4.7 4.1-7.1 2.4-2.7.8,0 1.7,1.2.8,1 4,8 2.5,4.4 2.4,3.6 2.4,2.9 1.7,1.4 1.6,.9 2.4,.8.8,.1 1.7,.5.8,.1 2.4,.8 4.1,.2 3.2,.6 5.7-.2 2.4,.6 2.5,.2 2.4-.3 1.6,.5 8.2,.8 2.4-.2 1.6,.2 1.6-.2 2.5,.3.8,0 1.6,.3.8-.1 3.3,.4 5.7,.1 1.6,.5 3.2,.4 0,15.2" stroke-dasharray="35.50 57.04 9999"/><path d="M402.6,106.9l1.7,.2.8,.4.8-.3 2.4,.3 4.9-.1 2.4,.7.8-.1 1.7,.3 1.6-.2 2.4,.4 1.6-.2 1.7-.4.8-.1.8-.3.8,.2 1.6-.1 2.5-.4.8-.4 1.6,.1.8-.2 2.4-1 3.3-2.6 2.4-2.5 2.5-3 1.6-1.7.8-1.6 3.3-4.5" fill="none" stroke-width="0.68"/>
<path d="M401.4,144.1l0-36.5.8,0 1.6,.4.8,.6.8,.1 1.6,.9.9,0 .8,.3.8-.4 1.6-.5.8,0 3.3,.5 1.6-.1 2.4,.1.8,.1 1.7,.9.8-.1 1.6,.1 1.6-.6.8-.6 2.5-.2.8,.2 2.4-.4.8-.5 2.5-.5 1.6-.7 1.6-1.1 1.6-1.8 1.7-1.3.8-.5 3.2-4.4 2.5-3.8 1.6-1 1.6-1 .8-.1 1.6,.4 1.7,1.9 3.2,10.5 1.6,4.2.8,1.6 1.7,1.7 1.6,1.3.8,.2 1.6,1.4 1.7,.8 2.4,.4 1.6-.5 2.5-.2.8-.7 1.6-.3.8-.6.8-1.1 1.6-.9 2.5-2.5.8-.3 1.6-1.7 1.6-.6 2.5,.6 1.6,1.3 1.6,1.7.8,.4 1.7,1.9 2.4,1.5.8,.9.8,0 1.6,.5.8-.2.9,.1 1.6-.4 1.6,0 .8,.4 1.6-.5.9,.1 1.6-.7 1.6-1 1.6-1.4 1.7-2 3.2-5.4 2.4-3.1.8-.5 1.7-.2.8,.4.8,.8.8,1.4.8,.8 4.1,6.9.8,2 .8,1.4 2.4,2.8.9,.6 1.6,.7 1.6,1.7 3.2,1.8.9,.7.8-.1.8,.5 1.6,.2.8,.4.8-.3.8,.2 2.5,0 .8,.4 1.6,.1 2.5,.8.8-.4 1.6,.5 1.6-.2 3.3,.4.8-.2 1.6,.2.8,.3 4.1,.7 1.6-.3.8,0 .8,.4 2.5-.3 1.6,.3.8-.3.8,.1.8-.1 3.3,.5 1.6,0 1.6,.4.8-.2 2.5,.5.8-.3 1.6,.4 4.9,.4 2.4,.5.8,.4 3.3,0 0,15" stroke-dasharray="36.50 56.72 9999"/><path d="M401.4,107.6l.8,0 1.6,.4.8,.6.8,.1 1.6,.9.9,0 .8,.3.8-.4 1.6-.5.8,0 3.3,.5 1.6-.1 2.4,.1.8,.1 1.7,.9.8-.1 1.6,.1 1.6-.6.8-.6 2.5-.2.8,.2 2.4-.4.8-.5 2.5-.5 1.6-.7 1.6-1.1 1.6-1.8 1.7-1.3.8-.5 3.2-4.4 2.5-3.8 1.6-1" fill="none" stroke-width="0.68"/>
<path d="M398.8,147.3l0-35.9.8-.4 2.5,.4.8-.2.8,.1.8,.6.8,.1.8-.3.8,.2.9,.5 2.4,0 .8,.3 1.6-.6 1.6,0 2.5,.7.8,0 .8,.4 1.6-.5 1.7,0 .8,.2 2.4-.4 1.6,0 1.7-.9 1.6,.3.8,0 .8-.5 2.4-.6 1.7-1.1.8-.4 1.6-1 2.4-3.3.8-1.6 1.7-1.8 2.4-2.2.8-.2 1.6-1.6.9-.6 2.4,.1.8,.5 1.6,2 .8,1.9 2.5,7.5 1.6,3.2 1.6,2.7.8,1 2.5,2.2.8,.5 1.6-.3.8,.3 2.5-.2.8,.3 2.4-.6.8,0 3.3-.7 4.8-4.8.8-.4.9-.8.8-.3.8-.6 2.4-.3 3.3,2.3 2.4,2 .8,.4 1.6,1.4 1.7,1.2.8-.1 1.6,.4.8-.1.8,.2.8-.1.8,.3 1.7,0 .8,.3.8-.4 1.6-.4 2.5-1.4.8-.1.8-.3 2.4-2 3.3-4.8 1.6-2 .8-.8.8-.1.8,.2.8,.5 2.5,2 1.6,1.7 5.7,9.5.8,.4.8,1 1.6,1.1 1.6,.6.9,.6 3.2,1.8 1.6,.5 2.5,.1 1.6,.4 1.6,.1 7.3,2.2.8-.2 6.5-.2 1.7,.5.8-.1 2.4,.6.8,.1.8-.3.8,.2 3.3,0 1.6,.6 2.4-.2 1.7,.3.8-.3.8,.3 2.4,.1 1.7-.1.8-.3 4.8,1.7 2.5-.3 1.6,0 .8,.2 1.6,0 1.7,.3 1.6-.1 2.4,.4 0,15.3" stroke-dasharray="35.90 55.92 9999"/><path d="M398.8,111.4l.8-.4 2.5,.4.8-.2.8,.1.8,.6.8,.1.8-.3.8,.2.9,.5 2.4,0 .8,.3 1.6-.6 1.6,0 2.5,.7.8,0 .8,.4 1.6-.5 1.7,0 .8,.2 2.4-.4 1.6,0 1.7-.9 1.6,.3.8,0 .8-.5 2.4-.6 1.7-1.1.8-.4 1.6-1 2.4-3.3.8-1.6 1.7-1.8 2.4-2.2.8-.2 1.6-1.6" fill="none" stroke-width="0.68"/>
<path d="M397.6,149l0-36.6 1.6,0 2.4,.8 3.3,.1 1.6-.2.8,.6 2.4,.2 1.7,.6 1.6,.1.8,.3 2.4-.3.8-.4.8,.2.9-.2.8,.1 2.4,.7.8-.3.8,.3.8-.1 1.7-.8 1.6-.2.8-.8 1.6-.5 1.7,.2.8-.6.8,0 1.6-.3 1.6-1.7.8-.2.9-.7 2.4-3.2 1.6-2.6 2.4-2.6 1.7-1.3 2.4-1.4.8,.2.8,.6 1.7,2 .8,1.9 1.6,5.2 1.6,4 .8,1.5 1.6,2.2.9,.7 1.6,.6 1.6,1.2 3.3,1.6.8,.2 1.6,.3.8-.2 1.6,.1.8-.6 1.7-.4 2.4-1.7.8-.2.8-.8.8-1.1 1.7-1.4 2.4-1.5 1.6-.6 1.6,.1.9-.3.8,.2 3.2,1.7 1.6,1.6 3.3,2.1 1.6,.2 2.4,1 .9-.2 1.6,.3 4,.2.9-.2.8-.5.8-.2 3.2-2.6.8-.4.9-1.2 2.4-2 1.6-2.2.8-.4.8-.7.9-.3.8-.1.8,.3.8,.8 5.7,8.5 4,5.1 1.7,1.5 2.4,1.1 2.4,.4.8,.6 1.7,.4 2.4,1.2.8,0 1.6,.7 1.7,.4 2.4,0 3.2,1.1.9,0 .8,.3 3.2-.3.8,.1.8,0 1.7,.4 2.4,.1 1.6-.2.8,.1 2.5-.1 1.6,.5 1.6,.1 4.1-.1 2.4,.7 2.4,.3 2.5-.2.8-.3.8,.3 1.6-.1 2.5,.4 1.6-.4 5.7,1.6.8-.1 3.2,.6.9-.3 0,15.4" stroke-dasharray="36.60 56.06 9999"/><path d="M397.6,112.4l1.6,0 2.4,.8 3.3,.1 1.6-.2.8,.6 2.4,.2 1.7,.6 1.6,.1.8,.3 2.4-.3.8-.4.8,.2.9-.2.8,.1 2.4,.7.8-.3.8,.3.8-.1 1.7-.8 1.6-.2.8-.8 1.6-.5 1.7,.2.8-.6.8,0 1.6-.3 1.6-1.7.8-.2.9-.7 2.4-3.2 1.6-2.6 2.4-2.6 1.7-1.3" fill="none" stroke-width="0.68"/>
<path d="M396.3,150.6l0-36.6.8,.1 1.6,.5 1.6-.3.9,0 .8-.2 1.6-.1 1.6,1.1.8,0 1.6,.6 3.3-.2.8,.4 3.3,.2.8,.5 1.6-.7 1.6,.4.8,.1.8-.4.9,.4.8,0 3.2-.4.8-.3 1.6,.1.9-.4.8,.1 1.6-.4.8-1.2.8-.6.8,0 2.5-2.4.8,0 .8-.7 1.6-2.4 1.6-1.6.9-1.3 1.6-1.8 1.6-1.6.8-.7 1.6-.1 2.5,1.7.8,1 3.2,8.7 1.7,3.7 2.4,2.9 2.4,1.4.8,.2 1.7-.2 1.6,.5.8-.1 2.4,.5.8,.1 1.7-.4 1.6-.8 4.1-2.8 1.6-.8 2.4-2.4 1.6-1.2.9-.4 1.6-.3 1.6,1.2.8,.2 2.4,1.6 1.7,.5 4,2.3 1.7,.7.8,0 .8,.5 1.6,.3.8,.1.8-.4.8,.2.9-.2.8,.2 1.6-.8.8,.4.8-.3.8-.1.8-.5.8-.1.9-.5.8-.9.8-.5 2.4-3.3 2.5-2.4.8,0 1.6,.7 1.6,1.2.8,1 1.7,1.5 4.8,6.9 2.5,2.7.8,.4 2.4,2.1 1.6,.5 1.7,1 .8,.1.8,.3.8,0 .8,.4 1.6,.1.8,.3 2.5,.5.8,.5 1.6,.4.8-.1.8,.5 2.5,.1 1.6,.4 4.9,.3 2.4-.3.8,.3 2.5,.2.8,.5 4,.4.8-.4 1.7,.3 1.6-.2.8-.3.8,.4 2.4-.5 1.7,.6 1.6-.1 4.9,1.5 1.6,.1 1.6-.4 2.4,0 2.5,.7 2.4,.2 4.1,0 0,15.6" stroke-dasharray="36.60 56.31 9999"/><path d="M396.3,114l.8,.1 1.6,.5 1.6-.3.9,0 .8-.2 1.6-.1 1.6,1.1.8,0 1.6,.6 3.3-.2.8,.4 3.3,.2.8,.5 1.6-.7 1.6,.4.8,.1.8-.4.9,.4.8,0 3.2-.4.8-.3 1.6,.1.9-.4.8,.1 1.6-.4.8-1.2.8-.6.8,0 2.5-2.4.8,0 .8-.7 1.6-2.4 1.6-1.6.9-1.3 1.6-1.8 1.6-1.6" fill="none" stroke-width="0.68"/>
<path d="M395,152.2l0-36.4.8,.8 1.6,.4.9-.1.8-1 .8,.2 1.6-.2.8,.3.8-.2.8,.5 2.5-.1 1.6,.5.8,.5 2.5-.1 1.6,.3.8-.3 2.4,.9 1.6-.3.9,.3 1.6-.2.8,.2.8-.1.8,.2 1.6-.3 1.7-.6 3.2-1.9 2.5-.4 2.4-1.8 1.6-1.5.8-.4.8-.9.8-.4.9-1.3 2.4-2.9.8-.5.8-1.1.8-.1 3.3-1.5 2.4,1.8.8,1.5 1.7,5.5 3.2,6.8.8,.8 1.6,1.3 3.3,.9 2.4,1.5 1.6-.2.9,.1.8-.4 1.6-1.4 1.6-.3 1.6-.9.9-.1.8-.4 1.6-1 1.6-1.8 2.4-2.3 2.5-.3.8-.3.8,.7.8,.3.8-.6 2.5,1.7.8,0 .8,.5.8,1.2 2.4,1 1.7,.3.8-.4 2.4,0 2.4,1 2.5,.4.8-.5 2.4,0 .8-.4 1.7-.1 1.6-1 2.4-1.8 2.5-2.2 1.6-.9.8-.7 1.6,.4 1.6,1.2 6.5,8.2 1.7,1.5 1.6,2.1 3.2,2.4.9,.1 1.6,.9.8,0 1.6,1 3.3,1.4 1.6,.1.8,.5.8-.3 4.9,.9.8-.1 1.6,.5 2.5,.1 1.6,.3.8-.1.8,.3.8-.1.8,.3.8-.2.8,0 .9,.2.8-.2 1.6,.3 1.6,.6 1.6,.2.9-.1 2.4,.2.8-.2 1.6,.3 4.1-.3.8,.1 4.9,1.1 2.4,0 .8-.3 1.6,.1.9,.5 1.6,0 .8,.5 1.6,.1.8-.2 1.7,.6.8-.1.8,.2.8,0 1.6,.2 0,15" stroke-dasharray="36.40 55.67 9999"/><path d="M395,115.8l.8,.8 1.6,.4.9-.1.8-1 .8,.2 1.6-.2.8,.3.8-.2.8,.5 2.5-.1 1.6,.5.8,.5 2.5-.1 1.6,.3.8-.3 2.4,.9 1.6-.3.9,.3 1.6-.2.8,.2.8-.1.8,.2 1.6-.3 1.7-.6 3.2-1.9 2.5-.4 2.4-1.8 1.6-1.5.8-.4.8-.9.8-.4.9-1.3 2.4-2.9.8-.5.8-1.1.8-.1" fill="none" stroke-width="0.68"/>
<path d="M393.7,153.8l0-36.9 2.5,.5.8,.6 1.6,.1 2.4-.4.9-.5 1.6,.5.8,0 2.4,1.3.8,.2.9-.1.8,.3.8-.2.8,.2 1.6-.2.8,.2 2.5-.3 3.2,0 .8,.1 1.6-.3.9,.1.8-.3 2.4-.4.8,.1 3.3-1.2.8-.1 1.6-1 2.4-2.2 1.7-2.2 1.6-1.8.8-.4 1.6-1.9 2.5-1.5.8-.8 1.6-.1 1.6,.8.8,.6.8,.9.9,1.7 1.6,4.3 1.6,3.2.8,1.2.8,1.1.8,.8.9,.5.8,1 2.4,1.3 2.4-.2.8,.2 5.7,0 3.3-2.1.8-.9 2.4-1 .8-.8.9-1.3 1.6-1.1.8-.7.8-.4 1.6,.5 1.6,0 1.7,.6.8,.1 1.6,.6.8,.8 3.3,1.4 3.2,.4.8,.5 1.7,.4 1.6-.2.8,.1.8-.4.8,.2.8-.2 1.6,.5 2.5-.9.8-.1.8-.6 1.6-.9.8-.1 1.7-1.7.8-.3 2.4-1.5 2.5,.8.8,.5 4.8,5.7.8,.7 2.5,3.5 2.4,2.5.8,.4 1.7,.4 3.2,1.7 2.4,1.6 1.7,.5.8,.5 1.6,.4.8-.1.8,.2 1.6,.1 4.1,1.3 4.1,.6 2.4,0 3.3,.2 3.2,1 2.4,0 .8,.1.9-.4.8-.2 2.4,.3.8-.1 4.9,.9 1.6,0 1.6-.3 2.5,.2 2.4,.3.8,.2 3.3,.2.8,.4 1.6-.2 2.4,.5 1.7,0 .8,.3 4,0 0,15.6" stroke-dasharray="36.90 54.59 9999"/><path d="M393.7,116.9l2.5,.5.8,.6 1.6,.1 2.4-.4.9-.5 1.6,.5.8,0 2.4,1.3.8,.2.9-.1.8,.3.8-.2.8,.2 1.6-.2.8,.2 2.5-.3 3.2,0 .8,.1 1.6-.3.9,.1.8-.3 2.4-.4.8,.1 3.3-1.2.8-.1 1.6-1 2.4-2.2 1.7-2.2 1.6-1.8.8-.4 1.6-1.9 2.5-1.5" fill="none" stroke-width="0.68"/>
<path d="M392.5,155.5l0-36.1 1.6-.2.8-.3.8,0 .8,.2.8-.4 4.1,.9.8,.6 1.6,.4 4.9,0 1.6,.3.8,0 .9-.3 1.6,.1 2.4-.6 1.6,.3.9-.1 3.2,.6 3.3-.7 1.6-1.1 2.4-.7 1.6-1.4.8-.3 1.7-1.7 2.4-1.7 4.1-4.9 1.6-.9.8-.3.8,0 .8-.2 1.7,.4 1.6,1.2 1.6,3.6 1.6,4.7 1.6,3 1.7,2.3 2.4,1.4.8,.3.8,0 3.3-.3 1.6,0 .8,.2 3.3-.7 1.6-.9.8-.2 1.6-.9 4.9-3.5.8-1 1.6-.8.8,0 1.7-.6.8,.3 1.6-.5 1.6,.9.8,.1.9,.4 1.6,1.3 1.6,.4.8,.9 2.4,.8 2.5,.1 3.2,.6 3.3-.4 1.6,.2 3.3-.7 1.6-1.3.8-.2.8-.5 2.4-1.9 1.7-.8.8,0 .8,.3 2.4,2 .8,.9 4.9,7.2 2.4,2.4 1.7,1.2 4,2.2 3.3,1.3 4.8,.8 1.7,.8 1.6,.1 2.4,.7.8,.1 1.7,.6 2.4,.2.8,.3 2.4,.4 1.7-.2 2.4,0 4.1,.6 4,.3 1.7,.2.8,.4 3.2,0 1.6-.2 1.7,.4 1.6-.2 2.4,.6.8-.1 1.7,.5 4,.5.8-.2 4.1-.3.8,.2.8-.2 4.1,1.5 0,15.3" stroke-dasharray="36.10 54.34 9999"/><path d="M392.5,119.4l1.6-.2.8-.3.8,0 .8,.2.8-.4 4.1,.9.8,.6 1.6,.4 4.9,0 1.6,.3.8,0 .9-.3 1.6,.1 2.4-.6 1.6,.3.9-.1 3.2,.6 3.3-.7 1.6-1.1 2.4-.7 1.6-1.4.8-.3 1.7-1.7 2.4-1.7 4.1-4.9 1.6-.9" fill="none" stroke-width="0.68"/>
<path d="M391.2,157.1l0-37 3.2,.5.9-.2.8,.4.8-.2 2.4,.2.8,.5.8-.4.9,.1 1.6,.6 1.6,.1 1.6,.7 4.1-.4.8-.4 3.2,.8 1.7,.2 1.6-.7.8,0 .8-.3 1.6-.2.9,.1 2.4-1.2 4.1-1.5 3.2-2 4.1-3.8.8-1.3.8-.7.8-.4.8-.9.8-.4.8-.3 1.7,.1.8-.5.8,.5.8,0 .8,1.1.8,1.5 1.6,4.7 2.5,4.4.8,1 .8,.4 1.6,1.5.8,.3 4.1,.5 3.2,.7 2.5-.5 3.2-2.1 5.7-4.4 1.6-.9 4.1-.9.8,0 4.1,1.2 2.4,.1.8,.5.8,.2.8,.5 1.7,.6.8,0 .8-.3.8,.2 3.2-.1.9,.5.8,.1.8,.4 1.6-.4.8,.1 2.5-.8.8,.4 3.2-.6.8-.7 1.7-1 .8,0 .8-.4 2.4,.2.8,.7.8,.4.8,1 .9,.5 1.6,2.5 3.2,3.8 1.7,1.3 1.6,2 4,3 .9,.2 1.6,1.1 1.6,.3.8-.2.8,.3 2.5,.5 1.6,.8 2.4,.2 1.6,.6 2.5,.4 2.4,.7 1.6,0 1.7,.5 1.6,.1 2.4,.7 3.3,.2 3.2-.2 2.5,.5 1.6,.2 2.4-.2 4.1,.6 2.4,0 4.1,.7 2.4-.3.8-.1.8,.2.8-.1 3.3,.8.8-.1.8,.5 2.5,.6 3.2-.2 0,15.5" stroke-dasharray="37.00 54.03 9999"/><path d="M391.2,120.1l3.2,.5.9-.2.8,.4.8-.2 2.4,.2.8,.5.8-.4.9,.1 1.6,.6 1.6,.1 1.6,.7 4.1-.4.8-.4 3.2,.8 1.7,.2 1.6-.7.8,0 .8-.3 1.6-.2.9,.1 2.4-1.2 4.1-1.5 3.2-2 4.1-3.8.8-1.3.8-.7.8-.4.8-.9.8-.4" fill="none" stroke-width="0.68"/>
<path d="M389.9,158.7l0-36.8 5.7,.8.8,.7 2.5,.3 1.6-.4.8-.4 1.6-.4 1.6,.2 2.5,.7 1.6-.2 3.3,0 .8,.5.8,.1 2.4-.3.8,.2.8-.4.9-.1.8,.2 1.6-.5 1.6,.1 3.3-1 1.6-1.4.8-.4 2.4-1.8.8-.9.9-.4.8-1 1.6-1.3.8-1 3.2-2.2 1.7-1 1.6-.2 1.6,.3.8,.8 4.1,9.7 2.4,3 1.7,.9.8-.1 1.6,.4.8-.1.8,.3 4.1,.6 2.4-.6 4.1-2.5.8-.8 2.4-1 1.6-1.2 1.7-.3 2.4-2 .8-.2 1.6-1 .8,0 .9,.4 2.4,0 1.6,.6 1.6,.2 1.7,1 .8,.2 1.6-.1.8,.6 1.6,0 .9,.3.8,.6 2.4,.6 1.6,0 3.3-.6.8,.1 1.6-.5 1.6,0 .8-.4.9-.7 3.2-.3 1.6,.5.8,.1 2.5,1.6 3.2,4.1.8,.7 1.7,2 4,3.6.8,.2 2.5,1.7 1.6,.6 1.6,.9 5.7,1.4 1.6,.7.8,.6.9,.1.8,.5 2.4,.3.8-.3 1.6,.1.8,.3 1.7,.1 3.2,.8 2.5,.2 4,.8.8,.1.8-.3 1.7,.3.8-.2.8,.3.8-.1.8,.3.8-.4 1.6,.4.9-.2.8,.5 1.6,.4.8-.1.8,.2.8,0 .8-.3 1.7,.2 1.6-.2 1.6,.2.8-.2 1.7,.5 1.6,0 1.6,.5 2.4,.3.8,.4.9-.1.8,.2 1.6-.1.8,.2.8-.1.8,.3 0,15.5" stroke-dasharray="36.80 53.71 9999"/><path d="M389.9,121.9l5.7,.8.8,.7 2.5,.3 1.6-.4.8-.4 1.6-.4 1.6,.2 2.5,.7 1.6-.2 3.3,0 .8,.5.8,.1 2.4-.3.8,.2.8-.4.9-.1.8,.2 1.6-.5 1.6,.1 3.3-1 1.6-1.4.8-.4 2.4-1.8.8-.9.9-.4.8-1 1.6-1.3.8-1 3.2-2.2" fill="none" stroke-width="0.68"/>
<path d="M388.7,160.4l0-37.3 4,.8 3.3,1 1.6-.5 1.6,.3 1.6-.1 1.7,.5.8-.1.8,.2.8-.1 1.6,.4 3.3,0 1.6-.4.8,.1 1.6-.6 3.3-.2 1.6,.2.8-.2 3.3-.3.8-.6.8-.1 3.2-2.1.8-.2 3.3-2.1.8-1.1 2.4-2.4.9-1.2.8-.8.8-.2 2.4-1.2 1.6,.2.9-.4.8,.5.8,1.5.8,2.1 2.4,7 2.5,3.4 1.6,.3.8-.1.8,.2.8,0 .8-.4.8,.4 1.7-.3 1.6,.1 2.4-.6 4.9-2.4 2.4-1.7.8-.4.9-.7 1.6-.8 2.4-1.8 2.5-1.3.8,.4.8-.2 1.6,.3.8-.1.8,.5.8-.1.9,.2 2.4,.9.8-.3.8,.1.8,.5 2.5,.8 1.6,1 2.4,.3 1.6,.8.9-.3.8,.2 1.6,0 .8-.5.8-.2.8,.2 1.7-.3 4,0 1.6-.6 1.7-.2 1.6,.3 3.2,3.3 1.7,2.2 1.6,1.6 4.9,4.5.8,.4.8,.8 4,2.2 2.5,.9 2.4,.3 4.9,2 1.6-.1.8,.4 3.3,.5 2.4,.6 1.6,0 .8,.5 2.5-.2 1.6,.5.8-.3.8,0 2.5,.4 1.6,.4 2.4,.2 4.9,1.3 7.3-.4 2.4,.4 2.5,.7 2.4,.3.8-.2 3.3-.1 3.2,.8 3.3-.1 0,16" stroke-dasharray="37.30 53.39 9999"/><path d="M388.7,123.1l4,.8 3.3,1 1.6-.5 1.6,.3 1.6-.1 1.7,.5.8-.1.8,.2.8-.1 1.6,.4 3.3,0 1.6-.4.8,.1 1.6-.6 3.3-.2 1.6,.2.8-.2 3.3-.3.8-.6.8-.1 3.2-2.1.8-.2 3.3-2.1.8-1.1 2.4-2.4.9-1.2.8-.8.8-.2" fill="none" stroke-width="0.68"/>
<path d="M387.4,162l0-37.2.8,.5.8,0 .8-.3 1.7,.6.8,0 .8-.2.8,.6 2.4,.2 1.6,.5.9-.2 4-.6 3.3,.9.8-.2 1.6,.5 1.6-.1.8-.3.9,.5 1.6-.3.8,.2.8-.5.8-.1 1.6-.5 3.3-.1 1.6-.3 1.6-1.1.8-.1 1.7-1.4 2.4-1.2.8-.9 1.6-.9 3.3-3.7 1.6-.9.8-.7 1.6-.3.9,.4 1.6-.8.8,.6.8,1.4 2.4,6.1 1.7,2.7 1.6,1.8 1.6,1.1 2.5,1.2 1.6,.5 2.4-.4.8-.4 4.9-2.9.8,.1 2.4-1.7 1.7-.6.8-.9.8-.6 2.4-.8.8-1 .8-.1 3.3-1.5.8,.3.8-.2 3.3,.7 1.6,.6.8-.2 1.6,.2 1.7,.3 1.6,.8.8-.3 4.1,.4.8,.6 2.4,.3.8-.3 3.3,.5 2.4-.5 2.4-.7 1.7,.1 2.4,.8.8,.7.8,.3 4.1,3.8.8,1.1 3.2,3.1 2.5,2 3.2,1.8 3.3,2.4 1.6,.8 4.1,1.4 3.2,.4 3.2,1.5 1.7,.3.8-.2 1.6,.3.8-.2.8,.1 2.5,.8.8-.1 2.4,.7 1.6,.1 2.5,.9 3.2-.2 1.6-.7 3.3-.1 3.2,.6.9,.4 1.6,.3.8,.3 1.6,.2 4.9,0 1.6-.2 1.6,.2 3.3,1.3 2.4,0 2.5-.5 2.4,.3 0,16.1" stroke-dasharray="37.20 53.76 9999"/><path d="M387.4,124.8l.8,.5.8,0 .8-.3 1.7,.6.8,0 .8-.2.8,.6 2.4,.2 1.6,.5.9-.2 4-.6 3.3,.9.8-.2 1.6,.5 1.6-.1.8-.3.9,.5 1.6-.3.8,.2.8-.5.8-.1 1.6-.5 3.3-.1 1.6-.3 1.6-1.1.8-.1 1.7-1.4 2.4-1.2.8-.9 1.6-.9 3.3-3.7 1.6-.9" fill="none" stroke-width="0.68"/>
<path d="M386.1,163.6l0-37.7 2.5,.7 3.2,.5 1.6,.1 1.7-.2 1.6,.4 3.2,.2 1.6-.1 1.7,.4 3.2,1 1.6-.2.9,.3 1.6,0 .8-.5 2.4-.1 1.7-.7.8,.2 1.6-.3.8-.3.8,.2 3.3-1.5 2.4-2 .8-.3 4.1-2.8 2.4-2.2 2.4-1.7.9-.9.8,.1.8-.2.8-.5.8-.3.8,.4 1.6,2.1 1.7,4.3 1.6,3.4 2.4,3.1 2.5,1.3.8,.1 2.4-.7.8,.3.8-.4 3.3-.3.8-.6.8,0 .8-.5.8-.9 1.6-1.2.9-.4.8-.9 1.6-.4.8-.7.8-.2 1.6-1.2.9-1.2.8-.7 2.4-1.4 2.4,.4.9,.4.8,0 .8,.4.8-.1 1.6,.5.8-.1 2.5,.9 2.4,1.3 1.6,.4 1.6-.3.9,.1 1.6-.5.8,0 1.6,.5.8-.2.8,.1 2.5,.8.8-.1 1.6,.2 3.3-.7.8,.6.8,.2 1.6,0 .8,.2.8,.8 1.7,.1 6.5,7.5 2.4,1.7.8,.3 4.9,3.8 2.4,1 .8,0 2.5,1 2.4,1.3 1.6,.3.8,.3 1.7-.2 3.2,1 4.9,.7 1.6,.7 2.4,.6.8,0 .9,.2.8-.2 1.6,.5 2.4-.3.8,.3.9-.1 2.4,.5 1.6-.1 3.3,.2 1.6,.5 4.9,.2 1.6,.6 2.4,.3 2.5-.2 1.6,.3.8-.1.8,.2 1.6,.1 6.5-.2 0,16.5" stroke-dasharray="37.70 52.95 9999"/><path d="M386.1,125.9l2.5,.7 3.2,.5 1.6,.1 1.7-.2 1.6,.4 3.2,.2 1.6-.1 1.7,.4 3.2,1 1.6-.2.9,.3 1.6,0 .8-.5 2.4-.1 1.7-.7.8,.2 1.6-.3.8-.3.8,.2 3.3-1.5 2.4-2 .8-.3 4.1-2.8 2.4-2.2 2.4-1.7" fill="none" stroke-width="0.68"/>
<path d="M384.8,165.2l0-38.2 3.3,1.7.8,.1.8,.5.8,0 2.5-1.2.8,.2.8-.3 1.6,.5.8,.5.8,.2.9-.1.8,.3 1.6-.1 1.6-.4.8-.4.8-.1.9,.2.8,.5.8,.1 1.6,1 .8,.2 1.6-.7 2.5-.3.8-.4 4-.6 2.5-.1 3.2-1.2 2.5-1.8.8-1.1 2.4-2.2 1.6-1.8.8-.4.9-.9.8-.5.8-.7 4-.4.9,.8.8,1.4 2.4,6 1.6,2.4 1.7,1.5 1.6,.4.8,.7.8,0 3.2,1.2.9-.3.8,.1 6.5-3.8.8-.1.8-.8.8-.3 2.4-1.8.8-.5.9-.1 2.4-1.4 1.6-1.2.8-.3.8-.6 1.7-.3 2.4,.4 1.6,.7 3.3,.9 1.6-.2.8,.1.8,.4 1.7-.1.8,.4.8,.9.8,.2.8-.3.8,.3.8-.1.8,.4.8-.7.9,.1.8,.6.8,.3.8-.1.8-.4 1.6,.6 1.7-.6.8,.2 4.8,.1 1.7,.8 1.6,1.4 1.6,2.3 4.9,3.7.8,1.2 2.4,2.5 1.7,1.2 4,2 3.3,.8 4.8,2 3.3,.9.8,0 .8,.3.8-.1.8,.4 3.3,.4.8,.6 1.6,.1 2.4,1 .9-.3 1.6,.3 2.4-.1.8,.3 1.7,.1 1.6,.3 1.6-.1.8,.4 1.6,.1 1.7,.4 2.4-.4 2.4,.3 2.5,.7 3.2-.4.8,.3.8-.1 4.9,1 4.1,.2 3.2-.2.8,.3.8-.1 0,16.3" stroke-dasharray="38.20 54.59 9999"/><path d="M384.8,127l3.3,1.7.8,.1.8,.5.8,0 2.5-1.2.8,.2.8-.3 1.6,.5.8,.5.8,.2.9-.1.8,.3 1.6-.1 1.6-.4.8-.4.8-.1.9,.2.8,.5.8,.1 1.6,1 .8,.2 1.6-.7 2.5-.3.8-.4 4-.6 2.5-.1 3.2-1.2 2.5-1.8.8-1.1 2.4-2.2 1.6-1.8.8-.4.9-.9.8-.5" fill="none" stroke-width="0.68"/>
<path d="M383.6,166.9l0-37.8 1.6,.6.8,0 .8,.4 2.5-.4 2.4-.1 2.4,1.1 6.5,.9 1.7,0 2.4-.6 1.6,0 .8-.3 2.5,.4 4-.3 1.6,0 1.7-.8 2.4-1.6 2.4-.9.9-.6.8,.1 3.2-1.8.8-.3 4.9-5.5 1.6-.6 1.6,.8.9,0 1.6,.5 4,8.2 2.5,2.7 1.6,1 .8,.1.8,.5.8-.4 3.3-.1.8-.4 2.4-.5 1.7-.7 1.6-.4 2.4-1.6 1.6-1.5.9-.3 1.6-1.3.8-.5.8,0 2.4-1.9 1.7-.9.8-.2.8,.6.8-.4.8,.5.8-.1 1.6,.5.9-.5.8,.3 1.6,.2.8,.4 1.6-.1 2.5,.3 1.6-.5.8,.6 2.4,.4 1.7,.8.8,0 2.4,1.1 2.4,.7 1.7-.4 2.4,.4.8-.3 3.3,.6.8,.4 2.4,1.7 1.6,1.5 1.7,.9 1.6,1.7 1.6,1.1 2.4,2.6 4.1,3.1 2.4,1.2 3.3,.8 1.6,.7 2.5,1.4 1.6,.2.8,.6 1.6,0 2.4,.6.9-.1 1.6,.9.8-.3.8,.3.8-.1.8,.3.8-.3 1.7,.6.8,0 .8,.3 3.2,.8 4.1-.1 3.2,.3 1.7-.1 4,.7 1.7-.1.8,.2 1.6,0 .8,.3 5.7,.9 1.6-.3.8,.2 2.5-.3.8,.3 1.6-.1.8,.4 2.4,.4 1.7,.6.8-.2 0,15.9" stroke-dasharray="37.80 53.42 9999"/><path d="M383.6,129.1l1.6,.6.8,0 .8,.4 2.5-.4 2.4-.1 2.4,1.1 6.5,.9 1.7,0 2.4-.6 1.6,0 .8-.3 2.5,.4 4-.3 1.6,0 1.7-.8 2.4-1.6 2.4-.9.9-.6.8,.1 3.2-1.8.8-.3 4.9-5.5" fill="none" stroke-width="0.68"/>
<path d="M382.3,168.5l0-37.8.8-.2.8,.2.8,.4.9,.1.8-.1.8-.3 1.6,.5.8,0 2.5,1.1.8-.3.8,.1 2.4-.1 1.6,.8 2.5-.1.8,.3.8-.4.8-.2 1.6-.1.8,.3.9-.6 1.6,.2 1.6-.4.8,.1 1.6,.8.9-.5.8,.3 2.4-.9 1.6-.2 2.5-1.2.8-1 .8-.6.8,0 2.4-2.1.8-.4 1.7-2.1 3.2-2.3.8-.2.8-.8 1.7,0 .8,.3 1.6-.1 1.6,1.6.8,2 .9,1.3.8,2.2 2.4,3.5.8,.2.8,.8 1.6,.8.9-.1.8,.7.8,.3 3.2,.2.8-.8 1.7-.6 1.6-1.1 1.6-.6 3.3-2.2.8-.8 1.6-.2 1.6-1.1.8-.1.8-.4 1.7-1.2 1.6-.3.8-.6.8-.2 4.1-.5 4,.9.9,.3 2.4,.1 1.6,.3 1.6,1.1.8-.1.9,.7.8,.4 1.6-.2 1.6,.5.8-.6 1.7,.6 1.6,.3.8-.1.8,.8.8-.2 1.6,.3 2.5-.3 2.4,.3.8,.3 1.6,1 5.7,5.7 1.7,.9 1.6,1.8 2.4,1.5.8,.9 1.7,.5 4,1.8 1.6,.5 2.5,1.4 1.6,.5 1.6,.9 1.6,0 1.7,.6 1.6,0 .8,.4 3.3,.1 2.4,.3 2.4,.7 2.5-.5 2.4,.5 2.4,.9.8-.3 1.7,.1.8-.2 1.6,.2.8,.6 1.6,.1 1.7,.8.8,0 .8-.3 2.4-.3 2.5,.3 1.6,.6 3.2,.5 3.3,.2.8-.3 3.2,.5.8-.3 1.7,.7 2.4-.2 0,16.2" stroke-dasharray="37.80 54.10 9999"/><path d="M382.3,130.7l.8-.2.8,.2.8,.4.9,.1.8-.1.8-.3 1.6,.5.8,0 2.5,1.1.8-.3.8,.1 2.4-.1 1.6,.8 2.5-.1.8,.3.8-.4.8-.2 1.6-.1.8,.3.9-.6 1.6,.2 1.6-.4.8,.1 1.6,.8.9-.5.8,.3 2.4-.9 1.6-.2 2.5-1.2.8-1 .8-.6.8,0 2.4-2.1.8-.4 1.7-2.1 3.2-2.3.8-.2" fill="none" stroke-width="0.68"/>
<path d="M381,170.1l0-38 3.3,.1.8-.4 1.6,.8 3.3,.8.8,.1.8-.2 1.6,.3.8-.4 2.5,.5.8-.3 1.6,.9 2.4-.4.9,.4.8-.6.8,.1 2.4,.7.8-.1.8,.3.8-.4.9-.2.8-.7.8,.1.8-.5 1.6-.3.8,.4.8-.1.9-.4.8,0 1.6-.8.8-.9 1.6-.8 1.7-1 1.6-1.8.8-.4.8-1.1 1.6-1.1.8-.2 1.7-1.6.8-.1.8-.8 1.6-.8 1.6,.2.8,.4.9,1.2 2.4,6.4.8,1.5 1.6,2.3 3.3,2.3.8,.2.8,.1 2.4-.2.8-1 .9-.2.8,.1.8,.3 1.6-.6.8,.3 1.6-1.1 1.7-1.5 1.6-.8 1.6-.5.8-.8.8-.3.9-.7 1.6-.9.8-.8 2.4-1.1.8,0 1.7-.6 1.6,.1.8,.5.8-.2 1.6,.4.8-.1.9,.6.8,0 .8,.3 2.4,1.2 1.6-.1 1.7,.6 4,.6 1.6,.1 2.5,1 .8-.2.8,0 .8,.7 2.5-.4.8,.4.8,0 1.6-.6.8,.4.8,0 2.5,1.1 2.4,1.9.8,.1.8,.5 1.6,2.3 3.3,3.2.8,.3 1.6,1.2.8,.3 1.7,1.4 1.6,.9.8,.2.8,.8 2.5,.8.8,0 .8,.5.8,0 3.2,1.9 2.5,.3 1.6,.4.8-.1 1.6,.7 2.5-.2.8,.2.8,0 .8,.4 1.6,.1 1.7,.5.8,0 .8-.3 1.6,.3 2.4-.1 1.7,.7 1.6,.4.8-.1.8,.3 2.4-.4.9,0 .8,.4 2.4-.3 1.6,.3.8-.2 2.5,.8 3.2,.1 2.5,1 .8,0 .8,.3 2.4-.1.8-.7 1.7,.4 2.4,.1.8,.4 2.4,0 0,16.4" stroke-dasharray="38.00 54.42 9999"/><path d="M381,132.1l3.3,.1.8-.4 1.6,.8 3.3,.8.8,.1.8-.2 1.6,.3.8-.4 2.5,.5.8-.3 1.6,.9 2.4-.4.9,.4.8-.6.8,.1 2.4,.7.8-.1.8,.3.8-.4.9-.2.8-.7.8,.1.8-.5 1.6-.3.8,.4.8-.1.9-.4.8,0 1.6-.8.8-.9 1.6-.8 1.7-1 1.6-1.8.8-.4.8-1.1 1.6-1.1.8-.2 1.7-1.6" fill="none" stroke-width="0.68"/>
<path d="M379.8,171.8l0-38.8.8,.5.8-.4.8,.5.8-.1.8,.5 1.7,.1.8,.5 1.6,.6.8-.2 2.4,.7.9-.5 1.6,.2 2.4-.4.8,.3.8-.2 1.7,.6 2.4,.2.8,.4.8-.5 1.6-.2 1.7,.3.8-.4 2.4,0 1.6-1.2.9,.1.8-.3.8,.1.8-.4.8,.1 2.4-1.1.8-.8.9-.4.8-.7 1.6-.8 3.2-2.4 1.7-1.9 1.6-1.5.8-.9.8-.6 2.5-.3.8,.2.8,1 .8,1.6 3.2,7.8 1.7,1.7 1.6,1.1 2.4,.4 1.6,.7 1.7,.1.8-.4.8,.4.8-.2 3.3-1.7 3.2-1.2 4.1-2.4.8-.6 1.6-.4 1.6-1.5.8-.3.8,.2 1.7-1.1 2.4-.5.8-.6.8,.2 2.5,1.4 2.4,.6 1.6,.1 1.6,.6.9,.6.8,0 .8,.5.8-.2 1.6-.8.8,.2.8,.4.9,.2.8,.6.8,.2.8,.9.8-.4 3.2,.5.9-.2 2.4,.3.8-.2 2.4,.6 1.7,0 2.4,1.5 2.4,2.3 4.1,2.6 4.1,4.4.8,.5 1.6,.4 2.4,1 .8,.6 1.7,.5 1.6,.2 4.1,2.1.8,.8 1.6,.4.8,0 1.6,.7.8-.2 2.5,.5 4,.1 1.7,.3 1.6-.1.8,.4 3.2,.4.9,.2.8-.2 1.6,0 1.6,.6 1.6-.1.9-.3.8,0 1.6,.2 1.6,0 1.6,.7 1.7-.1 1.6,.3.8-.1.8,.4 1.6,.1.8,.3.9-.3.8,0 .8-.4.8,.1.8,.4.8,0 3.3,.9.8-.2 2.4,.5 2.4,.1.9-.2.8,.3 0,16.3" stroke-dasharray="38.80 54.26 9999"/><path d="M379.8,133l.8,.5.8-.4.8,.5.8-.1.8,.5 1.7,.1.8,.5 1.6,.6.8-.2 2.4,.7.9-.5 1.6,.2 2.4-.4.8,.3.8-.2 1.7,.6 2.4,.2.8,.4.8-.5 1.6-.2 1.7,.3.8-.4 2.4,0 1.6-1.2.9,.1.8-.3.8,.1.8-.4.8,.1 2.4-1.1.8-.8.9-.4.8-.7 1.6-.8 3.2-2.4 1.7-1.9 1.6-1.5" fill="none" stroke-width="0.68"/>
<path d="M378.5,173.4l0-38.2.8,.2 2.4-.2 1.7,.4.8-.1 1.6,.9 2.4-.1.9,.2.8-.5 1.6,.2 1.6,.6 3.3,.4.8-.3.8,.2.8-.3 1.6,.6.8-.1.8,.2.9-.4.8,0 .8-.5.8-.3.8,.4.8-.1 2.5,.5.8-.1 1.6-.5 1.6-.8 1.6-1.2.9-.2 2.4-1.5.8,.2 2.4-2 1.7-1 2.4-2.8.8-.3.8-1.1.8-.8.8-.5.9,.2 1.6-.7.8,.4.8,.7.8,1.3 3.3,8.4 1.6,1.9 1.6,1.5 2.4,.2.9,.3 1.6-.1 4.9-.8.8-.4 1.6,0 .8-.3 1.6-1.1.8-.2 1.7-1.3 3.2-1.6 4.9-1.7.8-.1.8-.4.8-.1 2.5,.6 4.8-.3 2.5,1 .8-.2.8,.6 4,1.2 1.7,.1 1.6-.6 1.6,.3 1.6,.5 1.7,.8 2.4-.5 2.4,0 .9,.3 1.6,1 1.6,.3 4.1,2.7 3.2,3.3 3.3,2.6 3.2,1.5 1.6,.3 3.3,1.5.8,.6 3.2,1.2.8,.6.9,.2 1.6,.9 1.6,.2.8-.2 2.5,.6.8,.5 2.4,.5 4.1-.1 3.2,.2 4.9,1.1.8-.2 1.6,.1.8-.1 1.7,.2.8,.6 2.4,.5 1.6,0 .8-.4.9,0 .8,.2.8-.1 3.2,.9.8-.2.8,.3 1.7-.1 1.6,.6 4.9,.1 1.6,.5 1.6,.2 3.3-.2 2.4,.4 0,16.2" stroke-dasharray="38.20 54.09 9999"/><path d="M378.5,135.2l.8,.2 2.4-.2 1.7,.4.8-.1 1.6,.9 2.4-.1.9,.2.8-.5 1.6,.2 1.6,.6 3.3,.4.8-.3.8,.2.8-.3 1.6,.6.8-.1.8,.2.9-.4.8,0 .8-.5.8-.3.8,.4.8-.1 2.5,.5.8-.1 1.6-.5 1.6-.8 1.6-1.2.9-.2 2.4-1.5.8,.2 2.4-2 1.7-1 2.4-2.8.8-.3.8-1.1" fill="none" stroke-width="0.68"/>
<path d="M377.2,175l0-38.1 2.5,1.1 3.2,.1 2.4-.4 2.5-.1.8,.4 2.4,.1 1.7,.6 1.6,.2 1.6,.6 2.4-1.2.9,.2 3.2,.2.8,.4 1.6-.5.8-.4 2.5-.7 4,.1.9-.5.8-.1.8-.8 2.4-1.5.8-.3.8-.8.9,0 .8-.8 1.6-.4.8-.8.8-1.2 1.6-1.6.9-1.1.8-1.2.8-.4.8,.3.8-.6.8,.2.8,.5.8,1 3.3,8 1.6,2 1.6,1.7 1.7,.7 1.6,1.3 1.6-.1.8,.2.8-.6 1.6-.6 1.7,.1.8-.4.8,.1.8-.2 1.6-1.3.8-.4.9,0 1.6-.8 1.6-.4.8-.9 1.6-.9 1.7-.6.8-.1.8,.3.8-.5.8,.2 2.5-.6 1.6,.3.8-.4.8-.1 1.6,.4 2.5-.2.8-.2 1.6,.3.8-.2.8,.2 1.6,1.3.9,.3 1.6,.3.8,.3.8-.1.8,.3.8-.1 2.5,.9.8,0 .8-.3.8,.5 1.6,.2.8-.5 1.7,.7 2.4-.4.8,.4.8,0 1.6,.5.9,.4.8,.9 3.2,2.4.8,.9.8,.2 1.7,1.2.8,.2.8,1 1.6,1.2 1.6,.8 1.7,.4 1.6,.8 1.6,.8 1.6,1.3.8,.1 2.5,1.4 1.6,.1.8,.5 2.4-.3.9,.6 1.6,.2 1.6,.7.8,.1.8-.2 1.7,.5.8-.1 4.8,1 1.7,.1.8-.3 1.6,.3 1.6,0 1.7,.8 1.6-.1 1.6,.3 4.1,.1 3.2-.2 3.3,.6.8-.1.8,.2 1.6,0 .8,.4 3.3,0 .8,.3 1.6,0 2.4,.7.8-.1 1.7,.5 4,.2 0,16.1" stroke-dasharray="38.10 53.88 9999"/><path d="M377.2,136.9l2.5,1.1 3.2,.1 2.4-.4 2.5-.1.8,.4 2.4,.1 1.7,.6 1.6,.2 1.6,.6 2.4-1.2.9,.2 3.2,.2.8,.4 1.6-.5.8-.4 2.5-.7 4,.1.9-.5.8-.1.8-.8 2.4-1.5.8-.3.8-.8.9,0 .8-.8 1.6-.4.8-.8.8-1.2 1.6-1.6.9-1.1" fill="none" stroke-width="0.68"/>
<path d="M376,176.7l0-38.4 3.2,.3.8,.4 2.5,.3.8-.2 4.8,1.3 1.7-.6 3.2-.3.8,.6.8,0 .8,.3 1.7,0 .8,.3.8-.3.8,.3 3.3-1.1 4.8,.6 2.5-1.3 1.6-.5.8-.5.8,.1.8-.6 1.6-.6 3.3-2 2.4-2.7.8-.5.9-.9 1.6-.9.8-.6 1.6-.7 1.6-.4.9,.4.8,.6 3.2,7.8 1.6,2.9 4.1,1.8.8-.2 1.6,1 1.7,.2.8-.4 1.6,.6 2.4-1 .8-.1 1.7-.9 1.6,.3 1.6-.3 3.3-1.8.8-.2.8-.5 3.2-1 1.7-.8 1.6-.1.8-.4.8-.1 1.6,.5 1.7-.4.8,.3 2.4-.7.8,.2 1.6,1.1 1.7,.7.8,.8.8-.4.8,.3.8-.1.8,.4.8-.3.8,0 .9,1 .8-.2 1.6,.1.8,.4 3.3,.2.8,.3.8-.1 2.4,.9 1.6-.1.8,.7 1.7,.1 1.6,.8.8,.8 2.4,1 .9,.5.8,.9 1.6,.9.8,.1.8,.7 3.3,.9.8,.8.8,.2 1.6,1.3 3.3,1.2.8,.1 2.4,1.4 2.4,.4 1.7-.1 2.4,.8 1.6,.1 1.7,.3.8,.6.8-.2 3.2,1.4 2.5-.2.8,.2 1.6-.2 2.4,.5 3.3,.3 2.4,.8.8-.1 1.7,.7 1.6-.2 2.4,.2 1.6-.3 1.7,0 .8,.2 1.6-.1 4.9,1 1.6,.2 2.4-.4 2.5,.3 2.4,.7.8-.3.8,.2.8-.2 1.7,.1 0,16.8" stroke-dasharray="38.40 53.15 9999"/><path d="M376,138.3l3.2,.3.8,.4 2.5,.3.8-.2 4.8,1.3 1.7-.6 3.2-.3.8,.6.8,0 .8,.3 1.7,0 .8,.3.8-.3.8,.3 3.3-1.1 4.8,.6 2.5-1.3 1.6-.5.8-.5.8,.1.8-.6 1.6-.6 3.3-2 2.4-2.7.8-.5.9-.9 1.6-.9" fill="none" stroke-width="0.68"/>
<path d="M374.7,178.3l0-39 .8,.5 3.3,.6.8,.5.8-.1 1.6,.4 1.6,0 .8-.4 1.7,.1.8,.3 1.6,.4.8,.4.8,.1.8,.1.8-.6 1.7,.4.8-.3 1.6,.1 4.9-.5.8,.2 1.6-.2 1.6,.1.8-.2 1.7,0 .8-.5 1.6-.4.8-.5.8-.3.8-.7.9-.2 1.6-1.5 1.6-.2.8-.4.8,0 .8,.3 1.7-1.3.8-1.1.8-.7 1.6-2.4.8,.2 2.5-1 1.6,.3.8-.1 1.6,3.3 1.6,4.6 1.7,2.8 1.6,1.8 3.2,.7 2.5,.4 3.2,.1.8,.3 2.5,.2.8-.4.8-.1.8-.5 1.6-.3 2.5-1.3 1.6-.4.8-.4.8-.1.8-.4 3.3-.4.8-.4.8,.1 2.4-1.5.8-.3.9,.4 2.4,0 1.6,.6.8-.4.8,0 .9,.5 1.6,.4.8,0 .8,.3 1.6-.1.8,.4 1.7,.1 2.4,.6 1.6-.2 1.6,.4.9-.1 3.2,.3.8-.2.8,.4 2.5,.6.8,0 .8,.4 1.6-.4 2.5,1 .8,0 1.6,.9.8-.2 1.6,.7 3.3,2.1.8,.3 1.6,.6 1.6,.1.8,.4 1.7,1.1.8,.3.8,.7 1.6,1 .8,0 2.5,1.1.8,.6 3.2,1.3.8,.5.8,.2 1.7,.9 1.6,.7 2.4,.5 1.7-.4 2.4,.3.8-.1 1.6,1 1.7,.2 1.6,.6 2.4,0 1.6,.2 2.5,0 .8,.3 1.6-.2 1.6,.1 2.5-.1.8,.2 1.6,0 1.6,.4 1.6,0 2.5,.6.8-.1 2.4,.3 1.7-.3 4.8,1.1 1.7-.2 2.4,.5 0,16.6" stroke-dasharray="39.00 53.78 9999"/><path d="M374.7,139.3l.8,.5 3.3,.6.8,.5.8-.1 1.6,.4 1.6,0 .8-.4 1.7,.1.8,.3 1.6,.4.8,.4.8,.1.8,.1.8-.6 1.7,.4.8-.3 1.6,.1 4.9-.5.8,.2 1.6-.2 1.6,.1.8-.2 1.7,0 .8-.5 1.6-.4.8-.5.8-.3.8-.7.9-.2 1.6-1.5 1.6-.2.8-.4.8,0 .8,.3 1.7-1.3.8-1.1.8-.7 1.6-2.4" fill="none" stroke-width="0.68"/>
<path d="M373.4,179.9l0-38.6 1.6,.1.9-.2.8,.3.8-.3.8,.3.8-.1.8,.5.8,0 1.7,1 1.6,.5.8-.2.8,.4 1.6-.4 1.6,0 .9-.2.8,.1.8,.5 2.4-.1.8,.3 2.5-.8 2.4,.3 1.6-.5.8,.1 1.7-.6.8-.6.8,0 .8,.2 2.4,0 1.7,.2.8-.6.8-.2 2.4-1.9 2.5-1.4.8-.2 4.8-4.7 1.7-.3.8-.5.8-.1 2.4,.6.8,1.2 1.7,4.2 1.6,3.3 2.4,3.4.8,.7 3.3,1.4 2.4,0 1.6-.7 2.5-.5 2.4-.2 1.6-.5.8,0 .9-.3 3.2-.3 2.4-.4 2.5-1.2.8,.1.8-.3.8-.1 2.5,.3.8-.2 1.6,0 .8-.3.8,.1.8-.2.8,.3 1.7-.2 2.4-.1.8-.4.8,.3.8,.1 3.3,1.3 1.6,.1 2.4-.1.9-.2.8,.2 2.4-1 3.2-.1 1.7,.3 1.6-.7.8-.1.8,.3 2.5,0 .8,.4 2.4-.5 1.6,.3.8-.1.9,.5.8,.2 1.6,.8 2.4,0 .8,.6.8-.1.9,.3.8,.4 1.6,1.6.8,.4.8,.7 1.6,1.8 4.1,2.6 2.4,1.3 2.5,1.8 2.4,1.2 5.7,2.3 2.4,.5 3.3-.1 4,.9 3.3,.3.8,.3.8,0 2.4,.6 1.7-.4.8,.2 2.4,0 1.6,.7.9-.3 1.6,.1.8-.2.8,.2.8-.1.8,.3 1.7,0 .8,.3.8-.1.8,.2 4.9,0 4,.7 0,17" stroke-dasharray="38.60 53.54 9999"/><path d="M373.4,141.3l1.6,.1.9-.2.8,.3.8-.3.8,.3.8-.1.8,.5.8,0 1.7,1 1.6,.5.8-.2.8,.4 1.6-.4 1.6,0 .9-.2.8,.1.8,.5 2.4-.1.8,.3 2.5-.8 2.4,.3 1.6-.5.8,.1 1.7-.6.8-.6.8,0 .8,.2 2.4,0 1.7,.2.8-.6.8-.2 2.4-1.9 2.5-1.4.8-.2 4.8-4.7" fill="none" stroke-width="0.68"/>
<path d="M372.2,181.6l0-39.3 1.6-.1.8,.4.8,0 .8,.4.8-.1.8,.7.8-.1.9,.1 1.6,.6.8-.1.8-.4.8,.4.8,.1 1.7-.4 1.6,.6 2.4,.3.8-.3 1.7,.5 1.6-.2.8,.4 3.2-1 2.5,.3.8,.4.8-.5 1.6,.4.8-.1.8-.2.9-.4.8,.2.8-.2 1.6-1.5.8,0 1.6-.6 2.5-1.4 2.4-1.9 1.6-.6.8-.7.9-.3.8-1 2.4-1.3 1.6,.1.8-.3.9,.4.8,1.3 3.2,7.3 1.6,2.4.9,.8.8,.4.8-.1.8,.8 1.6,1 .8-.2 1.6,.5 2.5-1 1.6,.2 3.3-.2.8-.4 1.6-.2 2.4-.6 1.7,.1 1.6-.5.8,.1.8-.3 2.4-.6.8,.3.9-.4.8,.2.8-.6 4-.7.9,.5.8,.1.8-.2 1.6,0 .8-.2 2.4-.3 2.5,.8.8-.2 1.6,.2 1.6-.8 1.7-.1 2.4-.7 2.4,.5.9-.3 1.6,.1 2.4-1.6.8,.1 2.5-.6 1.6-.9 1.6-.3.8-.6 1.6-.4 1.7,.2.8-.4 2.4,1.8.8,.2.8-.3 1.7,.5.8-.6.8-.1.8,.4.8,.7.8,.2.8,.6 1.7,2 2.4,2.4.8,1 1.6,2.7 1.7,1.4.8,1.2.8,.8 1.6,.7 1.6,1.2 2.5,.9 2.4,1.7 1.6,.5.8,.6.9,.3.8,0 2.4,1 1.6-.2 1.6,.6.9,0 2.4,.6 1.6-.3 2.5,.2 1.6-.3 2.4,0 1.6,.5.8,.4 1.7,.2.8,.3.8-.3 2.4,.3 4.1-.1 1.6,.4.8,0 .8,.7 1.7,.1.8-.2 1.6,.8 1.6-.3 1.7,.5 0,16.5" stroke-dasharray="39.30 53.14 9999"/><path d="M372.2,142.3l1.6-.1.8,.4.8,0 .8,.4.8-.1.8,.7.8-.1.9,.1 1.6,.6.8-.1.8-.4.8,.4.8,.1 1.7-.4 1.6,.6 2.4,.3.8-.3 1.7,.5 1.6-.2.8,.4 3.2-1 2.5,.3.8,.4.8-.5 1.6,.4.8-.1.8-.2.9-.4.8,.2.8-.2 1.6-1.5.8,0 1.6-.6 2.5-1.4 2.4-1.9 1.6-.6.8-.7.9-.3.8-1" fill="none" stroke-width="0.68"/>
<path d="M370.9,183.2l0-39.4 1.6,.3.8-.1 3.3,1.5 1.6,.3.8-.2.8,.3.8-.3 1.6,.4 2.5-.2.8,.4.8-.3 3.3,.8.8-.1.8,.2 2.4-1.1 2.5-.6 2.4,.6.8-.1 3.2,.6.9-.6.8-.1 3.2-.8.8,0 4.1-2.3 1.6-.5 1.6-1.1 1.7-1.7 2.4-1.9 1.6-1 1.6-.7.9-.2 1.6,.2.8,1.5 2.4,6.1 2.5,4.4 1.6,1.5 2.4,1.2 4.1,1 1.6,0 .8,.4.8-.2.8,.1.9-.5.8,0 2.4-.7.8-.6 1.6,.1.9-.1.8-.4 1.6,.1 1.6-.2 4.1-.7.8-.4 2.4,.4 1.6-.2.9,.2 2.4-.7 5.7-.2 2.4-.2 3.3,0 4.8-2.2.8,.2.9-.6.8,0 2.4-1.1.8-.7 1.6-.3 1.7-.8.8-.6 1.6-.6 1.6-1.1 2.5-.3.8-.4.8-.8 1.6-.5.8,.2.8-.5.8-.2.9,.6.8,.2 1.6-.2.8,.5 1.6,.6 3.3,2.6.8,1.4 2.4,2.7 1.7,2.7.8,.6 4.8,7 1.7,1.2 3.2,1.9 2.4,1.8 2.5,.5 1.6,.6.8,.1 2.5,1.1 4-.2 4.9,.7 2.4-.5 1.6,0 2.5,.6.8,.5 1.6,.3 6.5,0 1.6,.4.8,.5.9,0 1.6,.7.8,.1.8,0 .8-.4.8,.3.8,0 .9-.3 1.6,.3 0,17.2" stroke-dasharray="39.40 52.67 9999"/><path d="M370.9,143.8l1.6,.3.8-.1 3.3,1.5 1.6,.3.8-.2.8,.3.8-.3 1.6,.4 2.5-.2.8,.4.8-.3 3.3,.8.8-.1.8,.2 2.4-1.1 2.5-.6 2.4,.6.8-.1 3.2,.6.9-.6.8-.1 3.2-.8.8,0 4.1-2.3 1.6-.5 1.6-1.1 1.7-1.7 2.4-1.9" fill="none" stroke-width="0.68"/>
<path d="M369.6,184.8l0-39.2 2.4,.2.9-.2.8,.1 1.6,.6 1.6,0 .8,.4 1.7,.4 1.6-.4.8,.3.8-.1 1.6,.4 1.6,1 .9-.3 2.4,.2 2.4-.2 1.7-.4 1.6,0 .8-.3 4.1,.1 3.2-.8 1.6-.9 1.7,.5.8-.4.8,.1 1.6-.3.8-.7 2.4-1.5 3.3-2.7.8-.3.8-1 .8-.1.8-.8 2.5-.7.8,.2.8,0 .8,.7.8,1.4 1.6,4.4.9,1.6 1.6,2.6 1.6,1.5 1.6,.3.8,.6.9,.1 2.4,.8.8,.5 3.3,0 1.6-.3.8,.1.8,.5 1.6-.2.8,.4 1.7,.2 1.6-.4 2.4-.1 3.3-.3 5.7-1.6 2.4-.4.8,.1 1.6-.1.8,.1.8-.3.9,.3.8-.4 1.6,.3.8-.4.8-.1.8-.5 1.7,0 4-.6 4.9-2 1.6-1.3 3.3-1.8 1.6-.5 4.9-3.2 5.6-2 .9,.2.8-.5 2.4-.3.8-.3.8-.8.8,.1.8-.3 1.7,.6.8,.8 1.6,2.4.8,2 .8,1 2.5,4.4 1.6,1.8.8,1.6 2.4,3.5 3.3,3.5 2.4,2.1 2.5,1.5 1.6,.7.8,.6.8,.3 4.1,.2 1.6,.4 1.6,.7 1.6,.1.9-.2 2.4,.3.8,.4 1.6-.1.8,.3.8-.2.9,.2.8-.2 1.6,.6.8-.2.8,.3.8-.1 1.7,.3.8-.1 1.6,.5 2.4,.1.8,.3 2.5,.1 1.6,.4 1.6,.2 1.7,.4 4,.3 0,16.9" stroke-dasharray="39.20 52.33 9999"/><path d="M369.6,145.6l2.4,.2.9-.2.8,.1 1.6,.6 1.6,0 .8,.4 1.7,.4 1.6-.4.8,.3.8-.1 1.6,.4 1.6,1 .9-.3 2.4,.2 2.4-.2 1.7-.4 1.6,0 .8-.3 4.1,.1 3.2-.8 1.6-.9 1.7,.5.8-.4.8,.1 1.6-.3.8-.7 2.4-1.5 3.3-2.7.8-.3.8-1 .8-.1" fill="none" stroke-width="0.68"/>
<path d="M368.3,186.4l0-39 .9,.4 4,.6 4.9-.3 2.4,.2 3.3,.7 1.6,.1.8-.3.8,.1 2.5-.4.8,.1.8,.4.8-.3 2.4,.4 1.6-.2.9,.6.8-.1 1.6-.4 1.6,0 .8-.7 2.5,.1 1.6-.8.8-.2 2.4-2.2 2.5-1.4.8-.1 1.6-.7.8-.1 2.5-1.6 1.6-.8.8-.6 1.6-.7.8,0 .8,.3 1.7,3.4 1.6,4.6.8,1.3 2.4,3.1 1.7,.8 1.6,1.2 1.6,.3 1.6,.8.8-.1 2.5,.2.8-.6 1.6,.2 1.6-.3 1.7,.1 2.4-.4.8,.4.8,.2 1.7-.4 1.6,.1 1.6-.5.8-.1 1.6,.1 2.5-.3 1.6,.3.8-.2 1.6,.1 1.7-.1.8-.4 5.7-.8 2.4-.6.8-.4 4.1-1.3.8-.1.8-.4 3.2-.9.8-.5.9-.3 2.4-1.8 2.4-2.3 1.7-.6.8-.7.8-.3 1.6,0 1.6-1.8.8-.4.8-.9.9-.5.8-.8 2.4-.8.8,0 .8-.5 1.7,.3 1.6,.8.8,.2 3.2,3 .9,1.3.8,.7.8,1.2 2.4,4.8.8,1.2.8,2 .8,1.4 1.7,1.9 2.4,2.6 3.3,3 4,2.8 5.7,1.9 1.6-.2 1.6,.3 1.7-.3 1.6,.7.8-.2.8,0 3.3,.5.8,.4.8,.1 3.2,.1 3.3,.9 4-.5 4.9,1.2 1.6-.2 2.5,.2 1.6,0 2.4,.5 0,17.2" stroke-dasharray="39.00 51.88 9999"/><path d="M368.3,147.4l.9,.4 4,.6 4.9-.3 2.4,.2 3.3,.7 1.6,.1.8-.3.8,.1 2.5-.4.8,.1.8,.4.8-.3 2.4,.4 1.6-.2.9,.6.8-.1 1.6-.4 1.6,0 .8-.7 2.5,.1 1.6-.8.8-.2 2.4-2.2 2.5-1.4.8-.1 1.6-.7.8-.1 2.5-1.6" fill="none" stroke-width="0.68"/>
<path d="M367.1,188.1l0-39.4 1.6-.1 1.6,.8.8,.2.8,0 1.7,.5.8-.5.8-.1.8,.5 3.3,.2 1.6-.5 3.2,.5.8,.6.8-.3 2.5,.4.8,.3.8-.3.8,.2 1.6-.6.9,0 2.4-.4 1.6,0 .8,.3.8-.4 2.5-.2.8,.1.8-.4 2.4-.5.8-.3 1.7-1.4.8-.2 1.6-1 2.4-1 1.7-1.2 1.6-1.6 1.6-1.9 1.6-1.2 1.7,.3.8,.5 2.4,6.3 2.4,4.8.9,.9 1.6,1.1.8,.9 1.6,1.2 1.6,.7.9,.7.8-.1.8,.2.8-.6 1.6,.1.8-.2.8,.3.9-.1.8,.5 2.4-.1.8,.3 2.4-.4.9,.4.8,.1 1.6-.6.8,0 .8,.2 1.6-.6 2.5,.3.8-.3 1.6,.1 1.6-.7 2.5-.3 1.6,.2 1.6,.7 2.5-.2 1.6-.3.8-.5 2.4-.8 1.7-1 1.6-.3 1.6-.7 2.4-.3 2.5-1.3.8-.2 2.4-1.4.8-.6 3.3-4 .8-.7 1.6-.6 3.3-.7.8-.7 1.6-.7 1.6-1.8 1.7-.3.8,.1.8-.4 1.6,1.1.8-.5 1.6,.7.8,.6 4.1,5.3 5.7,9.8 4.1,5.1.8,.5 2.4,2.2 1.6,.7 1.6,1.1 1.7,.3.8,.3.8,0 1.6,.5.8,.4 2.5,.6 2.4-.2.8,.4 3.3,.8 1.6-.2 3.2,.1.8,.4 4.9,.2 1.6,.4 2.5,.3 1.6-.3 2.4,.7 1.7,0 1.6,.2.8-.1 1.6,.2 1.6,0 .9-.2.8,.3 0,17.8" stroke-dasharray="39.40 52.39 9999"/><path d="M367.1,148.7l1.6-.1 1.6,.8.8,.2.8,0 1.7,.5.8-.5.8-.1.8,.5 3.3,.2 1.6-.5 3.2,.5.8,.6.8-.3 2.5,.4.8,.3.8-.3.8,.2 1.6-.6.9,0 2.4-.4 1.6,0 .8,.3.8-.4 2.5-.2.8,.1.8-.4 2.4-.5.8-.3 1.7-1.4.8-.2 1.6-1 2.4-1 1.7-1.2 1.6-1.6" fill="none" stroke-width="0.68"/>
<path d="M365.8,189.7l0-39.5 1.6,.5.8-.1.8,.2 3.3-.5 3.2,.1 3.3,1.1 3.2,.7 7.3,.1 2.5-.2 1.6-.4 1.6,.1 1.7-.3.8,.1 2.4-1.1 1.6-.3 1.7,.1 1.6-.5 1.6-.1.8-.6.8-.3 1.6-1.2 3.3-3.1 1.6-.9.8-.8 1.7-.8.8-.7 1.6-.4.8,.7.8,1.4 1.6,4.7 1.7,3.8 3.2,3.6 3.3,2.4 1.6,.6 6.5,.3 1.6,.3 2.4,.2 1.7,.4 1.6-.1.8-.4.8,.3 2.4-1 .9,0 .8,.2.8-.3 2.4,.1 3.3-.6 2.4,.2 3.3-.3.8,.4.8-.3.8,.3 1.6-.2.8,.1 2.5-1.2 2.4-.5.8-.5.8,0 2.5-1 .8-.6.8-.1.8-.7.8-.3 1.6-1.6 3.3-2.1 1.6-.7.8-.7.8-.3 1.6-1.3.9-.4 4.8-4.9 2.5-.8 1.6,.1 3.2,.8.9,.4.8,.6.8,.3 2.4,3 4.9,8.6 2.4,3.7 1.6,1.9 1.7,2.4 1.6,1.6.8,.4.8,.9 1.6,.7 2.5,1.3 2.4,.6 2.4,.2.9,.4.8,.1.8,.4 1.6,.2.8,.4 6.5-.1 2.5,.6.8,.4 1.6,0 2.4,.5.8-.1 1.7,.8 4-.2 1.6,.6 1.7,0 .8,.3 1.6-.1.8-.3 3.3,.8 2.4,.2 0,17.3" stroke-dasharray="39.50 51.66 9999"/><path d="M365.8,150.2l1.6,.5.8-.1.8,.2 3.3-.5 3.2,.1 3.3,1.1 3.2,.7 7.3,.1 2.5-.2 1.6-.4 1.6,.1 1.7-.3.8,.1 2.4-1.1 1.6-.3 1.7,.1 1.6-.5 1.6-.1.8-.6.8-.3 1.6-1.2 3.3-3.1 1.6-.9" fill="none" stroke-width="0.68"/>
<path d="M364.5,191.3l0-40.1.8,.3.9-.2 1.6,1 2.4-.3 1.6,.2.8-.3.9,.4 1.6,0 .8,.4.8-.1.8,.4 2.5,.5.8-.3 1.6,.4 2.4-.6 2.5,.2.8,.3.8,0 .8,.2 1.6,.2.8-.1.9-.4.8,0 .8-.2.8,.2 1.6-.6.8,.2 1.6-.2 4.9-1.3 2.5-1.5 2.4-2.6 3.2-1.7.8-.7 1.7-.6.8-.8.8-.3 1.6,.5.8,0 .8,1.5 1.7,4.5 2.4,5 .8,.6 1.6,1.9 1.7,.9.8,.1 1.6,1 .8,0 .8,.4.8,.1 1.7,.7.8,0 .8,.3.8,.1 4.9-.2.8,.5 2.4-.5 1.6-.1.9-.3.8,.5 1.6,.2 4-.2.9-.4.8-.1.8,.2 2.4-.1.8,.6 2.5-.7.8,0 .8,.1 3.2-.6 2.5-1.3.8-.4.8,0 .8-.7.8,.1 1.7-.5.8,0 .8-.8.8,.2.8-.6 1.6-.5.8-.7.8-.1.9-.8.8-.4 3.2-2.5 3.3-2 .8-1 1.6-1 2.4-2.7.8,.1 1.7-1.4.8-.4.8,.1 1.6-.7.8-.1 1.7,.3.8-.5.8,.1 2.4,1.5.8,1.1 5.7,10.6 4.1,6.5 4,4.3 1.7,1 .8,.9 2.4,.7 1.6,.8 1.7,.1 1.6,.7 2.4,.3.8,.4 4.1,.6 5.7,.3.8,.3 4.9-.2 2.4,.3 1.6,.7.8-.3.8,.4 3.3,.4.8,.3.8-.3 2.4,.3 2.5,.6.8,.4 1.6,.1.8-.2 0,17.1" stroke-dasharray="40.10 52.45 9999"/><path d="M364.5,151.2l.8,.3.9-.2 1.6,1 2.4-.3 1.6,.2.8-.3.9,.4 1.6,0 .8,.4.8-.1.8,.4 2.5,.5.8-.3 1.6,.4 2.4-.6 2.5,.2.8,.3.8,0 .8,.2 1.6,.2.8-.1.9-.4.8,0 .8-.2.8,.2 1.6-.6.8,.2 1.6-.2 4.9-1.3 2.5-1.5 2.4-2.6 3.2-1.7.8-.7" fill="none" stroke-width="0.68"/>
<path d="M363.3,193l0-40.2 2.4,.1 5.7,1.2.8-.1 2.4,.7 1.7-.7.8,.2 2.4,0 1.6,.5.8-.3 1.7,.6 1.6-.3 1.6,1.1.8-.2.8,.1 1.7-.2 1.6-1.1 1.6-.7 2.4,.9.9-.1 2.4-.8 1.6-1.1.8,0 .8,.2 2.5-.5 1.6-1.3.8-1 3.3-1.9 1.6-1.4 1.6-1.2 2.4-1 1.7,1.2.8,1 2.4,6.4.8,1.6 1.6,2.6 3.3,2.2.8,.2 2.4,1.4 1.7,.2.8,.6 1.6,.2 1.6,.7.8,.2.9-.1 1.6,.6 2.4-.7 1.6,0 .8-.3 1.7,.3 1.6,0 1.6,.5 1.6-.1.9,.3.8-.1 2.4-.5 1.6,.2 4.1-.2 3.2-.3.8-.2 4.9-2.1 1.6,.2 1.7-.7 1.6,0 1.6-1.2 2.5-.9.8-1.1 1.6-1 .8-.8.8-.4.8-.7.8-.1 2.5-2.2 3.2-2.5 1.6-.8 1.7-1.3 1.6-.9.8,0 1.6-1.1.8,0 .9-.5.8-.1.8-.8.8,.2 1.6,.1.8,.4.8,.7.8,1 .9,.7 4,6.8 3.3,6 3.2,4.4 1.6,1.1 1.7,1.7 1.6,1.2.8,1 .8,.5 1.6,.4 5.7,2 1.6-.2 1.7,.4 2.4,.7 1.6,.8 1.7-.3 1.6,0 1.6-.4.8,.3 1.6,0 1.7,.6 3.2,.9.8-.5.8-.1.8,.4 1.7-.4 1.6,.7 2.4,.3 1.7-.3 4.8,.7 1.6,.1.9-.3 0,18" stroke-dasharray="40.20 52.92 9999"/><path d="M363.3,152.8l2.4,.1 5.7,1.2.8-.1 2.4,.7 1.7-.7.8,.2 2.4,0 1.6,.5.8-.3 1.7,.6 1.6-.3 1.6,1.1.8-.2.8,.1 1.7-.2 1.6-1.1 1.6-.7 2.4,.9.9-.1 2.4-.8 1.6-1.1.8,0 .8,.2 2.5-.5 1.6-1.3.8-1 3.3-1.9 1.6-1.4" fill="none" stroke-width="0.68"/>
<path d="M362,194.6l0-40.7.8-.2.8,.4 1.6,.4.8-.1 2.5,1.4 2.4-.4 2.5,.3 2.4,1.1 1.6,.4 1.6-.6 1.7,.3.8-.3 1.6-.3.8,.5 1.6-.4.9,.4 4-.1.8-.7.8,0 3.3-.8 1.6,.1 2.4-1.1.9,.2.8-.4.8-.7.8-.3.8-.1.8-.6.8-1 2.5-1.2 1.6-1.2.8,0 .8-.9.8-.7 3.3-1.7 1.6,.5.8,1.5 1.6,5.1 2.5,5.4.8,.8.8,1.2.8,.2.8,.7 2.5,.9.8,0 1.6,.7 1.6,.2 1.6,.4 3.3,.4 2.4,1 2.5,.4 1.6,.1.8-.2 2.4,.3 1.6-.5.9,0 2.4-.5.8,.5.8-.3 3.3,.4.8-.2.8,.4.8-.2.8,.3.8,0 3.3-.4 1.6-.9.8,.2.8,0 2.5-1.3 2.4-1.8 1.6-.7.8,.1 3.3-1.6.8-.2.8-.9 3.3-1.8 1.6-1.4.8-.3 3.2-2.7.8-.3 1.7-1.9.8-.3 1.6-1.5 2.4-1 .9-.6.8-.2 1.6-.4 1.6-.2.8,.2.8,.2 1.7,1.5.8,.5 3.2,5 .8,1.7 1.7,2.2 2.4,3.9.8,.7 1.6,2.9 2.5,3.1 2.4,2.5 3.3,1.4 1.6,.2 4,1.5 2.5,1.1 1.6,.5 3.2,.2 1.7-.4 1.6,.2 1.6-.3 1.6,.6 1.7,.1.8-.3 1.6,.4.8-.1.8,.2 1.7,.8 1.6-.1.8,.2 1.6-.2 4.9,.7 1.6,0 1.6,.3 1.7-.1 1.6,.5.8,0 0,17.8" stroke-dasharray="40.70 52.88 9999"/><path d="M362,153.9l.8-.2.8,.4 1.6,.4.8-.1 2.5,1.4 2.4-.4 2.5,.3 2.4,1.1 1.6,.4 1.6-.6 1.7,.3.8-.3 1.6-.3.8,.5 1.6-.4.9,.4 4-.1.8-.7.8,0 3.3-.8 1.6,.1 2.4-1.1.9,.2.8-.4.8-.7.8-.3.8-.1.8-.6.8-1 2.5-1.2 1.6-1.2.8,0 .8-.9" fill="none" stroke-width="0.68"/>
<path d="M360.7,196.2l0-39 2.5-.3.8,.2.8-.2.8,.1.8,.4.8,.1.8,.4 1.7,.2 3.2-.5.8-.3.8,.4 1.6,.1 2.5,.7.8-.2 3.2-.1 1.7,.2 1.6-.4 1.6-.6.8,.1.8-.5.9,.1 1.6,.9.8-.1 2.4-.5.8-.3.8-1 .9,.2 1.6-.4 1.6-1.2.8-.3.8-.8 1.7-1.1 2.4-1 3.2-2.7.9-.8.8-.4.8-.1.8-.7.8-.4.8,0 .8,.5.8,1.2 2.5,7.5 1.6,3.5 1.6,2.6 4.1,2.5 1.6,.3 1.6,.6 1.7-.1.8,.1.8,.5.8,0 2.4,.7 1.6-.4.9,.4.8-.2.8,.1.8,.3 2.4,.1.8,.3 1.7-.3.8,.3 2.4,.1.8,.2 2.5-.9 1.6-.4.8-.1 1.6,.6.8,.1.8-.2 1.7,.1 1.6-.1 4.9-1.8 1.6,.4 1.6-.3.8-.4 2.5-2.1 2.4-1.3 2.4-.7 2.5-2 .8-1.1 2.4-2.3 2.5-1 .8-.6.8-.9 1.6-1.1.8-1 1.6-1.2.9-.3.8-.6 1.6-.3 1.6-1.1 1.6-.3 1.7-.8 2.4,1.8.8,1 3.3,6 4.8,7 2.5,4.4 1.6,2.1.8,1 1.6,1.1 5.7,3.3.8,.3 4.9,.9.8,.3.8,.6.8-.2.8,.4.9,0 2.4-.6 2.4,.2 3.3,1.4 3.2,.1 1.6-.3.9,.2 2.4,.1 1.6,.4.8-.2 3.3,1 .8-.3 4,.4.9,.4.8,.1.8,.3 2.4-.3 0,17.8" stroke-dasharray="39.00 52.82 9999"/><path d="M360.7,157.2l2.5-.3.8,.2.8-.2.8,.1.8,.4.8,.1.8,.4 1.7,.2 3.2-.5.8-.3.8,.4 1.6,.1 2.5,.7.8-.2 3.2-.1 1.7,.2 1.6-.4 1.6-.6.8,.1.8-.5.9,.1 1.6,.9.8-.1 2.4-.5.8-.3.8-1 .9,.2 1.6-.4 1.6-1.2.8-.3.8-.8 1.7-1.1 2.4-1 3.2-2.7" fill="none" stroke-width="0.68"/>
<path d="M359.5,197.8l0-40.6.8,.1 1.6,.6 3.2,.5.8,.6.9-.1.8,.5 2.4,0 .8-.4.8,.3.8-.5.9,.2 2.4-.1.8-.3.8,.4.8-.1 1.7,.1 1.6,.3.8-.3.8,.1.8,.2 3.3,.2.8,.4.8-.4 1.6,.5 1.6-.6 3.3-1.9.8-.1.8-.4 1.6-.4.8-.3 1.7-1.1.8-.1.8-.8 1.6-.9 1.6-.6 2.5-2.4 2.4-2.2 1.6-.6 1.7,.2.8,1.7 2.4,7.2 1.6,3.9 1.7,2.2 2.4,2.3 1.6,.2.8,.4 2.5,.1 3.2,2.1.8,0 .8,.2.8,.1 1.7-.6.8,0 .8,.2.8-.2.8,.2 1.6,.8.8-.3 1.7,0 .8-.3.8,.2.8-.1.8,.6.8,0 1.7,.8 1.6-.1 2.4-.6.8-.4.8-.1.9-.5.8-.1.8,.2 4-.1 1.7-.8.8,0 1.6-.6 2.4-.4 1.7-1 3.2-.9 2.4-.9.9-.6 1.6-1.9 1.6-.9 1.6-1.6.8-.4.9-.7.8-1.1.8-.6.8-1 1.6-1.3 1.6-.7 1.7-1.8.8-.4 1.6-1.5 1.6-.8.8-.2.8-.4 3.3,.1 1.6,1.1 1.6,1.5 1.7,1.9 1.6,2.7 4.9,9.3 2.4,3.1 1.6,1.4 1.6,2 1.7,1.4 2.4,1.6 2.4,1.3 1.7,.7 2.4,.5 4.1,.2 4,1 .8,0 .8,.2 2.5-.2 1.6,.4.8-.2 2.5,.8.8,.2.8-.1.8,.4 3.2-.4.8,.2.9-.1.8,.2 2.4,.7.8-.3 1.6,.4 2.5,0 .8,.5 1.6-.4 2.4,.5 0,17.9" stroke-dasharray="40.60 52.85 9999"/><path d="M359.5,157.2l.8,.1 1.6,.6 3.2,.5.8,.6.9-.1.8,.5 2.4,0 .8-.4.8,.3.8-.5.9,.2 2.4-.1.8-.3.8,.4.8-.1 1.7,.1 1.6,.3.8-.3.8,.1.8,.2 3.3,.2.8,.4.8-.4 1.6,.5 1.6-.6 3.3-1.9.8-.1.8-.4 1.6-.4.8-.3 1.7-1.1.8-.1.8-.8 1.6-.9 1.6-.6 2.5-2.4" fill="none" stroke-width="0.68"/>
<path d="M358.2,199.5l0-40.8.8,.4 2.4,.4.8,.3 4.9,0 .8,.6.8-.3 2.5,.4 1.6-.1.8,.4.8-.2.8,.4.8-.1 1.7,.6.8-.2.8,.2 2.4-.4.8-.3.9,.2 3.2-.1 2.4-.3 1.7,.3 1.6-.1.8-1.1 1.6-.3 2.5-1 .8,.3.8-1 4-3.6 4.1-2.6 1.6-.8.8-1 1.7-.4.8-.3.8,.3.8,1.7 1.6,5.5 1.6,4.2 1.7,3 2.4,1.8 1.6,.9 2.5,.9 3.2,.8 2.4,1.5.9,.1 1.6-.2.8,.1.8,0 .8-.4.8,0 1.7,.5 1.6,.2 1.6,.7 1.6,.2 1.7-.7.8,.1.8-.2 1.6-.1 3.2,.5 1.7-.2.8-.3.8,.1 1.6-.2.8,.5.8-.1.9,.3.8-.8.8-.4.8,0 3.2-.8 1.7-.7 2.4-1.5.8,.2 3.3-1 .8-.6.8-1 3.2-3.1.8-.7.9-.3 3.2-3.7.8-.3.8-.8 1.7-.7.8-1 2.4-1.5.8-.7 2.4-1 .9-.8 3.2-1 .8,0 .8,.9.8,.4 1.7,1.9.8,1.4 2.4,2.9 1.6,2.6 3.3,6.5 1.6,2.5.8,1 4.1,3.5 4,3.2 1.7,.9 2.4,.8 1.6,.2 3.3,1.1.8,.1.8,.6 1.6-.1 2.5,.4.8-.2.8,.1.8,.4 3.2,.2 1.7-.4 2.4,.1.8-.2.8,.4.8-.1 1.7,.6 3.2,.7.8-.4 1.6-.2 1.7,.3 1.6,.7.8-.1 1.6,.3 2.5,0 .8,.4 0,17.8" stroke-dasharray="40.80 53.15 9999"/><path d="M358.2,158.7l.8,.4 2.4,.4.8,.3 4.9,0 .8,.6.8-.3 2.5,.4 1.6-.1.8,.4.8-.2.8,.4.8-.1 1.7,.6.8-.2.8,.2 2.4-.4.8-.3.9,.2 3.2-.1 2.4-.3 1.7,.3 1.6-.1.8-1.1 1.6-.3 2.5-1 .8,.3.8-1 4-3.6 4.1-2.6" fill="none" stroke-width="0.68"/>
<path d="M356.9,201.1l0-40.2 2.4,.1 6.5,1.3 1.7-.2 2.4,.6.8-.1 1.6,.3 2.5-.3.8,.2 1.6-.7 1.6,.3 1.7-.2 1.6,.6.8-.2 1.6,.3 1.6-.5 1.7,.1 2.4-.9 3.3-.5.8-.6.8-.1 3.2-2.5.8-.2.8-.8.9-.4.8-.8 4-2.9.8-.4.9-.8.8-.4 2.4-.6.8,.8.8,1.7 3.3,8.6.8,1.1.8,1.6 1.6,1.8 4.1,2.4 3.2,.7 1.7,0 1.6,.7.8,.8.8,.2 1.6,.7.8-.1.9,.2.8-.1 1.6,.3 1.6,0 2.4-.3.9-.4 1.6,.3 3.2,1.1 2.5-.3 1.6-.6 1.6,0 3.3-.7 2.4-.1.8-.3.8,0 .8,.3 1.7,.1 1.6-.3 1.6-.6 2.4-1.9 3.3-2 .8-.2 1.6-.9 2.5-1.7 4.8-5.5 1.7-1.1 1.6-1.4 2.4-1.5.8-.8 1.7-.8.8-.9.8-.3 1.6-1.1 1.6-.2.8,.4 1.7,.1 3.2,2.9.8,1 2.5,3.8 1.6,3.7 2.4,4.4 1.6,2.4 3.3,4 3.2,2.6 1.7,.6 1.6,1.3 1.6,.9 1.6,.6 5.7,.7 2.5,.5 6.5,.1 1.6,.6 1.6,.2.8,.2 2.4,.2 1.7,.7 2.4,.2 2.4-.1 8.2,1.5 2.4-.3.8,.2 0,17.8" stroke-dasharray="40.20 52.40 9999"/><path d="M356.9,160.9l2.4,.1 6.5,1.3 1.7-.2 2.4,.6.8-.1 1.6,.3 2.5-.3.8,.2 1.6-.7 1.6,.3 1.7-.2 1.6,.6.8-.2 1.6,.3 1.6-.5 1.7,.1 2.4-.9 3.3-.5.8-.6.8-.1 3.2-2.5.8-.2.8-.8.9-.4.8-.8 4-2.9" fill="none" stroke-width="0.68"/>
<path d="M355.6,202.7l0-41.1 2.5,0 1.6,1 2.4,0 .8,.4 2.5,.3 1.6,.4.8-.1 2.5,.3 1.6-.1.8-.2 1.6-.1.8-.5 1.7,.7.8-.1.8,.4.8-.1.8,.5.8,.1.8-.5.8,.2.8-.4.9,.3 1.6-.8 1.6-.3.8,.1.8-.4.8,.2 2.5-.2.8-.5.8-.2.8-.7.8-.2 1.7-1.2.8-.2 4-3.6.8-.6.8-.2.9-.7.8-.7 1.6-.4 1.6-1.1.8,0 .8,.6.9,1.4 2.4,6.7.8,1.8 3.3,4 .8,.5 3.2,2.9 4.1,1.4.8,0 3.2,.7 1.7,.1.8,.4 2.4-.2 1.6,.3.8-.4 2.5,.4.8-.3.8,.2 1.6-.1.8,.2.8-.2.9,.3.8,0 .8,.5 2.4,0 1.6-.3.9-.5 1.6,.1 2.4-.3.8,.2 3.3-1 2.4-.3.8-.7 1.6-.5.9-.6 2.4-.5 2.4-1.5 1.7-1.8.8-.3 1.6-1.7 2.4-1.5 1.7-1.5.8-.4 2.4-2.5.8-1.1.8-.6.8-1.1.8-.4.9-.9 2.4-1.5.8,0 2.4-1.2 1.7,0 .8-.6.8,.1 1.6,1.2 1.6,2.1 1.7,3.6 4,7.7 2.5,3.5.8,.7.8,1.4 4,4.8 2.5,2.4.8,.4 2.4,.5.8,.5.9-.1.8,.2 2.4,1.3.8-.2 1.6,.3.8,.4.9,.2 1.6-.1.8,.3 3.2,.3.9,.4.8-.2.8,.2 1.6-.4.8,.2.8-.1 2.5,.8 1.6-.3 1.6,.2 1.6-.3 1.7,.8.8,.2.8-.2 2.4,.6 1.6-.3.9,.3 4.8,.7.8,.2 0,17.8" stroke-dasharray="41.10 53.21 9999"/><path d="M355.6,161.6l2.5,0 1.6,1 2.4,0 .8,.4 2.5,.3 1.6,.4.8-.1 2.5,.3 1.6-.1.8-.2 1.6-.1.8-.5 1.7,.7.8-.1.8,.4.8-.1.8,.5.8,.1.8-.5.8,.2.8-.4.9,.3 1.6-.8 1.6-.3.8,.1.8-.4.8,.2 2.5-.2.8-.5.8-.2.8-.7.8-.2 1.7-1.2.8-.2 4-3.6.8-.6.8-.2.9-.7" fill="none" stroke-width="0.68"/>
<path d="M354.4,204.4l0-40.8 2.4-.2.8,.3 2.5,.2.8,.6 1.6,.6 1.6-.5.8,.1.8-.6 1.7-.3 1.6,.9.8,.3 1.6,.1.8,.2 1.7-.1.8-.3 1.6,.5.8-.3.8,.1.8-.3 1.7,.2.8-.2.8,.2.8-.3 1.6,.4 1.6-.7 2.5-.5.8-.4 1.6,0 2.4-.7.9-.7.8-.1 3.2-2.8.8-.4.8-1.2 3.3-1.7 1.6-1.2.8-.2 1.7-1.2.8,0 .8,.4 1.6,3.8.8,2.8.8,2 1.6,3.2 1.7,2.4 1.6,1.2 4.1,1.9 1.6,1.4 3.2,.5.8-.4 3.3,.7.8-.2 1.6,.5.8-.2 1.7,.4 1.6,.9.8,.1 1.6,.7 2.5-.8 2.4-.2.8,.3.8-.1.8,.2.8,.5.9,.2 1.6-.7 1.6-.1.8-.3 1.6,0 .8,.3.9-.2 1.6-.1.8-.4.8,.1 1.6-.7 1.7-1 .8-.1 1.6-1.2 1.6-.5 4.1-1.8 4.8-5.7.9,0 2.4-2.1 1.6-1.5 1.6-2.1 1.7-1.3.8-.3 1.6-1.8 1.6-.6 1.7-1 .8-.3 2.4-.2 1.6,.4 3.3,2.9 3.2,5.6.8,1.9 3.3,6 1.6,2.2 2.4,4 .8,.7.9,1.3 1.6,1.8 3.2,1.3 1.7,.3 2.4,1 1.6,.5 3.3,.3.8-.4 1.6,.5 2.4-.1.9,.7 1.6-.2 1.6,.7.8-.1 1.6,.1.8,.4 1.7-.2 2.4,.5.8-.2 1.6,.5 1.7-.1 1.6,.6 3.2,.6 2.5,.2.8-.2.8,.4 1.6,.3.8-.1 2.5,.1 0,18.2" stroke-dasharray="40.80 52.96 9999"/><path d="M354.4,163.6l2.4-.2.8,.3 2.5,.2.8,.6 1.6,.6 1.6-.5.8,.1.8-.6 1.7-.3 1.6,.9.8,.3 1.6,.1.8,.2 1.7-.1.8-.3 1.6,.5.8-.3.8,.1.8-.3 1.7,.2.8-.2.8,.2.8-.3 1.6,.4 1.6-.7 2.5-.5.8-.4 1.6,0 2.4-.7.9-.7.8-.1 3.2-2.8.8-.4.8-1.2 3.3-1.7" fill="none" stroke-width="0.68"/>
<path d="M353.1,206l0-41.5.8,.7 2.4,.6 1.7-.3 2.4,.3.8-.3 1.6,.9.9-.3.8,.1.8,.5.8,.2.8-.4.8-.1.8,.6 1.7-.4 2.4,1 .8-.4.8,.1.8-.2.8-.4.8,.1.9-.8.8,.4 2.4,.4.8-.3.8,.5.8-.6.9,.1.8-.2 2.4-1.4.8-.1.8-.8.8,.1 1.7-.6 1.6-1.3.8-.1.8-.9.8,.1.8-.1.8-.5 1.7-.5 2.4-2.7.8-.3 2.5-2.4 2.4-.5.8,.4.8,1.6 2.5,7.7 1.6,3.5.8,1.3.8,.4 3.2,2.5.9,.2.8,.8 3.2,1.8 2.5,.1.8,.4 1.6-.2 1.6,1.1.8,.2 1.7-.1 2.4-.5.8,.4 2.4,.5 1.7-.3 1.6,.2.8-.2 1.6-.1.8,.5 1.7-.6.8,.1 1.6-.2 1.6,.3.8-.2 1.7,.2.8,.4.8-.5 3.2,.1.8-.6 2.5-.5 1.6-.9.8-.1 1.6-1.2.8-.2 4.1-2.7.8-1.2 1.6-1.4 1.7-.8 2.4-2.4.8-.5 1.6-2.7 2.5-1.2 1.6-1.5.8-.3 1.6-1.6.8-1.2 1.7-.8.8,.1.8-.7.8-.2.8,.5.8-.5.8,.1 1.7,1 1.6,1.7 2.4,3.5 4.1,7.8 2.4,3.6 1.6,3.2.9,.7 2.4,3.8.8,.1.8,.4.8,.9.8,.4 1.7,.6.8,.6 1.6,.2 1.6,.7 1.6,.1 1.7,.8.8-.2 1.6,0 .8,.5 4.1,1.3 3.2,0 1.7-.3 2.4,.5.8-.1.8,.3 1.6,0 1.7,.4 1.6-.2 1.6,.5 2.4-.1.9,.5.8,.1 2.4-.1.8,.3.8-.2 1.7,.6 3.2,.5 0,18" stroke="none"/>
<path d="M353.1,164.5l.8,.7 2.4,.6 1.7-.3 2.4,.3.8-.3 1.6,.9.9-.3.8,.1.8,.5.8,.2.8-.4.8-.1.8,.6 1.7-.4 2.4,1 .8-.4.8,.1.8-.2.8-.4.8,.1.9-.8.8,.4 2.4,.4.8-.3.8,.5.8-.6.9,.1.8-.2 2.4-1.4.8-.1.8-.8.8,.1 1.7-.6 1.6-1.3.8-.1.8-.9.8,.1.8-.1.8-.5 1.7-.5 2.4-2.7.8-.3 2.5-2.4 2.4-.5.8,.4.8,1.6 2.5,7.7 1.6,3.5.8,1.3.8,.4 3.2,2.5.9,.2.8,.8 3.2,1.8 2.5,.1.8,.4 1.6-.2 1.6,1.1.8,.2 1.7-.1 2.4-.5.8,.4 2.4,.5 1.7-.3 1.6,.2.8-.2 1.6-.1.8,.5 1.7-.6.8,.1 1.6-.2 1.6,.3.8-.2 1.7,.2.8,.4.8-.5 3.2,.1.8-.6 2.5-.5 1.6-.9.8-.1 1.6-1.2.8-.2 4.1-2.7.8-1.2 1.6-1.4 1.7-.8 2.4-2.4.8-.5 1.6-2.7 2.5-1.2 1.6-1.5.8-.3 1.6-1.6.8-1.2 1.7-.8.8,.1.8-.7.8-.2.8,.5.8-.5.8,.1 1.7,1 1.6,1.7 2.4,3.5 4.1,7.8 2.4,3.6 1.6,3.2.9,.7 2.4,3.8.8,.1.8,.4.8,.9.8,.4 1.7,.6.8,.6 1.6,.2 1.6,.7 1.6,.1 1.7,.8.8-.2 1.6,0 .8,.5 4.1,1.3 3.2,0 1.7-.3 2.4,.5.8-.1.8,.3 1.6,0 1.7,.4 1.6-.2 1.6,.5 2.4-.1.9,.5.8,.1 2.4-.1.8,.3.8-.2 1.7,.6 3.2,.5 0,18" fill="none"/>
<polygon points="556.6,188.4 557.4,186.6 558.6,185.3 559.9,183.8 561.2,182.1 562.5,180.3 563.7,178.9 565.0,177.3 566.3,175.5 567.5,174.6 568.8,172.8 570.1,170.7 571.3,169.7 572.6,168.3 573.9,166.4 575.2,165.5 576.4,163.3 577.7,162.1 579.0,160.3 580.2,159.3 581.5,157.7 582.8,155.9 584.0,154.1 585.3,152.8 586.6,151.5 587.9,149.4 589.1,147.6 590.4,146.4 591.7,144.8 592.9,143.6 594.2,142.0 595.5,140.6 596.7,138.6 598.0,137.7 599.3,135.5 600.5,134.1 601.8,132.5 604.4,129.5 605.6,127.6 606.9,125.9 608.2,125.3 609.4,123.3 610.7,121.4 612.0,120.0 613.2,118.3 614.5,116.8 615.8,114.6 617.1,113.4 618.3,111.9 619.6,110.0 619.6,124.7 618.3,126.3 617.1,128.0 615.8,129.6 614.5,131.2 613.2,132.8 612.0,134.5 610.7,136.1 609.4,137.7 608.2,139.4 606.9,141.0 605.6,142.6 604.4,144.3 601.8,147.5 600.5,149.1 599.3,150.8 598.0,152.4 596.7,154.0 595.5,155.7 594.2,157.3 592.9,158.9 591.7,160.6 590.4,162.2 589.1,163.8 587.9,165.4 586.6,167.1 585.3,168.7 584.0,170.3 582.8,172.0 581.5,173.6 580.2,175.2 579.0,176.9 577.7,178.5 576.4,180.1 575.2,181.8 573.9,183.4 572.6,185.0 571.3,186.6 570.1,188.3 568.8,189.9 567.5,191.5 566.3,193.2 565.0,194.8 563.7,196.4 562.5,198.0 561.2,199.7 559.9,201.3 558.6,202.9 557.4,204.6 556.1,206.2 556.6,206.0" fill="#fff" stroke="none"/>
<path d="M561.2,181.7V199.5M566.3,175.0V193.0M570.1,170.3V188.1M575.2,165.1V181.6M580.2,158.9V175.0M585.3,152.3V168.5M589.1,147.1V163.6M594.2,141.6V157.1M599.3,135.0V150.6M605.6,127.2V142.4M609.4,122.8V137.5M614.5,116.3V131.0M619.6,109.6V124.5" stroke="#666" stroke-width="0.8" fill="none"/></g>
<g stroke="#555" stroke-width="0.7" fill="none">
<line x1="353" y1="206.4" x2="556" y2="206.4"/>
<line x1="556" y1="206.4" x2="620.5" y2="124"/>
</g>
<path d="M352.1,206.4v2.6M360.2,206.4v1.6M368.3,206.4v1.6M376.5,206.4v1.6M384.6,206.4v1.6M392.7,206.4v2.6M400.8,206.4v1.6M408.9,206.4v1.6M417.1,206.4v1.6M425.2,206.4v1.6M433.3,206.4v2.6M441.4,206.4v1.6M449.5,206.4v1.6M457.7,206.4v1.6M465.8,206.4v1.6M473.9,206.4v2.6M482.0,206.4v1.6M490.1,206.4v1.6M498.3,206.4v1.6M506.4,206.4v1.6M514.5,206.4v2.6M522.6,206.4v1.6M530.7,206.4v1.6M538.9,206.4v1.6M547.0,206.4v1.6M555.1,206.4v2.6" stroke="#555" stroke-width="0.7" fill="none"/>
<path d="M561.4,199.5h3M576.0,180.9h3M590.6,162.2h3M605.1,143.6h3M619.7,125.0h3" stroke="#555" stroke-width="0.7" fill="none"/>
<text transform="translate(15.43,158.00) rotate(-90)" font-size="9.7" text-anchor="middle">Intensity (Arb. Units)</text>
<text x="90.3" y="42.6" font-size="11" text-anchor="start" font-weight="bold" >(a)</text>
<text transform="translate(126.22,39.60) rotate(-90)" font-size="6.9" text-anchor="middle">(010)</text>
<text transform="translate(148.22,42.40) rotate(-90)" font-size="6.9" text-anchor="middle">(002)</text>
<text transform="translate(168.82,38.50) rotate(-90)" font-size="6.9" text-anchor="middle">(011)</text>
<text x="181.0" y="45.5" font-size="10.2" text-anchor="start" font-weight="bold" >ZnO</text>
<text transform="translate(224.38,89.30) rotate(-90)" font-size="7.1" text-anchor="middle">(012)</text>
<text transform="translate(274.67,90.10) rotate(-90)" font-size="7.1" text-anchor="middle">(110)</text>
<text transform="translate(65.97,178.80) rotate(-90)" font-size="8.7" text-anchor="middle">(111)</text>
<text transform="translate(98.62,187.50) rotate(-90)" font-size="8.5" text-anchor="middle">(200)</text>
<text transform="translate(192.58,197.80) rotate(-90)" font-size="6.7" text-anchor="middle">(022)</text>
<text x="65.3" y="199.0" font-size="10.8" text-anchor="start" font-weight="bold" >ZnO<tspan font-size="7.5" dy="3.2">2</tspan></text>
<text x="26.3" y="215.6" font-size="7.4" text-anchor="middle" font-weight="bold" >20</text>
<text x="59.3" y="215.6" font-size="7.4" text-anchor="middle" font-weight="bold" >25</text>
<text x="92.3" y="215.6" font-size="7.4" text-anchor="middle" font-weight="bold" >30</text>
<text x="125.3" y="215.6" font-size="7.4" text-anchor="middle" font-weight="bold" >35</text>
<text x="158.3" y="215.6" font-size="7.4" text-anchor="middle" font-weight="bold" >40</text>
<text x="191.3" y="215.6" font-size="7.4" text-anchor="middle" font-weight="bold" >45</text>
<text x="224.3" y="215.6" font-size="7.4" text-anchor="middle" font-weight="bold" >50</text>
<text x="113.8" y="225.9" font-size="9.8" text-anchor="start" font-weight="bold" >2 <tspan font-weight="normal">θ</tspan> /°</text>
<text x="240.6" y="199.9" font-size="7.9" text-anchor="start" font-weight="bold" >100</text>
<text x="255.2" y="181.2" font-size="7.9" text-anchor="start" font-weight="bold" >200</text>
<text x="269.9" y="162.4" font-size="7.9" text-anchor="start" font-weight="bold" >300</text>
<text x="284.6" y="143.7" font-size="7.9" text-anchor="start" font-weight="bold" >400</text>
<text x="299.2" y="125.0" font-size="7.9" text-anchor="start" font-weight="bold" >500</text>
<text transform="translate(300.70,175.00) rotate(-61)" font-size="11.4" text-anchor="middle">Temperature /°C</text>
<text transform="translate(346.73,158.20) rotate(-90)" font-size="9.7" text-anchor="middle">Intensity (Arb. Units)</text>
<text x="419.7" y="43.9" font-size="11" text-anchor="start" font-weight="bold" >(b)</text>
<text transform="translate(461.07,38.60) rotate(-90)" font-size="7.1" text-anchor="middle">(010)</text>
<text transform="translate(503.77,48.60) rotate(-90)" font-size="7.1" text-anchor="middle">(002)</text>
<text transform="translate(555.07,43.40) rotate(-90)" font-size="7.1" text-anchor="middle">(011)</text>
<text x="509.4" y="47.6" font-size="10.1" text-anchor="start" font-weight="bold" >ZnO</text>
<text transform="translate(402.30,179.70) rotate(-90)" font-size="8.8" text-anchor="middle">(111)</text>
<text transform="translate(491.50,185.50) rotate(-90)" font-size="8.8" text-anchor="middle">(200)</text>
<text x="427.3" y="198.5" font-size="11" text-anchor="start" font-weight="bold" >ZnO<tspan font-size="7.5" dy="3.2">2</tspan></text>
<text x="352.1" y="216.6" font-size="7.0" text-anchor="middle" font-weight="bold" >24</text>
<text x="392.7" y="216.6" font-size="7.0" text-anchor="middle" font-weight="bold" >26</text>
<text x="433.3" y="216.6" font-size="7.0" text-anchor="middle" font-weight="bold" >28</text>
<text x="473.9" y="216.6" font-size="7.0" text-anchor="middle" font-weight="bold" >30</text>
<text x="514.5" y="216.6" font-size="7.0" text-anchor="middle" font-weight="bold" >32</text>
<text x="555.1" y="216.6" font-size="7.0" text-anchor="middle" font-weight="bold" >34</text>
<text x="443.1" y="226.4" font-size="9.8" text-anchor="start" font-weight="bold" >2 <tspan font-weight="normal">θ</tspan> /°</text>
<text transform="translate(570.0,200.5) rotate(-8) skewX(-30) scale(1,0.8)" font-size="7.2">100</text>
<text transform="translate(584.2,181.9) rotate(-8) skewX(-30) scale(1,0.8)" font-size="7.2">200</text>
<text transform="translate(598.4,163.3) rotate(-8) skewX(-30) scale(1,0.8)" font-size="7.2">300</text>
<text transform="translate(612.6,144.7) rotate(-8) skewX(-30) scale(1,0.8)" font-size="7.2">400</text>
<text transform="translate(626.8,126.1) rotate(-8) skewX(-30) scale(1,0.8)" font-size="7.2">500</text>
<text transform="translate(627.00,175.50) rotate(-61)" font-size="11.4" text-anchor="middle">Temperature /°C</text>
<line x1="272.2" y1="197.6" x2="297.5" y2="153.6" stroke="#000" stroke-width="1.8"/>
<polygon points="301.5,146.7 299.9,156.1 294.2,152.9" fill="#000"/>
<line x1="598.1" y1="198.3" x2="622.9" y2="154.7" stroke="#000" stroke-width="1.8"/>
<polygon points="626.9,147.7 625.3,157.2 619.6,153.9" fill="#000"/>
<rect x="1.2" y="0.9" width="656.1" height="268.5" fill="none" stroke="#666" stroke-width="1.3"/>
<line x1="330.45" y1="1" x2="330.45" y2="270" stroke="#444" stroke-width="1.05"/>
</svg>
</body></html>
